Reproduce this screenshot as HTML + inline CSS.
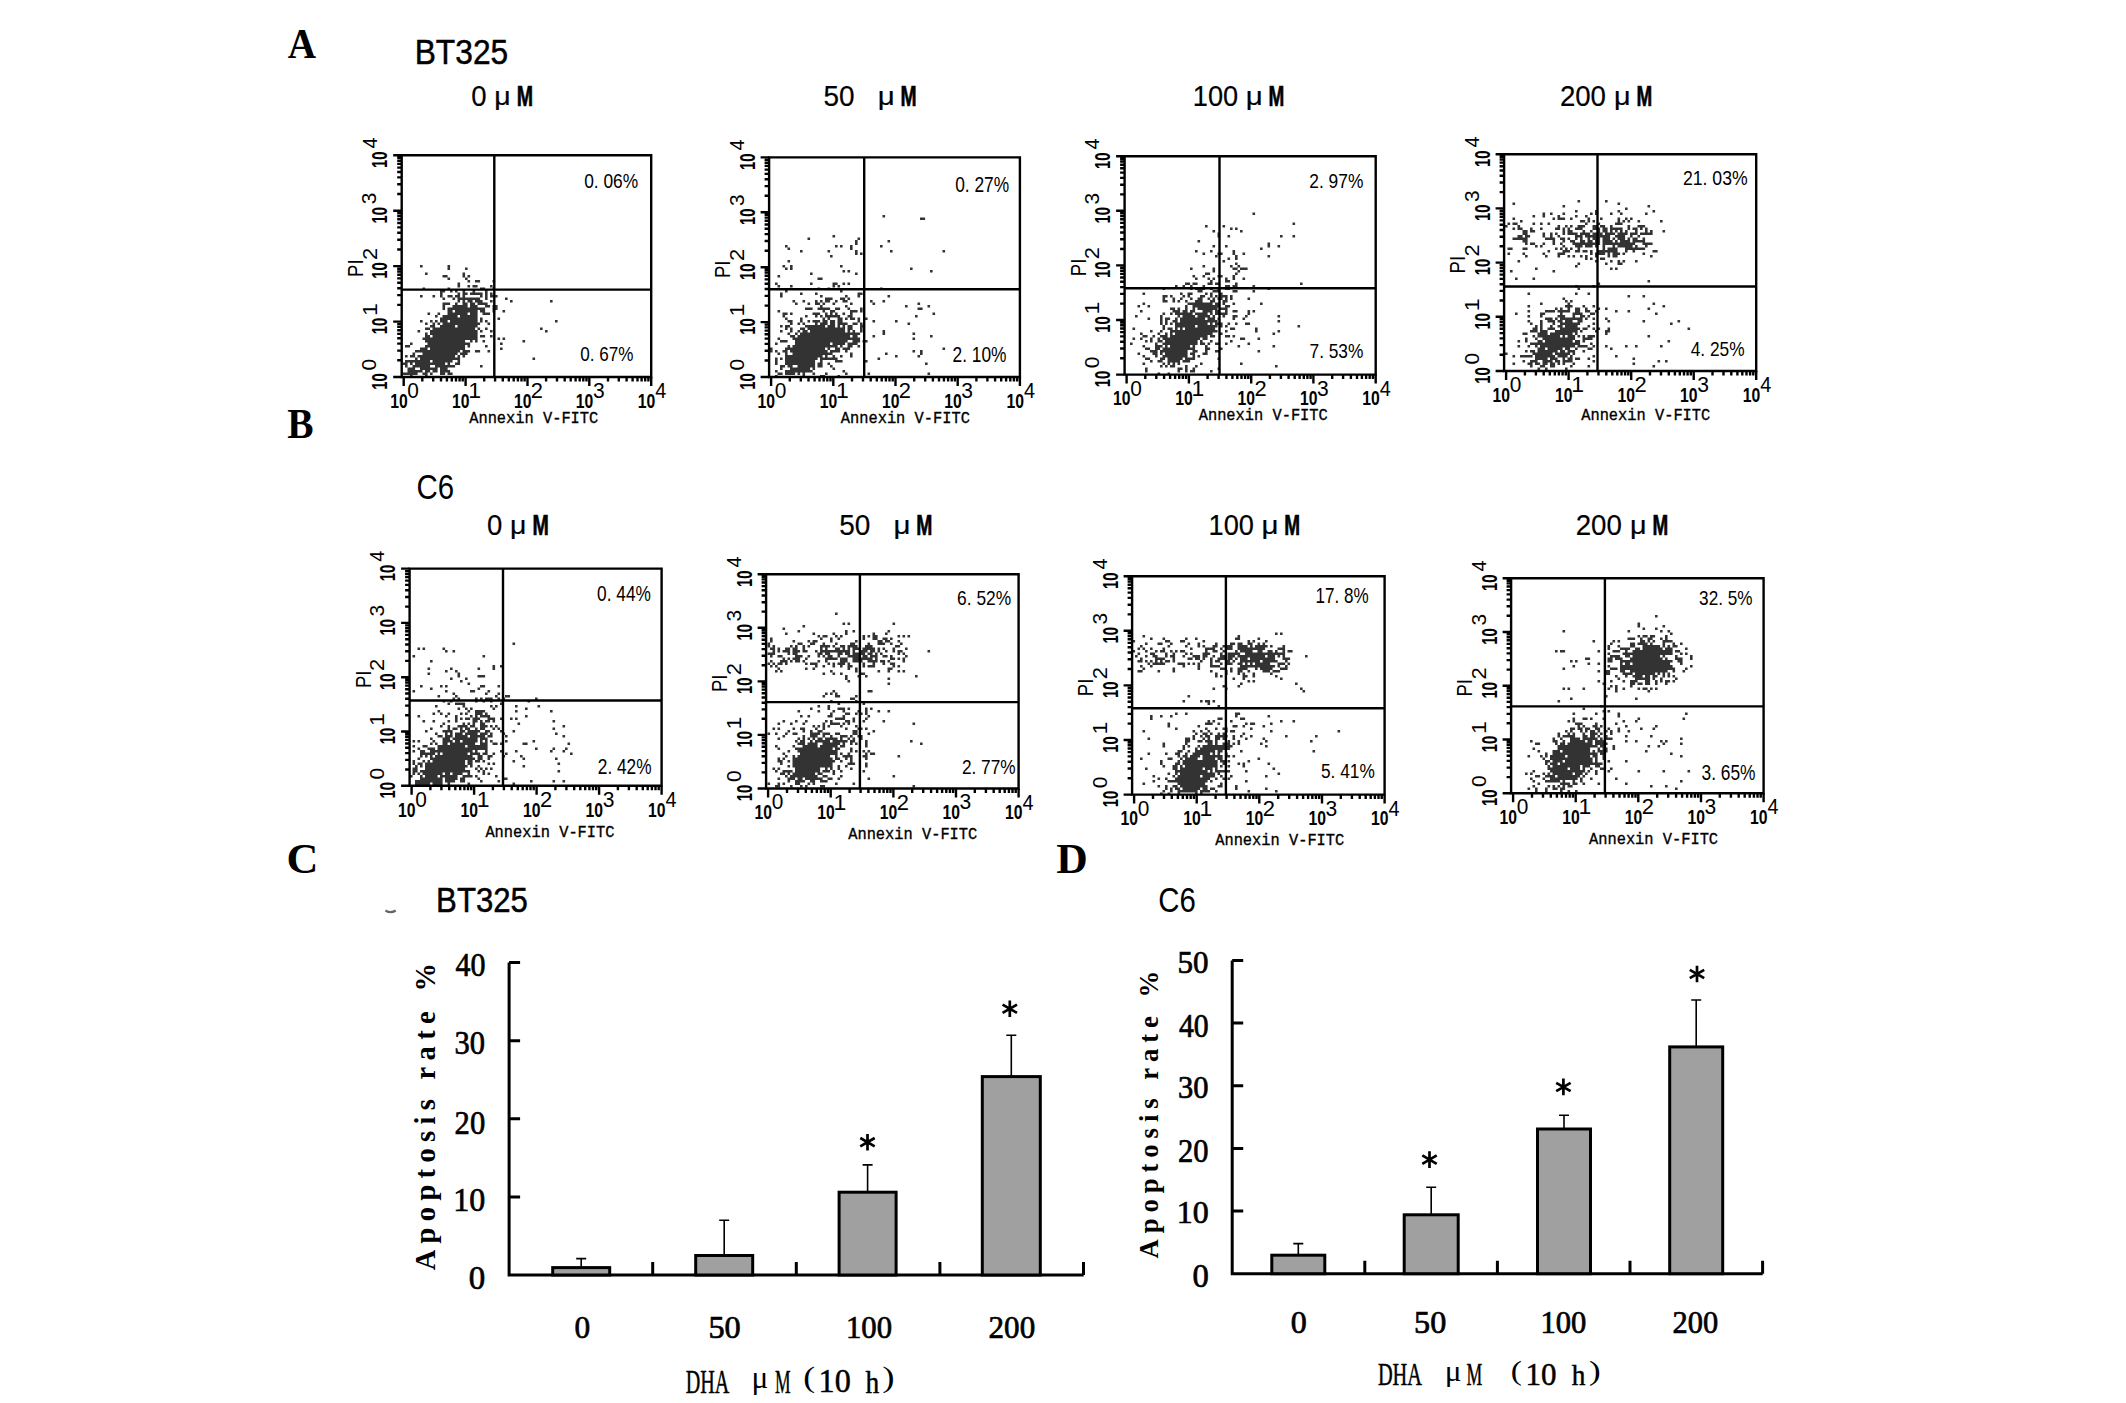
<!DOCTYPE html><html><head><meta charset="utf-8"><style>html,body{margin:0;padding:0;background:#fff;width:2126px;height:1403px;overflow:hidden}svg{display:block}.S{font-family:"Liberation Sans",sans-serif}.R{font-family:"Liberation Serif",serif}.M{font-family:"Liberation Mono",monospace}</style></head><body>
<svg width="2126" height="1403" viewBox="0 0 2126 1403">
<rect width="2126" height="1403" fill="#fff"/>
<text class="R" x="287.8" y="58.2" font-size="42.9" font-weight="bold" textLength="28.3" lengthAdjust="spacingAndGlyphs">A</text>
<text class="R" x="287.2" y="437.6" font-size="42.4" font-weight="bold" textLength="26.3" lengthAdjust="spacingAndGlyphs">B</text>
<text class="R" x="286.4" y="872.7" font-size="42.4" font-weight="bold" textLength="31.9" lengthAdjust="spacingAndGlyphs">C</text>
<text class="R" x="1056.3" y="873.1" font-size="43.2" font-weight="bold" textLength="31.5" lengthAdjust="spacingAndGlyphs">D</text>
<text class="S" x="414.7" y="64.4" font-size="35.6" textLength="93.5" lengthAdjust="spacingAndGlyphs" stroke="#000" stroke-width="0.5">BT325</text>
<text class="S" x="416.6" y="499.1" font-size="35.5" textLength="37.6" lengthAdjust="spacingAndGlyphs">C6</text>
<text class="S" x="436.1" y="912" font-size="35.6" textLength="91.8" lengthAdjust="spacingAndGlyphs" stroke="#000" stroke-width="0.5">BT325</text>
<text class="S" x="1158.3" y="911.6" font-size="35.5" textLength="37.5" lengthAdjust="spacingAndGlyphs">C6</text>
<path d="M385.5 910.5q5.2 3.4 10.2 0" stroke="#666" stroke-width="2.2" fill="none"/>
<text class="S" x="471.2" y="105.5" font-size="29" textLength="15.3" lengthAdjust="spacingAndGlyphs" stroke="#000" stroke-width="0.2">0</text>
<text class="S" x="494.2" y="104.7" font-size="26.3" textLength="16.4" lengthAdjust="spacingAndGlyphs" stroke="#000" stroke-width="0.2">μ</text>
<text class="S" x="516.8" y="105.8" font-size="29.9" font-weight="bold" textLength="16.3" lengthAdjust="spacingAndGlyphs" stroke="#000" stroke-width="0.7">M</text>
<path fill="#333" d="M402.5 362.5h2.6v2.6h-2.6zM402.5 372.5h2.6v2.6h-2.6zM405 345h2.6v2.6h-2.6zM405 355h2.6v2.6h-2.6zM405 360h2.6v2.6h-2.6zM405 362.5h2.6v2.6h-2.6zM405 365h2.6v2.6h-2.6zM405 372.5h2.6v2.6h-2.6zM407.5 345h2.6v2.6h-2.6zM407.5 360h2.6v2.6h-2.6zM407.5 367.5h2.6v2.6h-2.6zM407.5 370h2.6v2.6h-2.6zM407.5 372.5h2.6v2.6h-2.6zM410 342.5h2.6v2.6h-2.6zM410 355h2.6v2.6h-2.6zM410 360h2.6v2.6h-2.6zM410 362.5h2.6v2.6h-2.6zM410 367.5h2.6v2.6h-2.6zM410 370h2.6v2.6h-2.6zM410 372.5h2.6v2.6h-2.6zM410 375h2.6v2.6h-2.6zM412.5 352.5h2.6v2.6h-2.6zM412.5 355h2.6v2.6h-2.6zM412.5 360h2.6v2.6h-2.6zM412.5 365h2.6v2.6h-2.6zM412.5 367.5h2.6v2.6h-2.6zM412.5 370h2.6v2.6h-2.6zM412.5 372.5h2.6v2.6h-2.6zM415 350h2.6v2.6h-2.6zM415 357.5h2.6v2.6h-2.6zM415 360h2.6v2.6h-2.6zM415 362.5h2.6v2.6h-2.6zM415 365h2.6v2.6h-2.6zM415 370h2.6v2.6h-2.6zM415 372.5h2.6v2.6h-2.6zM417.5 330h2.6v2.6h-2.6zM417.5 350h2.6v2.6h-2.6zM417.5 355h2.6v2.6h-2.6zM417.5 360h2.6v2.6h-2.6zM417.5 362.5h2.6v2.6h-2.6zM417.5 365h2.6v2.6h-2.6zM417.5 370h2.6v2.6h-2.6zM420 265h2.6v2.6h-2.6zM420 295h2.6v2.6h-2.6zM420 320h2.6v2.6h-2.6zM420 347.5h2.6v2.6h-2.6zM420 350h2.6v2.6h-2.6zM420 355h2.6v2.6h-2.6zM420 357.5h2.6v2.6h-2.6zM420 360h2.6v2.6h-2.6zM420 362.5h2.6v2.6h-2.6zM420 365h2.6v2.6h-2.6zM420 367.5h2.6v2.6h-2.6zM420 370h2.6v2.6h-2.6zM422.5 287.5h2.6v2.6h-2.6zM422.5 337.5h2.6v2.6h-2.6zM422.5 347.5h2.6v2.6h-2.6zM422.5 350h2.6v2.6h-2.6zM422.5 352.5h2.6v2.6h-2.6zM422.5 355h2.6v2.6h-2.6zM422.5 357.5h2.6v2.6h-2.6zM422.5 360h2.6v2.6h-2.6zM422.5 362.5h2.6v2.6h-2.6zM422.5 365h2.6v2.6h-2.6zM422.5 367.5h2.6v2.6h-2.6zM422.5 372.5h2.6v2.6h-2.6zM425 272.5h2.6v2.6h-2.6zM425 322.5h2.6v2.6h-2.6zM425 327.5h2.6v2.6h-2.6zM425 332.5h2.6v2.6h-2.6zM425 335h2.6v2.6h-2.6zM425 337.5h2.6v2.6h-2.6zM425 340h2.6v2.6h-2.6zM425 345h2.6v2.6h-2.6zM425 347.5h2.6v2.6h-2.6zM425 350h2.6v2.6h-2.6zM425 352.5h2.6v2.6h-2.6zM425 355h2.6v2.6h-2.6zM425 357.5h2.6v2.6h-2.6zM425 360h2.6v2.6h-2.6zM425 362.5h2.6v2.6h-2.6zM425 365h2.6v2.6h-2.6zM425 367.5h2.6v2.6h-2.6zM425 370h2.6v2.6h-2.6zM425 372.5h2.6v2.6h-2.6zM425 375h2.6v2.6h-2.6zM427.5 312.5h2.6v2.6h-2.6zM427.5 327.5h2.6v2.6h-2.6zM427.5 335h2.6v2.6h-2.6zM427.5 337.5h2.6v2.6h-2.6zM427.5 340h2.6v2.6h-2.6zM427.5 342.5h2.6v2.6h-2.6zM427.5 345h2.6v2.6h-2.6zM427.5 350h2.6v2.6h-2.6zM427.5 352.5h2.6v2.6h-2.6zM427.5 355h2.6v2.6h-2.6zM427.5 357.5h2.6v2.6h-2.6zM427.5 360h2.6v2.6h-2.6zM427.5 362.5h2.6v2.6h-2.6zM427.5 365h2.6v2.6h-2.6zM427.5 367.5h2.6v2.6h-2.6zM427.5 370h2.6v2.6h-2.6zM430 320h2.6v2.6h-2.6zM430 325h2.6v2.6h-2.6zM430 330h2.6v2.6h-2.6zM430 332.5h2.6v2.6h-2.6zM430 337.5h2.6v2.6h-2.6zM430 340h2.6v2.6h-2.6zM430 342.5h2.6v2.6h-2.6zM430 345h2.6v2.6h-2.6zM430 347.5h2.6v2.6h-2.6zM430 350h2.6v2.6h-2.6zM430 352.5h2.6v2.6h-2.6zM430 355h2.6v2.6h-2.6zM430 357.5h2.6v2.6h-2.6zM430 362.5h2.6v2.6h-2.6zM430 367.5h2.6v2.6h-2.6zM430 372.5h2.6v2.6h-2.6zM432.5 295h2.6v2.6h-2.6zM432.5 322.5h2.6v2.6h-2.6zM432.5 325h2.6v2.6h-2.6zM432.5 327.5h2.6v2.6h-2.6zM432.5 330h2.6v2.6h-2.6zM432.5 332.5h2.6v2.6h-2.6zM432.5 335h2.6v2.6h-2.6zM432.5 337.5h2.6v2.6h-2.6zM432.5 340h2.6v2.6h-2.6zM432.5 342.5h2.6v2.6h-2.6zM432.5 345h2.6v2.6h-2.6zM432.5 347.5h2.6v2.6h-2.6zM432.5 350h2.6v2.6h-2.6zM432.5 352.5h2.6v2.6h-2.6zM432.5 355h2.6v2.6h-2.6zM432.5 357.5h2.6v2.6h-2.6zM432.5 360h2.6v2.6h-2.6zM432.5 362.5h2.6v2.6h-2.6zM432.5 367.5h2.6v2.6h-2.6zM432.5 370h2.6v2.6h-2.6zM435 315h2.6v2.6h-2.6zM435 320h2.6v2.6h-2.6zM435 327.5h2.6v2.6h-2.6zM435 330h2.6v2.6h-2.6zM435 332.5h2.6v2.6h-2.6zM435 335h2.6v2.6h-2.6zM435 337.5h2.6v2.6h-2.6zM435 340h2.6v2.6h-2.6zM435 342.5h2.6v2.6h-2.6zM435 345h2.6v2.6h-2.6zM435 347.5h2.6v2.6h-2.6zM435 350h2.6v2.6h-2.6zM435 352.5h2.6v2.6h-2.6zM435 355h2.6v2.6h-2.6zM435 357.5h2.6v2.6h-2.6zM435 360h2.6v2.6h-2.6zM435 362.5h2.6v2.6h-2.6zM435 365h2.6v2.6h-2.6zM435 367.5h2.6v2.6h-2.6zM435 370h2.6v2.6h-2.6zM437.5 312.5h2.6v2.6h-2.6zM437.5 322.5h2.6v2.6h-2.6zM437.5 327.5h2.6v2.6h-2.6zM437.5 330h2.6v2.6h-2.6zM437.5 332.5h2.6v2.6h-2.6zM437.5 335h2.6v2.6h-2.6zM437.5 337.5h2.6v2.6h-2.6zM437.5 340h2.6v2.6h-2.6zM437.5 342.5h2.6v2.6h-2.6zM437.5 345h2.6v2.6h-2.6zM437.5 347.5h2.6v2.6h-2.6zM437.5 350h2.6v2.6h-2.6zM437.5 352.5h2.6v2.6h-2.6zM437.5 355h2.6v2.6h-2.6zM437.5 357.5h2.6v2.6h-2.6zM437.5 360h2.6v2.6h-2.6zM437.5 362.5h2.6v2.6h-2.6zM437.5 365h2.6v2.6h-2.6zM440 290h2.6v2.6h-2.6zM440 292.5h2.6v2.6h-2.6zM440 295h2.6v2.6h-2.6zM440 317.5h2.6v2.6h-2.6zM440 320h2.6v2.6h-2.6zM440 325h2.6v2.6h-2.6zM440 327.5h2.6v2.6h-2.6zM440 330h2.6v2.6h-2.6zM440 332.5h2.6v2.6h-2.6zM440 335h2.6v2.6h-2.6zM440 337.5h2.6v2.6h-2.6zM440 340h2.6v2.6h-2.6zM440 342.5h2.6v2.6h-2.6zM440 345h2.6v2.6h-2.6zM440 347.5h2.6v2.6h-2.6zM440 350h2.6v2.6h-2.6zM440 352.5h2.6v2.6h-2.6zM440 355h2.6v2.6h-2.6zM440 357.5h2.6v2.6h-2.6zM440 360h2.6v2.6h-2.6zM440 362.5h2.6v2.6h-2.6zM440 365h2.6v2.6h-2.6zM440 367.5h2.6v2.6h-2.6zM440 370h2.6v2.6h-2.6zM440 372.5h2.6v2.6h-2.6zM442.5 275h2.6v2.6h-2.6zM442.5 290h2.6v2.6h-2.6zM442.5 297.5h2.6v2.6h-2.6zM442.5 302.5h2.6v2.6h-2.6zM442.5 305h2.6v2.6h-2.6zM442.5 307.5h2.6v2.6h-2.6zM442.5 315h2.6v2.6h-2.6zM442.5 317.5h2.6v2.6h-2.6zM442.5 320h2.6v2.6h-2.6zM442.5 322.5h2.6v2.6h-2.6zM442.5 325h2.6v2.6h-2.6zM442.5 327.5h2.6v2.6h-2.6zM442.5 330h2.6v2.6h-2.6zM442.5 332.5h2.6v2.6h-2.6zM442.5 335h2.6v2.6h-2.6zM442.5 337.5h2.6v2.6h-2.6zM442.5 340h2.6v2.6h-2.6zM442.5 342.5h2.6v2.6h-2.6zM442.5 345h2.6v2.6h-2.6zM442.5 347.5h2.6v2.6h-2.6zM442.5 350h2.6v2.6h-2.6zM442.5 352.5h2.6v2.6h-2.6zM442.5 355h2.6v2.6h-2.6zM442.5 357.5h2.6v2.6h-2.6zM442.5 360h2.6v2.6h-2.6zM442.5 362.5h2.6v2.6h-2.6zM442.5 365h2.6v2.6h-2.6zM442.5 367.5h2.6v2.6h-2.6zM442.5 370h2.6v2.6h-2.6zM442.5 372.5h2.6v2.6h-2.6zM445 275h2.6v2.6h-2.6zM445 302.5h2.6v2.6h-2.6zM445 315h2.6v2.6h-2.6zM445 317.5h2.6v2.6h-2.6zM445 320h2.6v2.6h-2.6zM445 322.5h2.6v2.6h-2.6zM445 325h2.6v2.6h-2.6zM445 327.5h2.6v2.6h-2.6zM445 330h2.6v2.6h-2.6zM445 332.5h2.6v2.6h-2.6zM445 335h2.6v2.6h-2.6zM445 337.5h2.6v2.6h-2.6zM445 340h2.6v2.6h-2.6zM445 342.5h2.6v2.6h-2.6zM445 345h2.6v2.6h-2.6zM445 347.5h2.6v2.6h-2.6zM445 350h2.6v2.6h-2.6zM445 352.5h2.6v2.6h-2.6zM445 355h2.6v2.6h-2.6zM445 357.5h2.6v2.6h-2.6zM445 360h2.6v2.6h-2.6zM445 365h2.6v2.6h-2.6zM445 367.5h2.6v2.6h-2.6zM445 370h2.6v2.6h-2.6zM447.5 265h2.6v2.6h-2.6zM447.5 267.5h2.6v2.6h-2.6zM447.5 277.5h2.6v2.6h-2.6zM447.5 287.5h2.6v2.6h-2.6zM447.5 295h2.6v2.6h-2.6zM447.5 302.5h2.6v2.6h-2.6zM447.5 307.5h2.6v2.6h-2.6zM447.5 310h2.6v2.6h-2.6zM447.5 312.5h2.6v2.6h-2.6zM447.5 315h2.6v2.6h-2.6zM447.5 317.5h2.6v2.6h-2.6zM447.5 322.5h2.6v2.6h-2.6zM447.5 325h2.6v2.6h-2.6zM447.5 327.5h2.6v2.6h-2.6zM447.5 330h2.6v2.6h-2.6zM447.5 332.5h2.6v2.6h-2.6zM447.5 335h2.6v2.6h-2.6zM447.5 337.5h2.6v2.6h-2.6zM447.5 340h2.6v2.6h-2.6zM447.5 342.5h2.6v2.6h-2.6zM447.5 345h2.6v2.6h-2.6zM447.5 347.5h2.6v2.6h-2.6zM447.5 350h2.6v2.6h-2.6zM447.5 352.5h2.6v2.6h-2.6zM447.5 355h2.6v2.6h-2.6zM447.5 357.5h2.6v2.6h-2.6zM447.5 360h2.6v2.6h-2.6zM447.5 362.5h2.6v2.6h-2.6zM447.5 365h2.6v2.6h-2.6zM447.5 370h2.6v2.6h-2.6zM447.5 372.5h2.6v2.6h-2.6zM450 290h2.6v2.6h-2.6zM450 295h2.6v2.6h-2.6zM450 307.5h2.6v2.6h-2.6zM450 310h2.6v2.6h-2.6zM450 312.5h2.6v2.6h-2.6zM450 315h2.6v2.6h-2.6zM450 317.5h2.6v2.6h-2.6zM450 320h2.6v2.6h-2.6zM450 322.5h2.6v2.6h-2.6zM450 325h2.6v2.6h-2.6zM450 327.5h2.6v2.6h-2.6zM450 330h2.6v2.6h-2.6zM450 332.5h2.6v2.6h-2.6zM450 335h2.6v2.6h-2.6zM450 337.5h2.6v2.6h-2.6zM450 340h2.6v2.6h-2.6zM450 342.5h2.6v2.6h-2.6zM450 345h2.6v2.6h-2.6zM450 347.5h2.6v2.6h-2.6zM450 350h2.6v2.6h-2.6zM450 352.5h2.6v2.6h-2.6zM450 355h2.6v2.6h-2.6zM450 357.5h2.6v2.6h-2.6zM450 360h2.6v2.6h-2.6zM450 365h2.6v2.6h-2.6zM450 372.5h2.6v2.6h-2.6zM452.5 297.5h2.6v2.6h-2.6zM452.5 305h2.6v2.6h-2.6zM452.5 307.5h2.6v2.6h-2.6zM452.5 312.5h2.6v2.6h-2.6zM452.5 315h2.6v2.6h-2.6zM452.5 317.5h2.6v2.6h-2.6zM452.5 320h2.6v2.6h-2.6zM452.5 322.5h2.6v2.6h-2.6zM452.5 325h2.6v2.6h-2.6zM452.5 327.5h2.6v2.6h-2.6zM452.5 330h2.6v2.6h-2.6zM452.5 332.5h2.6v2.6h-2.6zM452.5 335h2.6v2.6h-2.6zM452.5 337.5h2.6v2.6h-2.6zM452.5 340h2.6v2.6h-2.6zM452.5 342.5h2.6v2.6h-2.6zM452.5 345h2.6v2.6h-2.6zM452.5 347.5h2.6v2.6h-2.6zM452.5 350h2.6v2.6h-2.6zM452.5 352.5h2.6v2.6h-2.6zM452.5 355h2.6v2.6h-2.6zM452.5 357.5h2.6v2.6h-2.6zM452.5 365h2.6v2.6h-2.6zM455 290h2.6v2.6h-2.6zM455 295h2.6v2.6h-2.6zM455 302.5h2.6v2.6h-2.6zM455 305h2.6v2.6h-2.6zM455 307.5h2.6v2.6h-2.6zM455 310h2.6v2.6h-2.6zM455 312.5h2.6v2.6h-2.6zM455 315h2.6v2.6h-2.6zM455 317.5h2.6v2.6h-2.6zM455 320h2.6v2.6h-2.6zM455 322.5h2.6v2.6h-2.6zM455 327.5h2.6v2.6h-2.6zM455 330h2.6v2.6h-2.6zM455 332.5h2.6v2.6h-2.6zM455 335h2.6v2.6h-2.6zM455 337.5h2.6v2.6h-2.6zM455 340h2.6v2.6h-2.6zM455 342.5h2.6v2.6h-2.6zM455 345h2.6v2.6h-2.6zM455 347.5h2.6v2.6h-2.6zM455 350h2.6v2.6h-2.6zM455 352.5h2.6v2.6h-2.6zM455 357.5h2.6v2.6h-2.6zM455 362.5h2.6v2.6h-2.6zM457.5 282.5h2.6v2.6h-2.6zM457.5 285h2.6v2.6h-2.6zM457.5 292.5h2.6v2.6h-2.6zM457.5 295h2.6v2.6h-2.6zM457.5 297.5h2.6v2.6h-2.6zM457.5 300h2.6v2.6h-2.6zM457.5 305h2.6v2.6h-2.6zM457.5 307.5h2.6v2.6h-2.6zM457.5 310h2.6v2.6h-2.6zM457.5 312.5h2.6v2.6h-2.6zM457.5 317.5h2.6v2.6h-2.6zM457.5 320h2.6v2.6h-2.6zM457.5 322.5h2.6v2.6h-2.6zM457.5 325h2.6v2.6h-2.6zM457.5 327.5h2.6v2.6h-2.6zM457.5 330h2.6v2.6h-2.6zM457.5 332.5h2.6v2.6h-2.6zM457.5 335h2.6v2.6h-2.6zM457.5 337.5h2.6v2.6h-2.6zM457.5 340h2.6v2.6h-2.6zM457.5 342.5h2.6v2.6h-2.6zM457.5 345h2.6v2.6h-2.6zM457.5 347.5h2.6v2.6h-2.6zM457.5 350h2.6v2.6h-2.6zM457.5 355h2.6v2.6h-2.6zM457.5 357.5h2.6v2.6h-2.6zM457.5 360h2.6v2.6h-2.6zM457.5 362.5h2.6v2.6h-2.6zM460 297.5h2.6v2.6h-2.6zM460 305h2.6v2.6h-2.6zM460 307.5h2.6v2.6h-2.6zM460 310h2.6v2.6h-2.6zM460 312.5h2.6v2.6h-2.6zM460 315h2.6v2.6h-2.6zM460 317.5h2.6v2.6h-2.6zM460 320h2.6v2.6h-2.6zM460 322.5h2.6v2.6h-2.6zM460 325h2.6v2.6h-2.6zM460 327.5h2.6v2.6h-2.6zM460 330h2.6v2.6h-2.6zM460 332.5h2.6v2.6h-2.6zM460 335h2.6v2.6h-2.6zM460 337.5h2.6v2.6h-2.6zM460 340h2.6v2.6h-2.6zM460 342.5h2.6v2.6h-2.6zM460 345h2.6v2.6h-2.6zM460 347.5h2.6v2.6h-2.6zM460 352.5h2.6v2.6h-2.6zM462.5 272.5h2.6v2.6h-2.6zM462.5 275h2.6v2.6h-2.6zM462.5 290h2.6v2.6h-2.6zM462.5 292.5h2.6v2.6h-2.6zM462.5 295h2.6v2.6h-2.6zM462.5 297.5h2.6v2.6h-2.6zM462.5 300h2.6v2.6h-2.6zM462.5 302.5h2.6v2.6h-2.6zM462.5 305h2.6v2.6h-2.6zM462.5 307.5h2.6v2.6h-2.6zM462.5 310h2.6v2.6h-2.6zM462.5 312.5h2.6v2.6h-2.6zM462.5 315h2.6v2.6h-2.6zM462.5 317.5h2.6v2.6h-2.6zM462.5 320h2.6v2.6h-2.6zM462.5 322.5h2.6v2.6h-2.6zM462.5 325h2.6v2.6h-2.6zM462.5 327.5h2.6v2.6h-2.6zM462.5 330h2.6v2.6h-2.6zM462.5 332.5h2.6v2.6h-2.6zM462.5 335h2.6v2.6h-2.6zM462.5 337.5h2.6v2.6h-2.6zM462.5 340h2.6v2.6h-2.6zM462.5 342.5h2.6v2.6h-2.6zM462.5 345h2.6v2.6h-2.6zM462.5 347.5h2.6v2.6h-2.6zM462.5 350h2.6v2.6h-2.6zM462.5 352.5h2.6v2.6h-2.6zM462.5 355h2.6v2.6h-2.6zM465 267.5h2.6v2.6h-2.6zM465 277.5h2.6v2.6h-2.6zM465 292.5h2.6v2.6h-2.6zM465 297.5h2.6v2.6h-2.6zM465 302.5h2.6v2.6h-2.6zM465 305h2.6v2.6h-2.6zM465 307.5h2.6v2.6h-2.6zM465 310h2.6v2.6h-2.6zM465 312.5h2.6v2.6h-2.6zM465 315h2.6v2.6h-2.6zM465 317.5h2.6v2.6h-2.6zM465 320h2.6v2.6h-2.6zM465 322.5h2.6v2.6h-2.6zM465 325h2.6v2.6h-2.6zM465 327.5h2.6v2.6h-2.6zM465 330h2.6v2.6h-2.6zM465 332.5h2.6v2.6h-2.6zM465 335h2.6v2.6h-2.6zM465 337.5h2.6v2.6h-2.6zM465 342.5h2.6v2.6h-2.6zM465 350h2.6v2.6h-2.6zM465 352.5h2.6v2.6h-2.6zM467.5 275h2.6v2.6h-2.6zM467.5 280h2.6v2.6h-2.6zM467.5 285h2.6v2.6h-2.6zM467.5 297.5h2.6v2.6h-2.6zM467.5 300h2.6v2.6h-2.6zM467.5 307.5h2.6v2.6h-2.6zM467.5 310h2.6v2.6h-2.6zM467.5 315h2.6v2.6h-2.6zM467.5 317.5h2.6v2.6h-2.6zM467.5 320h2.6v2.6h-2.6zM467.5 322.5h2.6v2.6h-2.6zM467.5 325h2.6v2.6h-2.6zM467.5 327.5h2.6v2.6h-2.6zM467.5 330h2.6v2.6h-2.6zM467.5 332.5h2.6v2.6h-2.6zM467.5 335h2.6v2.6h-2.6zM467.5 337.5h2.6v2.6h-2.6zM467.5 342.5h2.6v2.6h-2.6zM467.5 345h2.6v2.6h-2.6zM467.5 350h2.6v2.6h-2.6zM470 292.5h2.6v2.6h-2.6zM470 297.5h2.6v2.6h-2.6zM470 300h2.6v2.6h-2.6zM470 302.5h2.6v2.6h-2.6zM470 305h2.6v2.6h-2.6zM470 307.5h2.6v2.6h-2.6zM470 310h2.6v2.6h-2.6zM470 312.5h2.6v2.6h-2.6zM470 315h2.6v2.6h-2.6zM470 317.5h2.6v2.6h-2.6zM470 320h2.6v2.6h-2.6zM470 322.5h2.6v2.6h-2.6zM470 325h2.6v2.6h-2.6zM470 327.5h2.6v2.6h-2.6zM470 330h2.6v2.6h-2.6zM470 332.5h2.6v2.6h-2.6zM470 335h2.6v2.6h-2.6zM470 337.5h2.6v2.6h-2.6zM470 340h2.6v2.6h-2.6zM472.5 285h2.6v2.6h-2.6zM472.5 290h2.6v2.6h-2.6zM472.5 292.5h2.6v2.6h-2.6zM472.5 297.5h2.6v2.6h-2.6zM472.5 302.5h2.6v2.6h-2.6zM472.5 305h2.6v2.6h-2.6zM472.5 307.5h2.6v2.6h-2.6zM472.5 310h2.6v2.6h-2.6zM472.5 312.5h2.6v2.6h-2.6zM472.5 315h2.6v2.6h-2.6zM472.5 317.5h2.6v2.6h-2.6zM472.5 320h2.6v2.6h-2.6zM472.5 322.5h2.6v2.6h-2.6zM472.5 325h2.6v2.6h-2.6zM472.5 327.5h2.6v2.6h-2.6zM472.5 330h2.6v2.6h-2.6zM472.5 332.5h2.6v2.6h-2.6zM472.5 335h2.6v2.6h-2.6zM472.5 337.5h2.6v2.6h-2.6zM475 280h2.6v2.6h-2.6zM475 285h2.6v2.6h-2.6zM475 292.5h2.6v2.6h-2.6zM475 297.5h2.6v2.6h-2.6zM475 300h2.6v2.6h-2.6zM475 305h2.6v2.6h-2.6zM475 307.5h2.6v2.6h-2.6zM475 310h2.6v2.6h-2.6zM475 312.5h2.6v2.6h-2.6zM475 315h2.6v2.6h-2.6zM475 317.5h2.6v2.6h-2.6zM475 320h2.6v2.6h-2.6zM475 322.5h2.6v2.6h-2.6zM475 325h2.6v2.6h-2.6zM475 330h2.6v2.6h-2.6zM475 332.5h2.6v2.6h-2.6zM475 335h2.6v2.6h-2.6zM475 337.5h2.6v2.6h-2.6zM475 340h2.6v2.6h-2.6zM475 350h2.6v2.6h-2.6zM477.5 280h2.6v2.6h-2.6zM477.5 292.5h2.6v2.6h-2.6zM477.5 297.5h2.6v2.6h-2.6zM477.5 300h2.6v2.6h-2.6zM477.5 302.5h2.6v2.6h-2.6zM477.5 307.5h2.6v2.6h-2.6zM477.5 322.5h2.6v2.6h-2.6zM477.5 327.5h2.6v2.6h-2.6zM477.5 350h2.6v2.6h-2.6zM480 287.5h2.6v2.6h-2.6zM480 292.5h2.6v2.6h-2.6zM480 295h2.6v2.6h-2.6zM480 300h2.6v2.6h-2.6zM480 302.5h2.6v2.6h-2.6zM480 307.5h2.6v2.6h-2.6zM480 310h2.6v2.6h-2.6zM480 317.5h2.6v2.6h-2.6zM480 320h2.6v2.6h-2.6zM480 330h2.6v2.6h-2.6zM480 335h2.6v2.6h-2.6zM480 365h2.6v2.6h-2.6zM482.5 287.5h2.6v2.6h-2.6zM482.5 302.5h2.6v2.6h-2.6zM482.5 307.5h2.6v2.6h-2.6zM482.5 310h2.6v2.6h-2.6zM482.5 312.5h2.6v2.6h-2.6zM482.5 335h2.6v2.6h-2.6zM482.5 340h2.6v2.6h-2.6zM485 290h2.6v2.6h-2.6zM485 292.5h2.6v2.6h-2.6zM485 295h2.6v2.6h-2.6zM485 297.5h2.6v2.6h-2.6zM485 302.5h2.6v2.6h-2.6zM485 305h2.6v2.6h-2.6zM485 312.5h2.6v2.6h-2.6zM485 320h2.6v2.6h-2.6zM485 327.5h2.6v2.6h-2.6zM485 345h2.6v2.6h-2.6zM487.5 305h2.6v2.6h-2.6zM487.5 312.5h2.6v2.6h-2.6zM487.5 322.5h2.6v2.6h-2.6zM487.5 350h2.6v2.6h-2.6zM490 285h2.6v2.6h-2.6zM490 292.5h2.6v2.6h-2.6zM490 295h2.6v2.6h-2.6zM490 300h2.6v2.6h-2.6zM490 330h2.6v2.6h-2.6zM490 335h2.6v2.6h-2.6zM492.5 280h2.6v2.6h-2.6zM492.5 287.5h2.6v2.6h-2.6zM492.5 295h2.6v2.6h-2.6zM492.5 305h2.6v2.6h-2.6zM492.5 307.5h2.6v2.6h-2.6zM492.5 310h2.6v2.6h-2.6zM495 295h2.6v2.6h-2.6zM495 305h2.6v2.6h-2.6zM495 307.5h2.6v2.6h-2.6zM497.5 317.5h2.6v2.6h-2.6zM497.5 337.5h2.6v2.6h-2.6zM500 342.5h2.6v2.6h-2.6zM500 347.5h2.6v2.6h-2.6zM502.5 310h2.6v2.6h-2.6zM502.5 337.5h2.6v2.6h-2.6zM505 297.5h2.6v2.6h-2.6zM510 300h2.6v2.6h-2.6zM522.5 340h2.6v2.6h-2.6zM532.5 357.5h2.6v2.6h-2.6zM540 327.5h2.6v2.6h-2.6zM545 330h2.6v2.6h-2.6zM550 300h2.6v2.6h-2.6zM555 320h2.6v2.6h-2.6z"/>
<path d="M401.7 155.3H651.2V377H401.7ZM494.3 155.3V377M401.7 289.6H651.2" stroke="#000" stroke-width="2.4" fill="none"/>
<path d="M403.7 377v9M401.7 377h-8.5M422.3 377v4.5M401.7 360.3h-4.5M433.2 377v4.5M401.7 350.6h-4.5M441 377v4.5M401.7 343.6h-4.5M446.9 377v4.5M401.7 338.3h-4.5M451.8 377v4.5M401.7 333.9h-4.5M456 377v4.5M401.7 330.2h-4.5M459.6 377v4.5M401.7 326.9h-4.5M462.7 377v4.5M401.7 324.1h-4.5M465.6 377v9M401.7 321.6h-8.5M484.2 377v4.5M401.7 304.9h-4.5M495.1 377v4.5M401.7 295.1h-4.5M502.8 377v4.5M401.7 288.2h-4.5M508.8 377v4.5M401.7 282.8h-4.5M513.7 377v4.5M401.7 278.4h-4.5M517.9 377v4.5M401.7 274.7h-4.5M521.5 377v4.5M401.7 271.5h-4.5M524.6 377v4.5M401.7 268.7h-4.5M527.5 377v9M401.7 266.1h-8.5M546.1 377v4.5M401.7 249.5h-4.5M557 377v4.5M401.7 239.7h-4.5M564.7 377v4.5M401.7 232.8h-4.5M570.7 377v4.5M401.7 227.4h-4.5M575.6 377v4.5M401.7 223h-4.5M579.7 377v4.5M401.7 219.3h-4.5M583.3 377v4.5M401.7 216.1h-4.5M586.5 377v4.5M401.7 213.3h-4.5M589.3 377v9M401.7 210.7h-8.5M608 377v4.5M401.7 194h-4.5M618.8 377v4.5M401.7 184.3h-4.5M626.6 377v4.5M401.7 177.4h-4.5M632.6 377v4.5M401.7 172h-4.5M637.5 377v4.5M401.7 167.6h-4.5M641.6 377v4.5M401.7 163.9h-4.5M645.2 377v4.5M401.7 160.7h-4.5M648.4 377v4.5M401.7 157.8h-4.5M651.2 377v9M401.7 155.3h-8.5" stroke="#000" stroke-width="2.4" fill="none"/>
<text class="S" x="390.2" y="407.7" font-size="19.4" font-weight="bold" textLength="17.5" lengthAdjust="spacingAndGlyphs">10</text>
<text class="S" x="407.3" y="397.9" font-size="22.3" textLength="11.6" lengthAdjust="spacingAndGlyphs">0</text>
<text class="S" x="452" y="407.7" font-size="19.4" font-weight="bold" textLength="17.5" lengthAdjust="spacingAndGlyphs">10</text>
<text class="S" x="468.3" y="398.1" font-size="22.9" textLength="12.8" lengthAdjust="spacingAndGlyphs">1</text>
<text class="S" x="513.9" y="407.7" font-size="19.4" font-weight="bold" textLength="17.5" lengthAdjust="spacingAndGlyphs">10</text>
<text class="S" x="530.8" y="398.1" font-size="22.6" textLength="12.2" lengthAdjust="spacingAndGlyphs">2</text>
<text class="S" x="575.8" y="407.7" font-size="19.4" font-weight="bold" textLength="17.5" lengthAdjust="spacingAndGlyphs">10</text>
<text class="S" x="592.9" y="397.9" font-size="22.3" textLength="11.7" lengthAdjust="spacingAndGlyphs">3</text>
<text class="S" x="637.7" y="407.7" font-size="19.4" font-weight="bold" textLength="17.5" lengthAdjust="spacingAndGlyphs">10</text>
<text class="S" x="655.2" y="398.1" font-size="22.9" textLength="11" lengthAdjust="spacingAndGlyphs">4</text>
<text class="S" transform="translate(0,388.8) rotate(-90)" x="-0.9" y="387.4" font-size="21.7" font-weight="bold" textLength="16.5" lengthAdjust="spacingAndGlyphs">10</text>
<text class="S" transform="translate(0,369.8) rotate(-90)" x="-0.8" y="376.3" font-size="19.7" textLength="11.6" lengthAdjust="spacingAndGlyphs">0</text>
<text class="S" transform="translate(0,333.4) rotate(-90)" x="-0.9" y="387.4" font-size="21.7" font-weight="bold" textLength="16.5" lengthAdjust="spacingAndGlyphs">10</text>
<text class="S" transform="translate(0,314.4) rotate(-90)" x="-1.7" y="376.5" font-size="20.3" textLength="12.8" lengthAdjust="spacingAndGlyphs">1</text>
<text class="S" transform="translate(0,277.9) rotate(-90)" x="-0.9" y="387.4" font-size="21.7" font-weight="bold" textLength="16.5" lengthAdjust="spacingAndGlyphs">10</text>
<text class="S" transform="translate(0,258.9) rotate(-90)" x="-1.1" y="376.5" font-size="20" textLength="12.2" lengthAdjust="spacingAndGlyphs">2</text>
<text class="S" transform="translate(0,222.5) rotate(-90)" x="-0.9" y="387.4" font-size="21.7" font-weight="bold" textLength="16.5" lengthAdjust="spacingAndGlyphs">10</text>
<text class="S" transform="translate(0,203.5) rotate(-90)" x="-0.8" y="376.3" font-size="19.7" textLength="11.7" lengthAdjust="spacingAndGlyphs">3</text>
<text class="S" transform="translate(0,167.1) rotate(-90)" x="-0.9" y="387.4" font-size="21.7" font-weight="bold" textLength="16.5" lengthAdjust="spacingAndGlyphs">10</text>
<text class="S" transform="translate(0,148.1) rotate(-90)" x="-0.4" y="376.5" font-size="20.3" textLength="11" lengthAdjust="spacingAndGlyphs">4</text>
<text class="S" transform="translate(0,275.4) rotate(-90)" x="-1.5" y="362.8" font-size="22.8" textLength="17.5" lengthAdjust="spacingAndGlyphs">PI</text>
<text class="M" x="469.2" y="422.7" font-size="16.7" textLength="129.1" lengthAdjust="spacingAndGlyphs" stroke="#000" stroke-width="0.35">Annexin V-FITC</text>
<text class="S" x="584.2" y="187.6" font-size="21" textLength="54" lengthAdjust="spacingAndGlyphs">0. 06%</text>
<text class="S" x="580.2" y="360.7" font-size="21" textLength="53.2" lengthAdjust="spacingAndGlyphs">0. 67%</text>
<text class="S" x="823.5" y="105.5" font-size="29" textLength="31.1" lengthAdjust="spacingAndGlyphs" stroke="#000" stroke-width="0.2">50</text>
<text class="S" x="877.8" y="104.7" font-size="26.3" textLength="17" lengthAdjust="spacingAndGlyphs" stroke="#000" stroke-width="0.2">μ</text>
<text class="S" x="900.4" y="105.8" font-size="29.9" font-weight="bold" textLength="16.1" lengthAdjust="spacingAndGlyphs" stroke="#000" stroke-width="0.7">M</text>
<path fill="#333" d="M770 347.5h2.6v2.6h-2.6zM770 350h2.6v2.6h-2.6zM775 282.5h2.6v2.6h-2.6zM775 342.5h2.6v2.6h-2.6zM775 350h2.6v2.6h-2.6zM775 357.5h2.6v2.6h-2.6zM775 360h2.6v2.6h-2.6zM775 362.5h2.6v2.6h-2.6zM775 370h2.6v2.6h-2.6zM775 375h2.6v2.6h-2.6zM777.5 275h2.6v2.6h-2.6zM777.5 285h2.6v2.6h-2.6zM777.5 310h2.6v2.6h-2.6zM777.5 337.5h2.6v2.6h-2.6zM777.5 352.5h2.6v2.6h-2.6zM777.5 372.5h2.6v2.6h-2.6zM780 292.5h2.6v2.6h-2.6zM780 295h2.6v2.6h-2.6zM780 325h2.6v2.6h-2.6zM780 330h2.6v2.6h-2.6zM780 340h2.6v2.6h-2.6zM780 357.5h2.6v2.6h-2.6zM780 365h2.6v2.6h-2.6zM780 367.5h2.6v2.6h-2.6zM780 372.5h2.6v2.6h-2.6zM782.5 265h2.6v2.6h-2.6zM782.5 312.5h2.6v2.6h-2.6zM782.5 315h2.6v2.6h-2.6zM782.5 340h2.6v2.6h-2.6zM782.5 350h2.6v2.6h-2.6zM782.5 365h2.6v2.6h-2.6zM785 245h2.6v2.6h-2.6zM785 267.5h2.6v2.6h-2.6zM785 290h2.6v2.6h-2.6zM785 312.5h2.6v2.6h-2.6zM785 317.5h2.6v2.6h-2.6zM785 325h2.6v2.6h-2.6zM785 327.5h2.6v2.6h-2.6zM785 340h2.6v2.6h-2.6zM785 347.5h2.6v2.6h-2.6zM785 350h2.6v2.6h-2.6zM785 352.5h2.6v2.6h-2.6zM785 355h2.6v2.6h-2.6zM785 357.5h2.6v2.6h-2.6zM785 360h2.6v2.6h-2.6zM785 362.5h2.6v2.6h-2.6zM785 370h2.6v2.6h-2.6zM785 372.5h2.6v2.6h-2.6zM787.5 247.5h2.6v2.6h-2.6zM787.5 260h2.6v2.6h-2.6zM787.5 320h2.6v2.6h-2.6zM787.5 325h2.6v2.6h-2.6zM787.5 332.5h2.6v2.6h-2.6zM787.5 345h2.6v2.6h-2.6zM787.5 347.5h2.6v2.6h-2.6zM787.5 355h2.6v2.6h-2.6zM787.5 357.5h2.6v2.6h-2.6zM787.5 360h2.6v2.6h-2.6zM787.5 362.5h2.6v2.6h-2.6zM787.5 365h2.6v2.6h-2.6zM787.5 370h2.6v2.6h-2.6zM787.5 372.5h2.6v2.6h-2.6zM790 265h2.6v2.6h-2.6zM790 267.5h2.6v2.6h-2.6zM790 285h2.6v2.6h-2.6zM790 312.5h2.6v2.6h-2.6zM790 320h2.6v2.6h-2.6zM790 322.5h2.6v2.6h-2.6zM790 327.5h2.6v2.6h-2.6zM790 330h2.6v2.6h-2.6zM790 335h2.6v2.6h-2.6zM790 347.5h2.6v2.6h-2.6zM790 350h2.6v2.6h-2.6zM790 355h2.6v2.6h-2.6zM790 357.5h2.6v2.6h-2.6zM790 360h2.6v2.6h-2.6zM790 362.5h2.6v2.6h-2.6zM790 365h2.6v2.6h-2.6zM790 367.5h2.6v2.6h-2.6zM790 370h2.6v2.6h-2.6zM790 372.5h2.6v2.6h-2.6zM792.5 300h2.6v2.6h-2.6zM792.5 335h2.6v2.6h-2.6zM792.5 337.5h2.6v2.6h-2.6zM792.5 345h2.6v2.6h-2.6zM792.5 347.5h2.6v2.6h-2.6zM792.5 350h2.6v2.6h-2.6zM792.5 352.5h2.6v2.6h-2.6zM792.5 355h2.6v2.6h-2.6zM792.5 357.5h2.6v2.6h-2.6zM792.5 360h2.6v2.6h-2.6zM792.5 362.5h2.6v2.6h-2.6zM792.5 367.5h2.6v2.6h-2.6zM792.5 370h2.6v2.6h-2.6zM792.5 372.5h2.6v2.6h-2.6zM795 302.5h2.6v2.6h-2.6zM795 332.5h2.6v2.6h-2.6zM795 337.5h2.6v2.6h-2.6zM795 340h2.6v2.6h-2.6zM795 342.5h2.6v2.6h-2.6zM795 345h2.6v2.6h-2.6zM795 347.5h2.6v2.6h-2.6zM795 350h2.6v2.6h-2.6zM795 352.5h2.6v2.6h-2.6zM795 355h2.6v2.6h-2.6zM795 357.5h2.6v2.6h-2.6zM795 360h2.6v2.6h-2.6zM795 362.5h2.6v2.6h-2.6zM795 367.5h2.6v2.6h-2.6zM795 370h2.6v2.6h-2.6zM797.5 322.5h2.6v2.6h-2.6zM797.5 330h2.6v2.6h-2.6zM797.5 335h2.6v2.6h-2.6zM797.5 337.5h2.6v2.6h-2.6zM797.5 340h2.6v2.6h-2.6zM797.5 342.5h2.6v2.6h-2.6zM797.5 345h2.6v2.6h-2.6zM797.5 347.5h2.6v2.6h-2.6zM797.5 350h2.6v2.6h-2.6zM797.5 352.5h2.6v2.6h-2.6zM797.5 355h2.6v2.6h-2.6zM797.5 357.5h2.6v2.6h-2.6zM797.5 360h2.6v2.6h-2.6zM797.5 362.5h2.6v2.6h-2.6zM797.5 365h2.6v2.6h-2.6zM797.5 367.5h2.6v2.6h-2.6zM797.5 370h2.6v2.6h-2.6zM797.5 372.5h2.6v2.6h-2.6zM800 250h2.6v2.6h-2.6zM800 292.5h2.6v2.6h-2.6zM800 317.5h2.6v2.6h-2.6zM800 320h2.6v2.6h-2.6zM800 327.5h2.6v2.6h-2.6zM800 332.5h2.6v2.6h-2.6zM800 335h2.6v2.6h-2.6zM800 337.5h2.6v2.6h-2.6zM800 340h2.6v2.6h-2.6zM800 342.5h2.6v2.6h-2.6zM800 345h2.6v2.6h-2.6zM800 347.5h2.6v2.6h-2.6zM800 350h2.6v2.6h-2.6zM800 352.5h2.6v2.6h-2.6zM800 355h2.6v2.6h-2.6zM800 357.5h2.6v2.6h-2.6zM800 360h2.6v2.6h-2.6zM800 362.5h2.6v2.6h-2.6zM800 365h2.6v2.6h-2.6zM800 367.5h2.6v2.6h-2.6zM800 370h2.6v2.6h-2.6zM802.5 300h2.6v2.6h-2.6zM802.5 322.5h2.6v2.6h-2.6zM802.5 327.5h2.6v2.6h-2.6zM802.5 330h2.6v2.6h-2.6zM802.5 332.5h2.6v2.6h-2.6zM802.5 335h2.6v2.6h-2.6zM802.5 337.5h2.6v2.6h-2.6zM802.5 340h2.6v2.6h-2.6zM802.5 342.5h2.6v2.6h-2.6zM802.5 345h2.6v2.6h-2.6zM802.5 347.5h2.6v2.6h-2.6zM802.5 350h2.6v2.6h-2.6zM802.5 352.5h2.6v2.6h-2.6zM802.5 355h2.6v2.6h-2.6zM802.5 357.5h2.6v2.6h-2.6zM802.5 360h2.6v2.6h-2.6zM802.5 362.5h2.6v2.6h-2.6zM802.5 365h2.6v2.6h-2.6zM802.5 367.5h2.6v2.6h-2.6zM802.5 370h2.6v2.6h-2.6zM802.5 372.5h2.6v2.6h-2.6zM802.5 375h2.6v2.6h-2.6zM805 307.5h2.6v2.6h-2.6zM805 315h2.6v2.6h-2.6zM805 325h2.6v2.6h-2.6zM805 330h2.6v2.6h-2.6zM805 332.5h2.6v2.6h-2.6zM805 335h2.6v2.6h-2.6zM805 337.5h2.6v2.6h-2.6zM805 340h2.6v2.6h-2.6zM805 342.5h2.6v2.6h-2.6zM805 345h2.6v2.6h-2.6zM805 347.5h2.6v2.6h-2.6zM805 350h2.6v2.6h-2.6zM805 352.5h2.6v2.6h-2.6zM805 355h2.6v2.6h-2.6zM805 357.5h2.6v2.6h-2.6zM805 360h2.6v2.6h-2.6zM805 362.5h2.6v2.6h-2.6zM805 365h2.6v2.6h-2.6zM805 367.5h2.6v2.6h-2.6zM805 370h2.6v2.6h-2.6zM807.5 237.5h2.6v2.6h-2.6zM807.5 302.5h2.6v2.6h-2.6zM807.5 307.5h2.6v2.6h-2.6zM807.5 320h2.6v2.6h-2.6zM807.5 325h2.6v2.6h-2.6zM807.5 327.5h2.6v2.6h-2.6zM807.5 332.5h2.6v2.6h-2.6zM807.5 335h2.6v2.6h-2.6zM807.5 337.5h2.6v2.6h-2.6zM807.5 340h2.6v2.6h-2.6zM807.5 342.5h2.6v2.6h-2.6zM807.5 345h2.6v2.6h-2.6zM807.5 347.5h2.6v2.6h-2.6zM807.5 350h2.6v2.6h-2.6zM807.5 352.5h2.6v2.6h-2.6zM807.5 355h2.6v2.6h-2.6zM807.5 357.5h2.6v2.6h-2.6zM807.5 360h2.6v2.6h-2.6zM807.5 362.5h2.6v2.6h-2.6zM807.5 365h2.6v2.6h-2.6zM807.5 367.5h2.6v2.6h-2.6zM807.5 370h2.6v2.6h-2.6zM810 272.5h2.6v2.6h-2.6zM810 282.5h2.6v2.6h-2.6zM810 307.5h2.6v2.6h-2.6zM810 325h2.6v2.6h-2.6zM810 327.5h2.6v2.6h-2.6zM810 330h2.6v2.6h-2.6zM810 332.5h2.6v2.6h-2.6zM810 335h2.6v2.6h-2.6zM810 337.5h2.6v2.6h-2.6zM810 340h2.6v2.6h-2.6zM810 342.5h2.6v2.6h-2.6zM810 345h2.6v2.6h-2.6zM810 347.5h2.6v2.6h-2.6zM810 350h2.6v2.6h-2.6zM810 352.5h2.6v2.6h-2.6zM810 355h2.6v2.6h-2.6zM810 357.5h2.6v2.6h-2.6zM810 360h2.6v2.6h-2.6zM810 362.5h2.6v2.6h-2.6zM810 365h2.6v2.6h-2.6zM810 370h2.6v2.6h-2.6zM812.5 312.5h2.6v2.6h-2.6zM812.5 320h2.6v2.6h-2.6zM812.5 325h2.6v2.6h-2.6zM812.5 327.5h2.6v2.6h-2.6zM812.5 330h2.6v2.6h-2.6zM812.5 332.5h2.6v2.6h-2.6zM812.5 335h2.6v2.6h-2.6zM812.5 337.5h2.6v2.6h-2.6zM812.5 340h2.6v2.6h-2.6zM812.5 342.5h2.6v2.6h-2.6zM812.5 345h2.6v2.6h-2.6zM812.5 347.5h2.6v2.6h-2.6zM812.5 350h2.6v2.6h-2.6zM812.5 352.5h2.6v2.6h-2.6zM812.5 355h2.6v2.6h-2.6zM812.5 357.5h2.6v2.6h-2.6zM812.5 360h2.6v2.6h-2.6zM812.5 362.5h2.6v2.6h-2.6zM812.5 365h2.6v2.6h-2.6zM812.5 367.5h2.6v2.6h-2.6zM812.5 372.5h2.6v2.6h-2.6zM815 292.5h2.6v2.6h-2.6zM815 300h2.6v2.6h-2.6zM815 302.5h2.6v2.6h-2.6zM815 312.5h2.6v2.6h-2.6zM815 315h2.6v2.6h-2.6zM815 320h2.6v2.6h-2.6zM815 322.5h2.6v2.6h-2.6zM815 325h2.6v2.6h-2.6zM815 327.5h2.6v2.6h-2.6zM815 330h2.6v2.6h-2.6zM815 332.5h2.6v2.6h-2.6zM815 335h2.6v2.6h-2.6zM815 337.5h2.6v2.6h-2.6zM815 340h2.6v2.6h-2.6zM815 342.5h2.6v2.6h-2.6zM815 345h2.6v2.6h-2.6zM815 347.5h2.6v2.6h-2.6zM815 350h2.6v2.6h-2.6zM815 352.5h2.6v2.6h-2.6zM815 355h2.6v2.6h-2.6zM815 357.5h2.6v2.6h-2.6zM817.5 277.5h2.6v2.6h-2.6zM817.5 287.5h2.6v2.6h-2.6zM817.5 302.5h2.6v2.6h-2.6zM817.5 307.5h2.6v2.6h-2.6zM817.5 312.5h2.6v2.6h-2.6zM817.5 320h2.6v2.6h-2.6zM817.5 325h2.6v2.6h-2.6zM817.5 327.5h2.6v2.6h-2.6zM817.5 330h2.6v2.6h-2.6zM817.5 332.5h2.6v2.6h-2.6zM817.5 335h2.6v2.6h-2.6zM817.5 337.5h2.6v2.6h-2.6zM817.5 340h2.6v2.6h-2.6zM817.5 342.5h2.6v2.6h-2.6zM817.5 345h2.6v2.6h-2.6zM817.5 347.5h2.6v2.6h-2.6zM817.5 350h2.6v2.6h-2.6zM817.5 352.5h2.6v2.6h-2.6zM817.5 355h2.6v2.6h-2.6zM817.5 362.5h2.6v2.6h-2.6zM817.5 365h2.6v2.6h-2.6zM820 277.5h2.6v2.6h-2.6zM820 295h2.6v2.6h-2.6zM820 300h2.6v2.6h-2.6zM820 305h2.6v2.6h-2.6zM820 307.5h2.6v2.6h-2.6zM820 315h2.6v2.6h-2.6zM820 322.5h2.6v2.6h-2.6zM820 325h2.6v2.6h-2.6zM820 327.5h2.6v2.6h-2.6zM820 330h2.6v2.6h-2.6zM820 332.5h2.6v2.6h-2.6zM820 335h2.6v2.6h-2.6zM820 337.5h2.6v2.6h-2.6zM820 340h2.6v2.6h-2.6zM820 342.5h2.6v2.6h-2.6zM820 345h2.6v2.6h-2.6zM820 347.5h2.6v2.6h-2.6zM820 350h2.6v2.6h-2.6zM820 352.5h2.6v2.6h-2.6zM820 355h2.6v2.6h-2.6zM820 357.5h2.6v2.6h-2.6zM820 360h2.6v2.6h-2.6zM820 362.5h2.6v2.6h-2.6zM820 365h2.6v2.6h-2.6zM820 375h2.6v2.6h-2.6zM822.5 302.5h2.6v2.6h-2.6zM822.5 307.5h2.6v2.6h-2.6zM822.5 310h2.6v2.6h-2.6zM822.5 317.5h2.6v2.6h-2.6zM822.5 320h2.6v2.6h-2.6zM822.5 322.5h2.6v2.6h-2.6zM822.5 325h2.6v2.6h-2.6zM822.5 327.5h2.6v2.6h-2.6zM822.5 330h2.6v2.6h-2.6zM822.5 332.5h2.6v2.6h-2.6zM822.5 335h2.6v2.6h-2.6zM822.5 337.5h2.6v2.6h-2.6zM822.5 340h2.6v2.6h-2.6zM822.5 342.5h2.6v2.6h-2.6zM822.5 345h2.6v2.6h-2.6zM822.5 347.5h2.6v2.6h-2.6zM822.5 350h2.6v2.6h-2.6zM822.5 352.5h2.6v2.6h-2.6zM822.5 357.5h2.6v2.6h-2.6zM822.5 375h2.6v2.6h-2.6zM825 297.5h2.6v2.6h-2.6zM825 300h2.6v2.6h-2.6zM825 307.5h2.6v2.6h-2.6zM825 312.5h2.6v2.6h-2.6zM825 315h2.6v2.6h-2.6zM825 320h2.6v2.6h-2.6zM825 322.5h2.6v2.6h-2.6zM825 327.5h2.6v2.6h-2.6zM825 330h2.6v2.6h-2.6zM825 332.5h2.6v2.6h-2.6zM825 335h2.6v2.6h-2.6zM825 337.5h2.6v2.6h-2.6zM825 340h2.6v2.6h-2.6zM825 342.5h2.6v2.6h-2.6zM825 345h2.6v2.6h-2.6zM825 350h2.6v2.6h-2.6zM825 352.5h2.6v2.6h-2.6zM825 355h2.6v2.6h-2.6zM825 357.5h2.6v2.6h-2.6zM825 372.5h2.6v2.6h-2.6zM827.5 250h2.6v2.6h-2.6zM827.5 287.5h2.6v2.6h-2.6zM827.5 297.5h2.6v2.6h-2.6zM827.5 300h2.6v2.6h-2.6zM827.5 307.5h2.6v2.6h-2.6zM827.5 315h2.6v2.6h-2.6zM827.5 317.5h2.6v2.6h-2.6zM827.5 325h2.6v2.6h-2.6zM827.5 327.5h2.6v2.6h-2.6zM827.5 330h2.6v2.6h-2.6zM827.5 332.5h2.6v2.6h-2.6zM827.5 335h2.6v2.6h-2.6zM827.5 337.5h2.6v2.6h-2.6zM827.5 340h2.6v2.6h-2.6zM827.5 342.5h2.6v2.6h-2.6zM827.5 345h2.6v2.6h-2.6zM827.5 347.5h2.6v2.6h-2.6zM827.5 352.5h2.6v2.6h-2.6zM827.5 357.5h2.6v2.6h-2.6zM827.5 362.5h2.6v2.6h-2.6zM830 255h2.6v2.6h-2.6zM830 297.5h2.6v2.6h-2.6zM830 310h2.6v2.6h-2.6zM830 312.5h2.6v2.6h-2.6zM830 315h2.6v2.6h-2.6zM830 320h2.6v2.6h-2.6zM830 322.5h2.6v2.6h-2.6zM830 325h2.6v2.6h-2.6zM830 327.5h2.6v2.6h-2.6zM830 330h2.6v2.6h-2.6zM830 332.5h2.6v2.6h-2.6zM830 335h2.6v2.6h-2.6zM830 337.5h2.6v2.6h-2.6zM830 340h2.6v2.6h-2.6zM830 345h2.6v2.6h-2.6zM830 350h2.6v2.6h-2.6zM830 352.5h2.6v2.6h-2.6zM830 357.5h2.6v2.6h-2.6zM830 365h2.6v2.6h-2.6zM832.5 235h2.6v2.6h-2.6zM832.5 282.5h2.6v2.6h-2.6zM832.5 285h2.6v2.6h-2.6zM832.5 302.5h2.6v2.6h-2.6zM832.5 310h2.6v2.6h-2.6zM832.5 315h2.6v2.6h-2.6zM832.5 320h2.6v2.6h-2.6zM832.5 322.5h2.6v2.6h-2.6zM832.5 325h2.6v2.6h-2.6zM832.5 327.5h2.6v2.6h-2.6zM832.5 330h2.6v2.6h-2.6zM832.5 332.5h2.6v2.6h-2.6zM832.5 335h2.6v2.6h-2.6zM832.5 337.5h2.6v2.6h-2.6zM832.5 340h2.6v2.6h-2.6zM832.5 342.5h2.6v2.6h-2.6zM832.5 345h2.6v2.6h-2.6zM832.5 350h2.6v2.6h-2.6zM832.5 355h2.6v2.6h-2.6zM832.5 357.5h2.6v2.6h-2.6zM832.5 367.5h2.6v2.6h-2.6zM835 245h2.6v2.6h-2.6zM835 282.5h2.6v2.6h-2.6zM835 300h2.6v2.6h-2.6zM835 307.5h2.6v2.6h-2.6zM835 312.5h2.6v2.6h-2.6zM835 315h2.6v2.6h-2.6zM835 327.5h2.6v2.6h-2.6zM835 330h2.6v2.6h-2.6zM835 332.5h2.6v2.6h-2.6zM835 335h2.6v2.6h-2.6zM835 337.5h2.6v2.6h-2.6zM835 340h2.6v2.6h-2.6zM835 342.5h2.6v2.6h-2.6zM835 345h2.6v2.6h-2.6zM835 347.5h2.6v2.6h-2.6zM835 350h2.6v2.6h-2.6zM835 357.5h2.6v2.6h-2.6zM835 360h2.6v2.6h-2.6zM837.5 285h2.6v2.6h-2.6zM837.5 307.5h2.6v2.6h-2.6zM837.5 315h2.6v2.6h-2.6zM837.5 317.5h2.6v2.6h-2.6zM837.5 320h2.6v2.6h-2.6zM837.5 322.5h2.6v2.6h-2.6zM837.5 325h2.6v2.6h-2.6zM837.5 327.5h2.6v2.6h-2.6zM837.5 330h2.6v2.6h-2.6zM837.5 332.5h2.6v2.6h-2.6zM837.5 335h2.6v2.6h-2.6zM837.5 337.5h2.6v2.6h-2.6zM837.5 340h2.6v2.6h-2.6zM837.5 342.5h2.6v2.6h-2.6zM837.5 347.5h2.6v2.6h-2.6zM837.5 350h2.6v2.6h-2.6zM837.5 360h2.6v2.6h-2.6zM837.5 375h2.6v2.6h-2.6zM840 245h2.6v2.6h-2.6zM840 265h2.6v2.6h-2.6zM840 290h2.6v2.6h-2.6zM840 297.5h2.6v2.6h-2.6zM840 317.5h2.6v2.6h-2.6zM840 320h2.6v2.6h-2.6zM840 322.5h2.6v2.6h-2.6zM840 327.5h2.6v2.6h-2.6zM840 330h2.6v2.6h-2.6zM840 332.5h2.6v2.6h-2.6zM840 335h2.6v2.6h-2.6zM840 337.5h2.6v2.6h-2.6zM840 340h2.6v2.6h-2.6zM840 342.5h2.6v2.6h-2.6zM840 345h2.6v2.6h-2.6zM840 355h2.6v2.6h-2.6zM840 360h2.6v2.6h-2.6zM842.5 270h2.6v2.6h-2.6zM842.5 282.5h2.6v2.6h-2.6zM842.5 297.5h2.6v2.6h-2.6zM842.5 300h2.6v2.6h-2.6zM842.5 312.5h2.6v2.6h-2.6zM842.5 322.5h2.6v2.6h-2.6zM842.5 325h2.6v2.6h-2.6zM842.5 327.5h2.6v2.6h-2.6zM842.5 330h2.6v2.6h-2.6zM842.5 332.5h2.6v2.6h-2.6zM842.5 335h2.6v2.6h-2.6zM842.5 337.5h2.6v2.6h-2.6zM842.5 340h2.6v2.6h-2.6zM842.5 342.5h2.6v2.6h-2.6zM842.5 347.5h2.6v2.6h-2.6zM842.5 370h2.6v2.6h-2.6zM845 295h2.6v2.6h-2.6zM845 300h2.6v2.6h-2.6zM845 305h2.6v2.6h-2.6zM845 317.5h2.6v2.6h-2.6zM845 322.5h2.6v2.6h-2.6zM845 332.5h2.6v2.6h-2.6zM845 335h2.6v2.6h-2.6zM845 337.5h2.6v2.6h-2.6zM845 340h2.6v2.6h-2.6zM845 347.5h2.6v2.6h-2.6zM845 350h2.6v2.6h-2.6zM845 372.5h2.6v2.6h-2.6zM847.5 270h2.6v2.6h-2.6zM847.5 282.5h2.6v2.6h-2.6zM847.5 297.5h2.6v2.6h-2.6zM847.5 307.5h2.6v2.6h-2.6zM847.5 315h2.6v2.6h-2.6zM847.5 325h2.6v2.6h-2.6zM847.5 327.5h2.6v2.6h-2.6zM847.5 330h2.6v2.6h-2.6zM847.5 332.5h2.6v2.6h-2.6zM847.5 335h2.6v2.6h-2.6zM847.5 337.5h2.6v2.6h-2.6zM847.5 342.5h2.6v2.6h-2.6zM847.5 345h2.6v2.6h-2.6zM847.5 347.5h2.6v2.6h-2.6zM850 245h2.6v2.6h-2.6zM850 247.5h2.6v2.6h-2.6zM850 302.5h2.6v2.6h-2.6zM850 310h2.6v2.6h-2.6zM850 312.5h2.6v2.6h-2.6zM850 315h2.6v2.6h-2.6zM850 317.5h2.6v2.6h-2.6zM850 325h2.6v2.6h-2.6zM850 327.5h2.6v2.6h-2.6zM850 332.5h2.6v2.6h-2.6zM850 337.5h2.6v2.6h-2.6zM850 342.5h2.6v2.6h-2.6zM850 345h2.6v2.6h-2.6zM850 352.5h2.6v2.6h-2.6zM850 355h2.6v2.6h-2.6zM852.5 310h2.6v2.6h-2.6zM852.5 317.5h2.6v2.6h-2.6zM852.5 322.5h2.6v2.6h-2.6zM852.5 330h2.6v2.6h-2.6zM852.5 332.5h2.6v2.6h-2.6zM852.5 335h2.6v2.6h-2.6zM852.5 337.5h2.6v2.6h-2.6zM852.5 340h2.6v2.6h-2.6zM852.5 342.5h2.6v2.6h-2.6zM855 240h2.6v2.6h-2.6zM855 242.5h2.6v2.6h-2.6zM855 250h2.6v2.6h-2.6zM855 252.5h2.6v2.6h-2.6zM855 272.5h2.6v2.6h-2.6zM855 310h2.6v2.6h-2.6zM855 322.5h2.6v2.6h-2.6zM855 332.5h2.6v2.6h-2.6zM855 335h2.6v2.6h-2.6zM855 337.5h2.6v2.6h-2.6zM855 340h2.6v2.6h-2.6zM855 342.5h2.6v2.6h-2.6zM857.5 237.5h2.6v2.6h-2.6zM857.5 292.5h2.6v2.6h-2.6zM857.5 295h2.6v2.6h-2.6zM857.5 317.5h2.6v2.6h-2.6zM857.5 320h2.6v2.6h-2.6zM857.5 332.5h2.6v2.6h-2.6zM857.5 337.5h2.6v2.6h-2.6zM857.5 340h2.6v2.6h-2.6zM857.5 345h2.6v2.6h-2.6zM860 252.5h2.6v2.6h-2.6zM860 292.5h2.6v2.6h-2.6zM860 307.5h2.6v2.6h-2.6zM860 310h2.6v2.6h-2.6zM860 322.5h2.6v2.6h-2.6zM860 325h2.6v2.6h-2.6zM860 327.5h2.6v2.6h-2.6zM860 330h2.6v2.6h-2.6zM862.5 325h2.6v2.6h-2.6zM862.5 340h2.6v2.6h-2.6zM865 317.5h2.6v2.6h-2.6zM865 340h2.6v2.6h-2.6zM865 360h2.6v2.6h-2.6zM867.5 372.5h2.6v2.6h-2.6zM870 300h2.6v2.6h-2.6zM872.5 302.5h2.6v2.6h-2.6zM872.5 320h2.6v2.6h-2.6zM872.5 335h2.6v2.6h-2.6zM877.5 357.5h2.6v2.6h-2.6zM880 245h2.6v2.6h-2.6zM880 287.5h2.6v2.6h-2.6zM882.5 215h2.6v2.6h-2.6zM882.5 300h2.6v2.6h-2.6zM882.5 330h2.6v2.6h-2.6zM882.5 332.5h2.6v2.6h-2.6zM885 352.5h2.6v2.6h-2.6zM887.5 240h2.6v2.6h-2.6zM887.5 295h2.6v2.6h-2.6zM890 250h2.6v2.6h-2.6zM895 320h2.6v2.6h-2.6zM895 355h2.6v2.6h-2.6zM905 305h2.6v2.6h-2.6zM907.5 322.5h2.6v2.6h-2.6zM910 267.5h2.6v2.6h-2.6zM912.5 332.5h2.6v2.6h-2.6zM912.5 337.5h2.6v2.6h-2.6zM912.5 350h2.6v2.6h-2.6zM915 315h2.6v2.6h-2.6zM917.5 302.5h2.6v2.6h-2.6zM917.5 307.5h2.6v2.6h-2.6zM917.5 355h2.6v2.6h-2.6zM920 217.5h2.6v2.6h-2.6zM920 307.5h2.6v2.6h-2.6zM920 350h2.6v2.6h-2.6zM920 352.5h2.6v2.6h-2.6zM922.5 217.5h2.6v2.6h-2.6zM925 362.5h2.6v2.6h-2.6zM927.5 305h2.6v2.6h-2.6zM927.5 372.5h2.6v2.6h-2.6zM930 270h2.6v2.6h-2.6zM930 335h2.6v2.6h-2.6zM932.5 312.5h2.6v2.6h-2.6zM942.5 250h2.6v2.6h-2.6zM942.5 347.5h2.6v2.6h-2.6z"/>
<path d="M769.1 157.4H1019.9V377H769.1ZM864.2 157.4V377M769.1 289.3H1019.9" stroke="#000" stroke-width="2.4" fill="none"/>
<path d="M771.1 377v9M769.1 377h-8.5M789.8 377v4.5M769.1 360.5h-4.5M800.8 377v4.5M769.1 350.8h-4.5M808.5 377v4.5M769.1 343.9h-4.5M814.6 377v4.5M769.1 338.6h-4.5M819.5 377v4.5M769.1 334.3h-4.5M823.7 377v4.5M769.1 330.6h-4.5M827.3 377v4.5M769.1 327.4h-4.5M830.5 377v4.5M769.1 324.6h-4.5M833.3 377v9M769.1 322.1h-8.5M852 377v4.5M769.1 305.6h-4.5M863 377v4.5M769.1 295.9h-4.5M870.7 377v4.5M769.1 289h-4.5M876.8 377v4.5M769.1 283.7h-4.5M881.7 377v4.5M769.1 279.4h-4.5M885.9 377v4.5M769.1 275.7h-4.5M889.5 377v4.5M769.1 272.5h-4.5M892.7 377v4.5M769.1 269.7h-4.5M895.5 377v9M769.1 267.2h-8.5M914.2 377v4.5M769.1 250.7h-4.5M925.2 377v4.5M769.1 241h-4.5M932.9 377v4.5M769.1 234.1h-4.5M939 377v4.5M769.1 228.8h-4.5M943.9 377v4.5M769.1 224.5h-4.5M948.1 377v4.5M769.1 220.8h-4.5M951.7 377v4.5M769.1 217.6h-4.5M954.9 377v4.5M769.1 214.8h-4.5M957.7 377v9M769.1 212.3h-8.5M976.4 377v4.5M769.1 195.8h-4.5M987.4 377v4.5M769.1 186.1h-4.5M995.1 377v4.5M769.1 179.2h-4.5M1001.2 377v4.5M769.1 173.9h-4.5M1006.1 377v4.5M769.1 169.6h-4.5M1010.3 377v4.5M769.1 165.9h-4.5M1013.9 377v4.5M769.1 162.7h-4.5M1017.1 377v4.5M769.1 159.9h-4.5M1019.9 377v9M769.1 157.4h-8.5" stroke="#000" stroke-width="2.4" fill="none"/>
<text class="S" x="757.6" y="407.7" font-size="19.4" font-weight="bold" textLength="17.5" lengthAdjust="spacingAndGlyphs">10</text>
<text class="S" x="774.7" y="397.9" font-size="22.3" textLength="11.6" lengthAdjust="spacingAndGlyphs">0</text>
<text class="S" x="819.8" y="407.7" font-size="19.4" font-weight="bold" textLength="17.5" lengthAdjust="spacingAndGlyphs">10</text>
<text class="S" x="836" y="398.1" font-size="22.9" textLength="12.8" lengthAdjust="spacingAndGlyphs">1</text>
<text class="S" x="882" y="407.7" font-size="19.4" font-weight="bold" textLength="17.5" lengthAdjust="spacingAndGlyphs">10</text>
<text class="S" x="898.8" y="398.1" font-size="22.6" textLength="12.2" lengthAdjust="spacingAndGlyphs">2</text>
<text class="S" x="944.2" y="407.7" font-size="19.4" font-weight="bold" textLength="17.5" lengthAdjust="spacingAndGlyphs">10</text>
<text class="S" x="961.3" y="397.9" font-size="22.3" textLength="11.7" lengthAdjust="spacingAndGlyphs">3</text>
<text class="S" x="1006.4" y="407.7" font-size="19.4" font-weight="bold" textLength="17.5" lengthAdjust="spacingAndGlyphs">10</text>
<text class="S" x="1023.9" y="398.1" font-size="22.9" textLength="11" lengthAdjust="spacingAndGlyphs">4</text>
<text class="S" transform="translate(0,388.8) rotate(-90)" x="-0.9" y="754.8" font-size="21.7" font-weight="bold" textLength="16.5" lengthAdjust="spacingAndGlyphs">10</text>
<text class="S" transform="translate(0,369.8) rotate(-90)" x="-0.8" y="743.7" font-size="19.7" textLength="11.6" lengthAdjust="spacingAndGlyphs">0</text>
<text class="S" transform="translate(0,333.9) rotate(-90)" x="-0.9" y="754.8" font-size="21.7" font-weight="bold" textLength="16.5" lengthAdjust="spacingAndGlyphs">10</text>
<text class="S" transform="translate(0,314.9) rotate(-90)" x="-1.7" y="743.9" font-size="20.3" textLength="12.8" lengthAdjust="spacingAndGlyphs">1</text>
<text class="S" transform="translate(0,279) rotate(-90)" x="-0.9" y="754.8" font-size="21.7" font-weight="bold" textLength="16.5" lengthAdjust="spacingAndGlyphs">10</text>
<text class="S" transform="translate(0,260) rotate(-90)" x="-1.1" y="743.9" font-size="20" textLength="12.2" lengthAdjust="spacingAndGlyphs">2</text>
<text class="S" transform="translate(0,224.1) rotate(-90)" x="-0.9" y="754.8" font-size="21.7" font-weight="bold" textLength="16.5" lengthAdjust="spacingAndGlyphs">10</text>
<text class="S" transform="translate(0,205.1) rotate(-90)" x="-0.8" y="743.7" font-size="19.7" textLength="11.7" lengthAdjust="spacingAndGlyphs">3</text>
<text class="S" transform="translate(0,169.2) rotate(-90)" x="-0.9" y="754.8" font-size="21.7" font-weight="bold" textLength="16.5" lengthAdjust="spacingAndGlyphs">10</text>
<text class="S" transform="translate(0,150.2) rotate(-90)" x="-0.4" y="743.9" font-size="20.3" textLength="11" lengthAdjust="spacingAndGlyphs">4</text>
<text class="S" transform="translate(0,276.5) rotate(-90)" x="-1.5" y="730.2" font-size="22.8" textLength="17.5" lengthAdjust="spacingAndGlyphs">PI</text>
<text class="M" x="840.8" y="422.9" font-size="16.7" textLength="129.1" lengthAdjust="spacingAndGlyphs" stroke="#000" stroke-width="0.35">Annexin V-FITC</text>
<text class="S" x="955.2" y="191.6" font-size="21.4" textLength="54" lengthAdjust="spacingAndGlyphs">0. 27%</text>
<text class="S" x="952.5" y="361.8" font-size="21.4" textLength="54" lengthAdjust="spacingAndGlyphs">2. 10%</text>
<text class="S" x="1192.8" y="105.5" font-size="29" textLength="45.3" lengthAdjust="spacingAndGlyphs" stroke="#000" stroke-width="0.2">100</text>
<text class="S" x="1245.8" y="104.7" font-size="26.3" textLength="17" lengthAdjust="spacingAndGlyphs" stroke="#000" stroke-width="0.2">μ</text>
<text class="S" x="1268.5" y="105.8" font-size="29.9" font-weight="bold" textLength="15.8" lengthAdjust="spacingAndGlyphs" stroke="#000" stroke-width="0.7">M</text>
<path fill="#333" d="M1130 342.5h2.6v2.6h-2.6zM1132.5 327.5h2.6v2.6h-2.6zM1132.5 337.5h2.6v2.6h-2.6zM1135 315h2.6v2.6h-2.6zM1137.5 305h2.6v2.6h-2.6zM1137.5 352.5h2.6v2.6h-2.6zM1140 310h2.6v2.6h-2.6zM1140 332.5h2.6v2.6h-2.6zM1140 337.5h2.6v2.6h-2.6zM1142.5 292.5h2.6v2.6h-2.6zM1142.5 302.5h2.6v2.6h-2.6zM1142.5 335h2.6v2.6h-2.6zM1142.5 345h2.6v2.6h-2.6zM1142.5 355h2.6v2.6h-2.6zM1142.5 362.5h2.6v2.6h-2.6zM1145 335h2.6v2.6h-2.6zM1145 340h2.6v2.6h-2.6zM1145 347.5h2.6v2.6h-2.6zM1145 357.5h2.6v2.6h-2.6zM1145 367.5h2.6v2.6h-2.6zM1145 370h2.6v2.6h-2.6zM1147.5 305h2.6v2.6h-2.6zM1147.5 317.5h2.6v2.6h-2.6zM1147.5 347.5h2.6v2.6h-2.6zM1147.5 357.5h2.6v2.6h-2.6zM1150 330h2.6v2.6h-2.6zM1150 337.5h2.6v2.6h-2.6zM1150 340h2.6v2.6h-2.6zM1150 350h2.6v2.6h-2.6zM1150 360h2.6v2.6h-2.6zM1152.5 335h2.6v2.6h-2.6zM1152.5 350h2.6v2.6h-2.6zM1152.5 352.5h2.6v2.6h-2.6zM1155 342.5h2.6v2.6h-2.6zM1155 345h2.6v2.6h-2.6zM1155 347.5h2.6v2.6h-2.6zM1155 350h2.6v2.6h-2.6zM1155 352.5h2.6v2.6h-2.6zM1155 355h2.6v2.6h-2.6zM1157.5 332.5h2.6v2.6h-2.6zM1157.5 337.5h2.6v2.6h-2.6zM1157.5 340h2.6v2.6h-2.6zM1157.5 345h2.6v2.6h-2.6zM1157.5 347.5h2.6v2.6h-2.6zM1157.5 360h2.6v2.6h-2.6zM1157.5 372.5h2.6v2.6h-2.6zM1160 315h2.6v2.6h-2.6zM1160 317.5h2.6v2.6h-2.6zM1160 320h2.6v2.6h-2.6zM1160 322.5h2.6v2.6h-2.6zM1160 330h2.6v2.6h-2.6zM1160 335h2.6v2.6h-2.6zM1160 340h2.6v2.6h-2.6zM1160 345h2.6v2.6h-2.6zM1160 350h2.6v2.6h-2.6zM1160 352.5h2.6v2.6h-2.6zM1160 357.5h2.6v2.6h-2.6zM1160 360h2.6v2.6h-2.6zM1160 365h2.6v2.6h-2.6zM1162.5 287.5h2.6v2.6h-2.6zM1162.5 295h2.6v2.6h-2.6zM1162.5 297.5h2.6v2.6h-2.6zM1162.5 300h2.6v2.6h-2.6zM1162.5 312.5h2.6v2.6h-2.6zM1162.5 325h2.6v2.6h-2.6zM1162.5 327.5h2.6v2.6h-2.6zM1162.5 335h2.6v2.6h-2.6zM1162.5 337.5h2.6v2.6h-2.6zM1162.5 342.5h2.6v2.6h-2.6zM1162.5 347.5h2.6v2.6h-2.6zM1162.5 350h2.6v2.6h-2.6zM1162.5 355h2.6v2.6h-2.6zM1162.5 357.5h2.6v2.6h-2.6zM1162.5 362.5h2.6v2.6h-2.6zM1165 295h2.6v2.6h-2.6zM1165 300h2.6v2.6h-2.6zM1165 317.5h2.6v2.6h-2.6zM1165 320h2.6v2.6h-2.6zM1165 322.5h2.6v2.6h-2.6zM1165 332.5h2.6v2.6h-2.6zM1165 335h2.6v2.6h-2.6zM1165 337.5h2.6v2.6h-2.6zM1165 340h2.6v2.6h-2.6zM1165 342.5h2.6v2.6h-2.6zM1165 345h2.6v2.6h-2.6zM1165 347.5h2.6v2.6h-2.6zM1165 350h2.6v2.6h-2.6zM1165 352.5h2.6v2.6h-2.6zM1165 355h2.6v2.6h-2.6zM1165 365h2.6v2.6h-2.6zM1167.5 317.5h2.6v2.6h-2.6zM1167.5 327.5h2.6v2.6h-2.6zM1167.5 337.5h2.6v2.6h-2.6zM1167.5 340h2.6v2.6h-2.6zM1167.5 342.5h2.6v2.6h-2.6zM1167.5 347.5h2.6v2.6h-2.6zM1167.5 350h2.6v2.6h-2.6zM1167.5 352.5h2.6v2.6h-2.6zM1167.5 355h2.6v2.6h-2.6zM1167.5 357.5h2.6v2.6h-2.6zM1167.5 360h2.6v2.6h-2.6zM1167.5 362.5h2.6v2.6h-2.6zM1167.5 372.5h2.6v2.6h-2.6zM1170 295h2.6v2.6h-2.6zM1170 307.5h2.6v2.6h-2.6zM1170 312.5h2.6v2.6h-2.6zM1170 322.5h2.6v2.6h-2.6zM1170 327.5h2.6v2.6h-2.6zM1170 330h2.6v2.6h-2.6zM1170 332.5h2.6v2.6h-2.6zM1170 335h2.6v2.6h-2.6zM1170 337.5h2.6v2.6h-2.6zM1170 340h2.6v2.6h-2.6zM1170 342.5h2.6v2.6h-2.6zM1170 345h2.6v2.6h-2.6zM1170 347.5h2.6v2.6h-2.6zM1170 350h2.6v2.6h-2.6zM1170 352.5h2.6v2.6h-2.6zM1170 355h2.6v2.6h-2.6zM1170 357.5h2.6v2.6h-2.6zM1170 360h2.6v2.6h-2.6zM1170 365h2.6v2.6h-2.6zM1172.5 297.5h2.6v2.6h-2.6zM1172.5 300h2.6v2.6h-2.6zM1172.5 307.5h2.6v2.6h-2.6zM1172.5 310h2.6v2.6h-2.6zM1172.5 320h2.6v2.6h-2.6zM1172.5 330h2.6v2.6h-2.6zM1172.5 335h2.6v2.6h-2.6zM1172.5 337.5h2.6v2.6h-2.6zM1172.5 340h2.6v2.6h-2.6zM1172.5 342.5h2.6v2.6h-2.6zM1172.5 345h2.6v2.6h-2.6zM1172.5 347.5h2.6v2.6h-2.6zM1172.5 350h2.6v2.6h-2.6zM1172.5 352.5h2.6v2.6h-2.6zM1172.5 355h2.6v2.6h-2.6zM1172.5 357.5h2.6v2.6h-2.6zM1172.5 360h2.6v2.6h-2.6zM1172.5 362.5h2.6v2.6h-2.6zM1172.5 365h2.6v2.6h-2.6zM1175 285h2.6v2.6h-2.6zM1175 310h2.6v2.6h-2.6zM1175 312.5h2.6v2.6h-2.6zM1175 317.5h2.6v2.6h-2.6zM1175 320h2.6v2.6h-2.6zM1175 322.5h2.6v2.6h-2.6zM1175 325h2.6v2.6h-2.6zM1175 327.5h2.6v2.6h-2.6zM1175 330h2.6v2.6h-2.6zM1175 332.5h2.6v2.6h-2.6zM1175 335h2.6v2.6h-2.6zM1175 337.5h2.6v2.6h-2.6zM1175 340h2.6v2.6h-2.6zM1175 342.5h2.6v2.6h-2.6zM1175 345h2.6v2.6h-2.6zM1175 347.5h2.6v2.6h-2.6zM1175 350h2.6v2.6h-2.6zM1175 352.5h2.6v2.6h-2.6zM1175 355h2.6v2.6h-2.6zM1175 357.5h2.6v2.6h-2.6zM1175 360h2.6v2.6h-2.6zM1177.5 300h2.6v2.6h-2.6zM1177.5 307.5h2.6v2.6h-2.6zM1177.5 310h2.6v2.6h-2.6zM1177.5 312.5h2.6v2.6h-2.6zM1177.5 315h2.6v2.6h-2.6zM1177.5 322.5h2.6v2.6h-2.6zM1177.5 325h2.6v2.6h-2.6zM1177.5 330h2.6v2.6h-2.6zM1177.5 332.5h2.6v2.6h-2.6zM1177.5 335h2.6v2.6h-2.6zM1177.5 337.5h2.6v2.6h-2.6zM1177.5 340h2.6v2.6h-2.6zM1177.5 342.5h2.6v2.6h-2.6zM1177.5 345h2.6v2.6h-2.6zM1177.5 347.5h2.6v2.6h-2.6zM1177.5 350h2.6v2.6h-2.6zM1177.5 352.5h2.6v2.6h-2.6zM1177.5 355h2.6v2.6h-2.6zM1177.5 357.5h2.6v2.6h-2.6zM1177.5 360h2.6v2.6h-2.6zM1177.5 362.5h2.6v2.6h-2.6zM1177.5 367.5h2.6v2.6h-2.6zM1177.5 370h2.6v2.6h-2.6zM1180 292.5h2.6v2.6h-2.6zM1180 297.5h2.6v2.6h-2.6zM1180 312.5h2.6v2.6h-2.6zM1180 317.5h2.6v2.6h-2.6zM1180 320h2.6v2.6h-2.6zM1180 322.5h2.6v2.6h-2.6zM1180 325h2.6v2.6h-2.6zM1180 327.5h2.6v2.6h-2.6zM1180 330h2.6v2.6h-2.6zM1180 332.5h2.6v2.6h-2.6zM1180 335h2.6v2.6h-2.6zM1180 337.5h2.6v2.6h-2.6zM1180 340h2.6v2.6h-2.6zM1180 342.5h2.6v2.6h-2.6zM1180 345h2.6v2.6h-2.6zM1180 347.5h2.6v2.6h-2.6zM1180 350h2.6v2.6h-2.6zM1180 352.5h2.6v2.6h-2.6zM1180 355h2.6v2.6h-2.6zM1180 357.5h2.6v2.6h-2.6zM1180 367.5h2.6v2.6h-2.6zM1182.5 285h2.6v2.6h-2.6zM1182.5 295h2.6v2.6h-2.6zM1182.5 310h2.6v2.6h-2.6zM1182.5 312.5h2.6v2.6h-2.6zM1182.5 315h2.6v2.6h-2.6zM1182.5 317.5h2.6v2.6h-2.6zM1182.5 320h2.6v2.6h-2.6zM1182.5 322.5h2.6v2.6h-2.6zM1182.5 325h2.6v2.6h-2.6zM1182.5 330h2.6v2.6h-2.6zM1182.5 332.5h2.6v2.6h-2.6zM1182.5 335h2.6v2.6h-2.6zM1182.5 337.5h2.6v2.6h-2.6zM1182.5 340h2.6v2.6h-2.6zM1182.5 342.5h2.6v2.6h-2.6zM1182.5 345h2.6v2.6h-2.6zM1182.5 347.5h2.6v2.6h-2.6zM1182.5 350h2.6v2.6h-2.6zM1182.5 352.5h2.6v2.6h-2.6zM1182.5 355h2.6v2.6h-2.6zM1182.5 360h2.6v2.6h-2.6zM1185 282.5h2.6v2.6h-2.6zM1185 300h2.6v2.6h-2.6zM1185 305h2.6v2.6h-2.6zM1185 307.5h2.6v2.6h-2.6zM1185 310h2.6v2.6h-2.6zM1185 312.5h2.6v2.6h-2.6zM1185 315h2.6v2.6h-2.6zM1185 317.5h2.6v2.6h-2.6zM1185 320h2.6v2.6h-2.6zM1185 322.5h2.6v2.6h-2.6zM1185 325h2.6v2.6h-2.6zM1185 327.5h2.6v2.6h-2.6zM1185 330h2.6v2.6h-2.6zM1185 332.5h2.6v2.6h-2.6zM1185 335h2.6v2.6h-2.6zM1185 337.5h2.6v2.6h-2.6zM1185 340h2.6v2.6h-2.6zM1185 342.5h2.6v2.6h-2.6zM1185 345h2.6v2.6h-2.6zM1185 347.5h2.6v2.6h-2.6zM1185 350h2.6v2.6h-2.6zM1185 352.5h2.6v2.6h-2.6zM1185 355h2.6v2.6h-2.6zM1185 357.5h2.6v2.6h-2.6zM1185 360h2.6v2.6h-2.6zM1185 365h2.6v2.6h-2.6zM1185 367.5h2.6v2.6h-2.6zM1185 370h2.6v2.6h-2.6zM1187.5 282.5h2.6v2.6h-2.6zM1187.5 292.5h2.6v2.6h-2.6zM1187.5 295h2.6v2.6h-2.6zM1187.5 302.5h2.6v2.6h-2.6zM1187.5 312.5h2.6v2.6h-2.6zM1187.5 315h2.6v2.6h-2.6zM1187.5 317.5h2.6v2.6h-2.6zM1187.5 320h2.6v2.6h-2.6zM1187.5 322.5h2.6v2.6h-2.6zM1187.5 325h2.6v2.6h-2.6zM1187.5 327.5h2.6v2.6h-2.6zM1187.5 330h2.6v2.6h-2.6zM1187.5 332.5h2.6v2.6h-2.6zM1187.5 335h2.6v2.6h-2.6zM1187.5 337.5h2.6v2.6h-2.6zM1187.5 340h2.6v2.6h-2.6zM1187.5 342.5h2.6v2.6h-2.6zM1187.5 345h2.6v2.6h-2.6zM1187.5 347.5h2.6v2.6h-2.6zM1187.5 357.5h2.6v2.6h-2.6zM1187.5 360h2.6v2.6h-2.6zM1190 267.5h2.6v2.6h-2.6zM1190 285h2.6v2.6h-2.6zM1190 287.5h2.6v2.6h-2.6zM1190 292.5h2.6v2.6h-2.6zM1190 297.5h2.6v2.6h-2.6zM1190 302.5h2.6v2.6h-2.6zM1190 310h2.6v2.6h-2.6zM1190 312.5h2.6v2.6h-2.6zM1190 315h2.6v2.6h-2.6zM1190 317.5h2.6v2.6h-2.6zM1190 320h2.6v2.6h-2.6zM1190 322.5h2.6v2.6h-2.6zM1190 325h2.6v2.6h-2.6zM1190 327.5h2.6v2.6h-2.6zM1190 330h2.6v2.6h-2.6zM1190 332.5h2.6v2.6h-2.6zM1190 335h2.6v2.6h-2.6zM1190 337.5h2.6v2.6h-2.6zM1190 340h2.6v2.6h-2.6zM1190 342.5h2.6v2.6h-2.6zM1190 347.5h2.6v2.6h-2.6zM1190 352.5h2.6v2.6h-2.6zM1190 357.5h2.6v2.6h-2.6zM1190 370h2.6v2.6h-2.6zM1192.5 275h2.6v2.6h-2.6zM1192.5 282.5h2.6v2.6h-2.6zM1192.5 302.5h2.6v2.6h-2.6zM1192.5 305h2.6v2.6h-2.6zM1192.5 307.5h2.6v2.6h-2.6zM1192.5 310h2.6v2.6h-2.6zM1192.5 315h2.6v2.6h-2.6zM1192.5 317.5h2.6v2.6h-2.6zM1192.5 320h2.6v2.6h-2.6zM1192.5 322.5h2.6v2.6h-2.6zM1192.5 325h2.6v2.6h-2.6zM1192.5 327.5h2.6v2.6h-2.6zM1192.5 330h2.6v2.6h-2.6zM1192.5 332.5h2.6v2.6h-2.6zM1192.5 335h2.6v2.6h-2.6zM1192.5 337.5h2.6v2.6h-2.6zM1192.5 340h2.6v2.6h-2.6zM1192.5 342.5h2.6v2.6h-2.6zM1192.5 345h2.6v2.6h-2.6zM1192.5 347.5h2.6v2.6h-2.6zM1192.5 350h2.6v2.6h-2.6zM1192.5 352.5h2.6v2.6h-2.6zM1192.5 355h2.6v2.6h-2.6zM1192.5 357.5h2.6v2.6h-2.6zM1192.5 367.5h2.6v2.6h-2.6zM1192.5 370h2.6v2.6h-2.6zM1195 250h2.6v2.6h-2.6zM1195 277.5h2.6v2.6h-2.6zM1195 282.5h2.6v2.6h-2.6zM1195 287.5h2.6v2.6h-2.6zM1195 300h2.6v2.6h-2.6zM1195 302.5h2.6v2.6h-2.6zM1195 305h2.6v2.6h-2.6zM1195 312.5h2.6v2.6h-2.6zM1195 317.5h2.6v2.6h-2.6zM1195 320h2.6v2.6h-2.6zM1195 322.5h2.6v2.6h-2.6zM1195 327.5h2.6v2.6h-2.6zM1195 330h2.6v2.6h-2.6zM1195 332.5h2.6v2.6h-2.6zM1195 335h2.6v2.6h-2.6zM1195 337.5h2.6v2.6h-2.6zM1195 340h2.6v2.6h-2.6zM1195 342.5h2.6v2.6h-2.6zM1195 350h2.6v2.6h-2.6zM1195 365h2.6v2.6h-2.6zM1197.5 240h2.6v2.6h-2.6zM1197.5 287.5h2.6v2.6h-2.6zM1197.5 290h2.6v2.6h-2.6zM1197.5 297.5h2.6v2.6h-2.6zM1197.5 300h2.6v2.6h-2.6zM1197.5 302.5h2.6v2.6h-2.6zM1197.5 305h2.6v2.6h-2.6zM1197.5 307.5h2.6v2.6h-2.6zM1197.5 312.5h2.6v2.6h-2.6zM1197.5 315h2.6v2.6h-2.6zM1197.5 317.5h2.6v2.6h-2.6zM1197.5 320h2.6v2.6h-2.6zM1197.5 322.5h2.6v2.6h-2.6zM1197.5 325h2.6v2.6h-2.6zM1197.5 327.5h2.6v2.6h-2.6zM1197.5 330h2.6v2.6h-2.6zM1197.5 332.5h2.6v2.6h-2.6zM1197.5 335h2.6v2.6h-2.6zM1197.5 337.5h2.6v2.6h-2.6zM1197.5 355h2.6v2.6h-2.6zM1200 287.5h2.6v2.6h-2.6zM1200 290h2.6v2.6h-2.6zM1200 295h2.6v2.6h-2.6zM1200 297.5h2.6v2.6h-2.6zM1200 300h2.6v2.6h-2.6zM1200 302.5h2.6v2.6h-2.6zM1200 305h2.6v2.6h-2.6zM1200 307.5h2.6v2.6h-2.6zM1200 312.5h2.6v2.6h-2.6zM1200 315h2.6v2.6h-2.6zM1200 317.5h2.6v2.6h-2.6zM1200 320h2.6v2.6h-2.6zM1200 322.5h2.6v2.6h-2.6zM1200 325h2.6v2.6h-2.6zM1200 327.5h2.6v2.6h-2.6zM1200 330h2.6v2.6h-2.6zM1200 332.5h2.6v2.6h-2.6zM1200 335h2.6v2.6h-2.6zM1200 340h2.6v2.6h-2.6zM1200 342.5h2.6v2.6h-2.6zM1200 362.5h2.6v2.6h-2.6zM1202.5 252.5h2.6v2.6h-2.6zM1202.5 265h2.6v2.6h-2.6zM1202.5 275h2.6v2.6h-2.6zM1202.5 285h2.6v2.6h-2.6zM1202.5 287.5h2.6v2.6h-2.6zM1202.5 295h2.6v2.6h-2.6zM1202.5 302.5h2.6v2.6h-2.6zM1202.5 305h2.6v2.6h-2.6zM1202.5 307.5h2.6v2.6h-2.6zM1202.5 310h2.6v2.6h-2.6zM1202.5 312.5h2.6v2.6h-2.6zM1202.5 315h2.6v2.6h-2.6zM1202.5 317.5h2.6v2.6h-2.6zM1202.5 320h2.6v2.6h-2.6zM1202.5 322.5h2.6v2.6h-2.6zM1202.5 325h2.6v2.6h-2.6zM1202.5 327.5h2.6v2.6h-2.6zM1202.5 330h2.6v2.6h-2.6zM1202.5 332.5h2.6v2.6h-2.6zM1202.5 335h2.6v2.6h-2.6zM1202.5 337.5h2.6v2.6h-2.6zM1202.5 342.5h2.6v2.6h-2.6zM1202.5 352.5h2.6v2.6h-2.6zM1205 225h2.6v2.6h-2.6zM1205 272.5h2.6v2.6h-2.6zM1205 292.5h2.6v2.6h-2.6zM1205 302.5h2.6v2.6h-2.6zM1205 305h2.6v2.6h-2.6zM1205 307.5h2.6v2.6h-2.6zM1205 310h2.6v2.6h-2.6zM1205 312.5h2.6v2.6h-2.6zM1205 315h2.6v2.6h-2.6zM1205 320h2.6v2.6h-2.6zM1205 322.5h2.6v2.6h-2.6zM1205 325h2.6v2.6h-2.6zM1205 327.5h2.6v2.6h-2.6zM1205 330h2.6v2.6h-2.6zM1205 332.5h2.6v2.6h-2.6zM1205 335h2.6v2.6h-2.6zM1205 337.5h2.6v2.6h-2.6zM1205 345h2.6v2.6h-2.6zM1205 347.5h2.6v2.6h-2.6zM1205 350h2.6v2.6h-2.6zM1205 352.5h2.6v2.6h-2.6zM1207.5 272.5h2.6v2.6h-2.6zM1207.5 277.5h2.6v2.6h-2.6zM1207.5 282.5h2.6v2.6h-2.6zM1207.5 297.5h2.6v2.6h-2.6zM1207.5 302.5h2.6v2.6h-2.6zM1207.5 305h2.6v2.6h-2.6zM1207.5 307.5h2.6v2.6h-2.6zM1207.5 310h2.6v2.6h-2.6zM1207.5 315h2.6v2.6h-2.6zM1207.5 317.5h2.6v2.6h-2.6zM1207.5 320h2.6v2.6h-2.6zM1207.5 325h2.6v2.6h-2.6zM1207.5 327.5h2.6v2.6h-2.6zM1207.5 330h2.6v2.6h-2.6zM1207.5 332.5h2.6v2.6h-2.6zM1207.5 342.5h2.6v2.6h-2.6zM1207.5 347.5h2.6v2.6h-2.6zM1210 250h2.6v2.6h-2.6zM1210 280h2.6v2.6h-2.6zM1210 282.5h2.6v2.6h-2.6zM1210 287.5h2.6v2.6h-2.6zM1210 292.5h2.6v2.6h-2.6zM1210 295h2.6v2.6h-2.6zM1210 300h2.6v2.6h-2.6zM1210 302.5h2.6v2.6h-2.6zM1210 305h2.6v2.6h-2.6zM1210 307.5h2.6v2.6h-2.6zM1210 310h2.6v2.6h-2.6zM1210 312.5h2.6v2.6h-2.6zM1210 317.5h2.6v2.6h-2.6zM1210 320h2.6v2.6h-2.6zM1210 322.5h2.6v2.6h-2.6zM1210 325h2.6v2.6h-2.6zM1210 327.5h2.6v2.6h-2.6zM1210 330h2.6v2.6h-2.6zM1210 332.5h2.6v2.6h-2.6zM1210 335h2.6v2.6h-2.6zM1210 340h2.6v2.6h-2.6zM1210 370h2.6v2.6h-2.6zM1212.5 230h2.6v2.6h-2.6zM1212.5 245h2.6v2.6h-2.6zM1212.5 267.5h2.6v2.6h-2.6zM1212.5 270h2.6v2.6h-2.6zM1212.5 277.5h2.6v2.6h-2.6zM1212.5 290h2.6v2.6h-2.6zM1212.5 297.5h2.6v2.6h-2.6zM1212.5 300h2.6v2.6h-2.6zM1212.5 305h2.6v2.6h-2.6zM1212.5 307.5h2.6v2.6h-2.6zM1212.5 315h2.6v2.6h-2.6zM1212.5 317.5h2.6v2.6h-2.6zM1212.5 320h2.6v2.6h-2.6zM1212.5 325h2.6v2.6h-2.6zM1212.5 327.5h2.6v2.6h-2.6zM1212.5 330h2.6v2.6h-2.6zM1212.5 335h2.6v2.6h-2.6zM1215 255h2.6v2.6h-2.6zM1215 282.5h2.6v2.6h-2.6zM1215 290h2.6v2.6h-2.6zM1215 295h2.6v2.6h-2.6zM1215 302.5h2.6v2.6h-2.6zM1215 305h2.6v2.6h-2.6zM1215 307.5h2.6v2.6h-2.6zM1215 310h2.6v2.6h-2.6zM1215 312.5h2.6v2.6h-2.6zM1215 320h2.6v2.6h-2.6zM1215 322.5h2.6v2.6h-2.6zM1215 325h2.6v2.6h-2.6zM1215 330h2.6v2.6h-2.6zM1215 342.5h2.6v2.6h-2.6zM1215 350h2.6v2.6h-2.6zM1217.5 232.5h2.6v2.6h-2.6zM1217.5 235h2.6v2.6h-2.6zM1217.5 252.5h2.6v2.6h-2.6zM1217.5 275h2.6v2.6h-2.6zM1217.5 282.5h2.6v2.6h-2.6zM1217.5 287.5h2.6v2.6h-2.6zM1217.5 290h2.6v2.6h-2.6zM1217.5 297.5h2.6v2.6h-2.6zM1217.5 302.5h2.6v2.6h-2.6zM1217.5 305h2.6v2.6h-2.6zM1217.5 310h2.6v2.6h-2.6zM1217.5 312.5h2.6v2.6h-2.6zM1217.5 317.5h2.6v2.6h-2.6zM1217.5 322.5h2.6v2.6h-2.6zM1217.5 342.5h2.6v2.6h-2.6zM1217.5 350h2.6v2.6h-2.6zM1217.5 357.5h2.6v2.6h-2.6zM1217.5 367.5h2.6v2.6h-2.6zM1220 252.5h2.6v2.6h-2.6zM1220 275h2.6v2.6h-2.6zM1220 292.5h2.6v2.6h-2.6zM1220 295h2.6v2.6h-2.6zM1220 297.5h2.6v2.6h-2.6zM1220 307.5h2.6v2.6h-2.6zM1220 312.5h2.6v2.6h-2.6zM1220 322.5h2.6v2.6h-2.6zM1220 325h2.6v2.6h-2.6zM1220 332.5h2.6v2.6h-2.6zM1220 347.5h2.6v2.6h-2.6zM1222.5 225h2.6v2.6h-2.6zM1222.5 260h2.6v2.6h-2.6zM1222.5 295h2.6v2.6h-2.6zM1222.5 300h2.6v2.6h-2.6zM1222.5 302.5h2.6v2.6h-2.6zM1222.5 307.5h2.6v2.6h-2.6zM1222.5 312.5h2.6v2.6h-2.6zM1222.5 315h2.6v2.6h-2.6zM1225 245h2.6v2.6h-2.6zM1225 277.5h2.6v2.6h-2.6zM1225 280h2.6v2.6h-2.6zM1225 285h2.6v2.6h-2.6zM1225 287.5h2.6v2.6h-2.6zM1225 295h2.6v2.6h-2.6zM1225 297.5h2.6v2.6h-2.6zM1225 300h2.6v2.6h-2.6zM1225 305h2.6v2.6h-2.6zM1225 307.5h2.6v2.6h-2.6zM1225 310h2.6v2.6h-2.6zM1225 312.5h2.6v2.6h-2.6zM1225 325h2.6v2.6h-2.6zM1225 330h2.6v2.6h-2.6zM1225 335h2.6v2.6h-2.6zM1225 342.5h2.6v2.6h-2.6zM1227.5 235h2.6v2.6h-2.6zM1227.5 257.5h2.6v2.6h-2.6zM1227.5 280h2.6v2.6h-2.6zM1227.5 285h2.6v2.6h-2.6zM1227.5 287.5h2.6v2.6h-2.6zM1227.5 305h2.6v2.6h-2.6zM1227.5 322.5h2.6v2.6h-2.6zM1227.5 335h2.6v2.6h-2.6zM1230 227.5h2.6v2.6h-2.6zM1230 265h2.6v2.6h-2.6zM1230 295h2.6v2.6h-2.6zM1230 297.5h2.6v2.6h-2.6zM1230 327.5h2.6v2.6h-2.6zM1230 340h2.6v2.6h-2.6zM1232.5 250h2.6v2.6h-2.6zM1232.5 252.5h2.6v2.6h-2.6zM1232.5 267.5h2.6v2.6h-2.6zM1232.5 275h2.6v2.6h-2.6zM1232.5 277.5h2.6v2.6h-2.6zM1232.5 285h2.6v2.6h-2.6zM1232.5 290h2.6v2.6h-2.6zM1232.5 302.5h2.6v2.6h-2.6zM1232.5 310h2.6v2.6h-2.6zM1232.5 315h2.6v2.6h-2.6zM1232.5 317.5h2.6v2.6h-2.6zM1232.5 327.5h2.6v2.6h-2.6zM1232.5 335h2.6v2.6h-2.6zM1235 227.5h2.6v2.6h-2.6zM1235 255h2.6v2.6h-2.6zM1235 257.5h2.6v2.6h-2.6zM1235 262.5h2.6v2.6h-2.6zM1235 267.5h2.6v2.6h-2.6zM1235 272.5h2.6v2.6h-2.6zM1235 282.5h2.6v2.6h-2.6zM1235 285h2.6v2.6h-2.6zM1235 290h2.6v2.6h-2.6zM1235 310h2.6v2.6h-2.6zM1235 315h2.6v2.6h-2.6zM1235 322.5h2.6v2.6h-2.6zM1237.5 265h2.6v2.6h-2.6zM1237.5 270h2.6v2.6h-2.6zM1237.5 345h2.6v2.6h-2.6zM1240 230h2.6v2.6h-2.6zM1240 267.5h2.6v2.6h-2.6zM1240 337.5h2.6v2.6h-2.6zM1240 362.5h2.6v2.6h-2.6zM1242.5 252.5h2.6v2.6h-2.6zM1242.5 267.5h2.6v2.6h-2.6zM1242.5 277.5h2.6v2.6h-2.6zM1242.5 317.5h2.6v2.6h-2.6zM1242.5 337.5h2.6v2.6h-2.6zM1245 267.5h2.6v2.6h-2.6zM1245 315h2.6v2.6h-2.6zM1245 322.5h2.6v2.6h-2.6zM1247.5 297.5h2.6v2.6h-2.6zM1247.5 310h2.6v2.6h-2.6zM1247.5 312.5h2.6v2.6h-2.6zM1247.5 322.5h2.6v2.6h-2.6zM1247.5 342.5h2.6v2.6h-2.6zM1252.5 212.5h2.6v2.6h-2.6zM1252.5 285h2.6v2.6h-2.6zM1252.5 290h2.6v2.6h-2.6zM1252.5 310h2.6v2.6h-2.6zM1255 327.5h2.6v2.6h-2.6zM1255 330h2.6v2.6h-2.6zM1257.5 337.5h2.6v2.6h-2.6zM1257.5 350h2.6v2.6h-2.6zM1260 247.5h2.6v2.6h-2.6zM1260 302.5h2.6v2.6h-2.6zM1267.5 242.5h2.6v2.6h-2.6zM1267.5 245h2.6v2.6h-2.6zM1267.5 255h2.6v2.6h-2.6zM1267.5 287.5h2.6v2.6h-2.6zM1272.5 332.5h2.6v2.6h-2.6zM1272.5 345h2.6v2.6h-2.6zM1275 365h2.6v2.6h-2.6zM1277.5 245h2.6v2.6h-2.6zM1277.5 315h2.6v2.6h-2.6zM1277.5 320h2.6v2.6h-2.6zM1277.5 330h2.6v2.6h-2.6zM1280 235h2.6v2.6h-2.6zM1292.5 222.5h2.6v2.6h-2.6zM1292.5 235h2.6v2.6h-2.6zM1297.5 325h2.6v2.6h-2.6zM1300 282.5h2.6v2.6h-2.6z"/>
<path d="M1124.6 156.2H1375.7V374.6H1124.6ZM1219.5 156.2V374.6M1124.6 288.2H1375.7" stroke="#000" stroke-width="2.4" fill="none"/>
<path d="M1126.6 374.6v9M1124.6 374.6h-8.5M1145.3 374.6v4.5M1124.6 358.2h-4.5M1156.3 374.6v4.5M1124.6 348.5h-4.5M1164.1 374.6v4.5M1124.6 341.7h-4.5M1170.1 374.6v4.5M1124.6 336.4h-4.5M1175.1 374.6v4.5M1124.6 332.1h-4.5M1179.2 374.6v4.5M1124.6 328.5h-4.5M1182.8 374.6v4.5M1124.6 325.3h-4.5M1186 374.6v4.5M1124.6 322.5h-4.5M1188.9 374.6v9M1124.6 320h-8.5M1207.6 374.6v4.5M1124.6 303.6h-4.5M1218.6 374.6v4.5M1124.6 293.9h-4.5M1226.4 374.6v4.5M1124.6 287.1h-4.5M1232.4 374.6v4.5M1124.6 281.8h-4.5M1237.3 374.6v4.5M1124.6 277.5h-4.5M1241.5 374.6v4.5M1124.6 273.9h-4.5M1245.1 374.6v4.5M1124.6 270.7h-4.5M1248.3 374.6v4.5M1124.6 267.9h-4.5M1251.2 374.6v9M1124.6 265.4h-8.5M1269.9 374.6v4.5M1124.6 249h-4.5M1280.9 374.6v4.5M1124.6 239.3h-4.5M1288.6 374.6v4.5M1124.6 232.5h-4.5M1294.7 374.6v4.5M1124.6 227.2h-4.5M1299.6 374.6v4.5M1124.6 222.9h-4.5M1303.8 374.6v4.5M1124.6 219.3h-4.5M1307.4 374.6v4.5M1124.6 216.1h-4.5M1310.6 374.6v4.5M1124.6 213.3h-4.5M1313.4 374.6v9M1124.6 210.8h-8.5M1332.2 374.6v4.5M1124.6 194.4h-4.5M1343.1 374.6v4.5M1124.6 184.7h-4.5M1350.9 374.6v4.5M1124.6 177.9h-4.5M1357 374.6v4.5M1124.6 172.6h-4.5M1361.9 374.6v4.5M1124.6 168.3h-4.5M1366.1 374.6v4.5M1124.6 164.7h-4.5M1369.7 374.6v4.5M1124.6 161.5h-4.5M1372.9 374.6v4.5M1124.6 158.7h-4.5M1375.7 374.6v9M1124.6 156.2h-8.5" stroke="#000" stroke-width="2.4" fill="none"/>
<text class="S" x="1113.1" y="405.3" font-size="19.4" font-weight="bold" textLength="17.5" lengthAdjust="spacingAndGlyphs">10</text>
<text class="S" x="1130.2" y="395.5" font-size="22.3" textLength="11.6" lengthAdjust="spacingAndGlyphs">0</text>
<text class="S" x="1175.3" y="405.3" font-size="19.4" font-weight="bold" textLength="17.5" lengthAdjust="spacingAndGlyphs">10</text>
<text class="S" x="1191.6" y="395.7" font-size="22.9" textLength="12.8" lengthAdjust="spacingAndGlyphs">1</text>
<text class="S" x="1237.6" y="405.3" font-size="19.4" font-weight="bold" textLength="17.5" lengthAdjust="spacingAndGlyphs">10</text>
<text class="S" x="1254.5" y="395.7" font-size="22.6" textLength="12.2" lengthAdjust="spacingAndGlyphs">2</text>
<text class="S" x="1299.9" y="405.3" font-size="19.4" font-weight="bold" textLength="17.5" lengthAdjust="spacingAndGlyphs">10</text>
<text class="S" x="1317" y="395.5" font-size="22.3" textLength="11.7" lengthAdjust="spacingAndGlyphs">3</text>
<text class="S" x="1362.2" y="405.3" font-size="19.4" font-weight="bold" textLength="17.5" lengthAdjust="spacingAndGlyphs">10</text>
<text class="S" x="1379.7" y="395.7" font-size="22.9" textLength="11" lengthAdjust="spacingAndGlyphs">4</text>
<text class="S" transform="translate(0,386.4) rotate(-90)" x="-0.9" y="1110.3" font-size="21.7" font-weight="bold" textLength="16.5" lengthAdjust="spacingAndGlyphs">10</text>
<text class="S" transform="translate(0,367.4) rotate(-90)" x="-0.8" y="1099.2" font-size="19.7" textLength="11.6" lengthAdjust="spacingAndGlyphs">0</text>
<text class="S" transform="translate(0,331.8) rotate(-90)" x="-0.9" y="1110.3" font-size="21.7" font-weight="bold" textLength="16.5" lengthAdjust="spacingAndGlyphs">10</text>
<text class="S" transform="translate(0,312.8) rotate(-90)" x="-1.7" y="1099.4" font-size="20.3" textLength="12.8" lengthAdjust="spacingAndGlyphs">1</text>
<text class="S" transform="translate(0,277.2) rotate(-90)" x="-0.9" y="1110.3" font-size="21.7" font-weight="bold" textLength="16.5" lengthAdjust="spacingAndGlyphs">10</text>
<text class="S" transform="translate(0,258.2) rotate(-90)" x="-1.1" y="1099.4" font-size="20" textLength="12.2" lengthAdjust="spacingAndGlyphs">2</text>
<text class="S" transform="translate(0,222.6) rotate(-90)" x="-0.9" y="1110.3" font-size="21.7" font-weight="bold" textLength="16.5" lengthAdjust="spacingAndGlyphs">10</text>
<text class="S" transform="translate(0,203.6) rotate(-90)" x="-0.8" y="1099.2" font-size="19.7" textLength="11.7" lengthAdjust="spacingAndGlyphs">3</text>
<text class="S" transform="translate(0,168) rotate(-90)" x="-0.9" y="1110.3" font-size="21.7" font-weight="bold" textLength="16.5" lengthAdjust="spacingAndGlyphs">10</text>
<text class="S" transform="translate(0,149) rotate(-90)" x="-0.4" y="1099.4" font-size="20.3" textLength="11" lengthAdjust="spacingAndGlyphs">4</text>
<text class="S" transform="translate(0,274.7) rotate(-90)" x="-1.5" y="1085.7" font-size="22.8" textLength="17.5" lengthAdjust="spacingAndGlyphs">PI</text>
<text class="M" x="1198.7" y="420.3" font-size="16.7" textLength="129.1" lengthAdjust="spacingAndGlyphs" stroke="#000" stroke-width="0.35">Annexin V-FITC</text>
<text class="S" x="1309.3" y="187.6" font-size="20.7" textLength="54.1" lengthAdjust="spacingAndGlyphs">2. 97%</text>
<text class="S" x="1309.5" y="358.1" font-size="20.6" textLength="53.9" lengthAdjust="spacingAndGlyphs">7. 53%</text>
<text class="S" x="1559.9" y="105.5" font-size="29" textLength="46.1" lengthAdjust="spacingAndGlyphs" stroke="#000" stroke-width="0.2">200</text>
<text class="S" x="1614.1" y="104.7" font-size="26.3" textLength="16.6" lengthAdjust="spacingAndGlyphs" stroke="#000" stroke-width="0.2">μ</text>
<text class="S" x="1636.6" y="105.8" font-size="29.9" font-weight="bold" textLength="15.7" lengthAdjust="spacingAndGlyphs" stroke="#000" stroke-width="0.7">M</text>
<path fill="#333" d="M1505 225h2.6v2.6h-2.6zM1505 352.5h2.6v2.6h-2.6zM1507.5 222.5h2.6v2.6h-2.6zM1507.5 247.5h2.6v2.6h-2.6zM1507.5 252.5h2.6v2.6h-2.6zM1510 247.5h2.6v2.6h-2.6zM1510 270h2.6v2.6h-2.6zM1512.5 202.5h2.6v2.6h-2.6zM1512.5 217.5h2.6v2.6h-2.6zM1512.5 222.5h2.6v2.6h-2.6zM1512.5 227.5h2.6v2.6h-2.6zM1512.5 237.5h2.6v2.6h-2.6zM1512.5 355h2.6v2.6h-2.6zM1512.5 362.5h2.6v2.6h-2.6zM1515 222.5h2.6v2.6h-2.6zM1515 237.5h2.6v2.6h-2.6zM1515 277.5h2.6v2.6h-2.6zM1515 312.5h2.6v2.6h-2.6zM1517.5 225h2.6v2.6h-2.6zM1517.5 227.5h2.6v2.6h-2.6zM1517.5 235h2.6v2.6h-2.6zM1517.5 237.5h2.6v2.6h-2.6zM1517.5 260h2.6v2.6h-2.6zM1517.5 340h2.6v2.6h-2.6zM1517.5 345h2.6v2.6h-2.6zM1520 220h2.6v2.6h-2.6zM1520 227.5h2.6v2.6h-2.6zM1520 235h2.6v2.6h-2.6zM1520 237.5h2.6v2.6h-2.6zM1520 355h2.6v2.6h-2.6zM1522.5 230h2.6v2.6h-2.6zM1522.5 232.5h2.6v2.6h-2.6zM1522.5 237.5h2.6v2.6h-2.6zM1522.5 240h2.6v2.6h-2.6zM1522.5 247.5h2.6v2.6h-2.6zM1522.5 252.5h2.6v2.6h-2.6zM1522.5 332.5h2.6v2.6h-2.6zM1522.5 355h2.6v2.6h-2.6zM1522.5 360h2.6v2.6h-2.6zM1525 230h2.6v2.6h-2.6zM1525 232.5h2.6v2.6h-2.6zM1525 235h2.6v2.6h-2.6zM1525 237.5h2.6v2.6h-2.6zM1525 240h2.6v2.6h-2.6zM1525 242.5h2.6v2.6h-2.6zM1525 247.5h2.6v2.6h-2.6zM1525 255h2.6v2.6h-2.6zM1525 332.5h2.6v2.6h-2.6zM1525 337.5h2.6v2.6h-2.6zM1525 340h2.6v2.6h-2.6zM1525 350h2.6v2.6h-2.6zM1525 355h2.6v2.6h-2.6zM1527.5 235h2.6v2.6h-2.6zM1527.5 292.5h2.6v2.6h-2.6zM1527.5 305h2.6v2.6h-2.6zM1527.5 310h2.6v2.6h-2.6zM1527.5 315h2.6v2.6h-2.6zM1527.5 320h2.6v2.6h-2.6zM1527.5 345h2.6v2.6h-2.6zM1527.5 355h2.6v2.6h-2.6zM1527.5 362.5h2.6v2.6h-2.6zM1530 227.5h2.6v2.6h-2.6zM1530 230h2.6v2.6h-2.6zM1530 242.5h2.6v2.6h-2.6zM1530 322.5h2.6v2.6h-2.6zM1530 330h2.6v2.6h-2.6zM1530 342.5h2.6v2.6h-2.6zM1530 350h2.6v2.6h-2.6zM1530 355h2.6v2.6h-2.6zM1530 360h2.6v2.6h-2.6zM1530 362.5h2.6v2.6h-2.6zM1530 365h2.6v2.6h-2.6zM1532.5 215h2.6v2.6h-2.6zM1532.5 222.5h2.6v2.6h-2.6zM1532.5 230h2.6v2.6h-2.6zM1532.5 242.5h2.6v2.6h-2.6zM1532.5 277.5h2.6v2.6h-2.6zM1532.5 327.5h2.6v2.6h-2.6zM1532.5 330h2.6v2.6h-2.6zM1532.5 335h2.6v2.6h-2.6zM1532.5 342.5h2.6v2.6h-2.6zM1532.5 350h2.6v2.6h-2.6zM1532.5 352.5h2.6v2.6h-2.6zM1532.5 360h2.6v2.6h-2.6zM1535 245h2.6v2.6h-2.6zM1535 267.5h2.6v2.6h-2.6zM1535 325h2.6v2.6h-2.6zM1535 327.5h2.6v2.6h-2.6zM1535 330h2.6v2.6h-2.6zM1535 337.5h2.6v2.6h-2.6zM1535 342.5h2.6v2.6h-2.6zM1535 345h2.6v2.6h-2.6zM1535 352.5h2.6v2.6h-2.6zM1535 355h2.6v2.6h-2.6zM1535 357.5h2.6v2.6h-2.6zM1535 360h2.6v2.6h-2.6zM1535 362.5h2.6v2.6h-2.6zM1537.5 332.5h2.6v2.6h-2.6zM1537.5 335h2.6v2.6h-2.6zM1537.5 340h2.6v2.6h-2.6zM1537.5 342.5h2.6v2.6h-2.6zM1537.5 347.5h2.6v2.6h-2.6zM1537.5 350h2.6v2.6h-2.6zM1537.5 352.5h2.6v2.6h-2.6zM1537.5 355h2.6v2.6h-2.6zM1537.5 357.5h2.6v2.6h-2.6zM1537.5 362.5h2.6v2.6h-2.6zM1537.5 367.5h2.6v2.6h-2.6zM1540 222.5h2.6v2.6h-2.6zM1540 227.5h2.6v2.6h-2.6zM1540 245h2.6v2.6h-2.6zM1540 302.5h2.6v2.6h-2.6zM1540 312.5h2.6v2.6h-2.6zM1540 315h2.6v2.6h-2.6zM1540 320h2.6v2.6h-2.6zM1540 322.5h2.6v2.6h-2.6zM1540 325h2.6v2.6h-2.6zM1540 327.5h2.6v2.6h-2.6zM1540 330h2.6v2.6h-2.6zM1540 332.5h2.6v2.6h-2.6zM1540 335h2.6v2.6h-2.6zM1540 340h2.6v2.6h-2.6zM1540 342.5h2.6v2.6h-2.6zM1540 345h2.6v2.6h-2.6zM1540 347.5h2.6v2.6h-2.6zM1540 350h2.6v2.6h-2.6zM1540 352.5h2.6v2.6h-2.6zM1540 355h2.6v2.6h-2.6zM1540 357.5h2.6v2.6h-2.6zM1540 365h2.6v2.6h-2.6zM1542.5 212.5h2.6v2.6h-2.6zM1542.5 215h2.6v2.6h-2.6zM1542.5 232.5h2.6v2.6h-2.6zM1542.5 235h2.6v2.6h-2.6zM1542.5 242.5h2.6v2.6h-2.6zM1542.5 252.5h2.6v2.6h-2.6zM1542.5 312.5h2.6v2.6h-2.6zM1542.5 330h2.6v2.6h-2.6zM1542.5 332.5h2.6v2.6h-2.6zM1542.5 335h2.6v2.6h-2.6zM1542.5 337.5h2.6v2.6h-2.6zM1542.5 342.5h2.6v2.6h-2.6zM1542.5 345h2.6v2.6h-2.6zM1542.5 347.5h2.6v2.6h-2.6zM1542.5 350h2.6v2.6h-2.6zM1542.5 352.5h2.6v2.6h-2.6zM1542.5 355h2.6v2.6h-2.6zM1542.5 357.5h2.6v2.6h-2.6zM1542.5 360h2.6v2.6h-2.6zM1542.5 362.5h2.6v2.6h-2.6zM1542.5 365h2.6v2.6h-2.6zM1545 237.5h2.6v2.6h-2.6zM1545 255h2.6v2.6h-2.6zM1545 310h2.6v2.6h-2.6zM1545 317.5h2.6v2.6h-2.6zM1545 330h2.6v2.6h-2.6zM1545 332.5h2.6v2.6h-2.6zM1545 335h2.6v2.6h-2.6zM1545 337.5h2.6v2.6h-2.6zM1545 340h2.6v2.6h-2.6zM1545 342.5h2.6v2.6h-2.6zM1545 345h2.6v2.6h-2.6zM1545 350h2.6v2.6h-2.6zM1545 352.5h2.6v2.6h-2.6zM1545 355h2.6v2.6h-2.6zM1545 357.5h2.6v2.6h-2.6zM1545 360h2.6v2.6h-2.6zM1545 362.5h2.6v2.6h-2.6zM1545 367.5h2.6v2.6h-2.6zM1547.5 222.5h2.6v2.6h-2.6zM1547.5 237.5h2.6v2.6h-2.6zM1547.5 250h2.6v2.6h-2.6zM1547.5 310h2.6v2.6h-2.6zM1547.5 317.5h2.6v2.6h-2.6zM1547.5 320h2.6v2.6h-2.6zM1547.5 327.5h2.6v2.6h-2.6zM1547.5 335h2.6v2.6h-2.6zM1547.5 337.5h2.6v2.6h-2.6zM1547.5 340h2.6v2.6h-2.6zM1547.5 342.5h2.6v2.6h-2.6zM1547.5 345h2.6v2.6h-2.6zM1547.5 347.5h2.6v2.6h-2.6zM1547.5 350h2.6v2.6h-2.6zM1547.5 352.5h2.6v2.6h-2.6zM1547.5 355h2.6v2.6h-2.6zM1547.5 360h2.6v2.6h-2.6zM1550 212.5h2.6v2.6h-2.6zM1550 232.5h2.6v2.6h-2.6zM1550 235h2.6v2.6h-2.6zM1550 237.5h2.6v2.6h-2.6zM1550 310h2.6v2.6h-2.6zM1550 317.5h2.6v2.6h-2.6zM1550 320h2.6v2.6h-2.6zM1550 325h2.6v2.6h-2.6zM1550 327.5h2.6v2.6h-2.6zM1550 332.5h2.6v2.6h-2.6zM1550 335h2.6v2.6h-2.6zM1550 337.5h2.6v2.6h-2.6zM1550 340h2.6v2.6h-2.6zM1550 342.5h2.6v2.6h-2.6zM1550 345h2.6v2.6h-2.6zM1550 347.5h2.6v2.6h-2.6zM1550 350h2.6v2.6h-2.6zM1550 352.5h2.6v2.6h-2.6zM1550 355h2.6v2.6h-2.6zM1550 357.5h2.6v2.6h-2.6zM1550 360h2.6v2.6h-2.6zM1550 362.5h2.6v2.6h-2.6zM1550 365h2.6v2.6h-2.6zM1552.5 217.5h2.6v2.6h-2.6zM1552.5 237.5h2.6v2.6h-2.6zM1552.5 240h2.6v2.6h-2.6zM1552.5 242.5h2.6v2.6h-2.6zM1552.5 270h2.6v2.6h-2.6zM1552.5 310h2.6v2.6h-2.6zM1552.5 320h2.6v2.6h-2.6zM1552.5 322.5h2.6v2.6h-2.6zM1552.5 327.5h2.6v2.6h-2.6zM1552.5 332.5h2.6v2.6h-2.6zM1552.5 335h2.6v2.6h-2.6zM1552.5 337.5h2.6v2.6h-2.6zM1552.5 340h2.6v2.6h-2.6zM1552.5 342.5h2.6v2.6h-2.6zM1552.5 345h2.6v2.6h-2.6zM1552.5 347.5h2.6v2.6h-2.6zM1552.5 350h2.6v2.6h-2.6zM1552.5 355h2.6v2.6h-2.6zM1552.5 357.5h2.6v2.6h-2.6zM1552.5 362.5h2.6v2.6h-2.6zM1552.5 365h2.6v2.6h-2.6zM1555 227.5h2.6v2.6h-2.6zM1555 232.5h2.6v2.6h-2.6zM1555 247.5h2.6v2.6h-2.6zM1555 307.5h2.6v2.6h-2.6zM1555 317.5h2.6v2.6h-2.6zM1555 330h2.6v2.6h-2.6zM1555 332.5h2.6v2.6h-2.6zM1555 335h2.6v2.6h-2.6zM1555 337.5h2.6v2.6h-2.6zM1555 340h2.6v2.6h-2.6zM1555 342.5h2.6v2.6h-2.6zM1555 345h2.6v2.6h-2.6zM1555 347.5h2.6v2.6h-2.6zM1555 350h2.6v2.6h-2.6zM1555 352.5h2.6v2.6h-2.6zM1555 357.5h2.6v2.6h-2.6zM1555 360h2.6v2.6h-2.6zM1557.5 215h2.6v2.6h-2.6zM1557.5 217.5h2.6v2.6h-2.6zM1557.5 225h2.6v2.6h-2.6zM1557.5 227.5h2.6v2.6h-2.6zM1557.5 235h2.6v2.6h-2.6zM1557.5 252.5h2.6v2.6h-2.6zM1557.5 255h2.6v2.6h-2.6zM1557.5 310h2.6v2.6h-2.6zM1557.5 315h2.6v2.6h-2.6zM1557.5 320h2.6v2.6h-2.6zM1557.5 325h2.6v2.6h-2.6zM1557.5 330h2.6v2.6h-2.6zM1557.5 332.5h2.6v2.6h-2.6zM1557.5 335h2.6v2.6h-2.6zM1557.5 337.5h2.6v2.6h-2.6zM1557.5 340h2.6v2.6h-2.6zM1557.5 342.5h2.6v2.6h-2.6zM1557.5 345h2.6v2.6h-2.6zM1557.5 347.5h2.6v2.6h-2.6zM1557.5 352.5h2.6v2.6h-2.6zM1557.5 355h2.6v2.6h-2.6zM1557.5 360h2.6v2.6h-2.6zM1557.5 362.5h2.6v2.6h-2.6zM1560 217.5h2.6v2.6h-2.6zM1560 237.5h2.6v2.6h-2.6zM1560 242.5h2.6v2.6h-2.6zM1560 247.5h2.6v2.6h-2.6zM1560 252.5h2.6v2.6h-2.6zM1560 307.5h2.6v2.6h-2.6zM1560 310h2.6v2.6h-2.6zM1560 312.5h2.6v2.6h-2.6zM1560 315h2.6v2.6h-2.6zM1560 317.5h2.6v2.6h-2.6zM1560 320h2.6v2.6h-2.6zM1560 322.5h2.6v2.6h-2.6zM1560 325h2.6v2.6h-2.6zM1560 327.5h2.6v2.6h-2.6zM1560 330h2.6v2.6h-2.6zM1560 332.5h2.6v2.6h-2.6zM1560 337.5h2.6v2.6h-2.6zM1560 340h2.6v2.6h-2.6zM1560 342.5h2.6v2.6h-2.6zM1560 345h2.6v2.6h-2.6zM1560 347.5h2.6v2.6h-2.6zM1560 350h2.6v2.6h-2.6zM1560 352.5h2.6v2.6h-2.6zM1560 355h2.6v2.6h-2.6zM1562.5 205h2.6v2.6h-2.6zM1562.5 212.5h2.6v2.6h-2.6zM1562.5 217.5h2.6v2.6h-2.6zM1562.5 227.5h2.6v2.6h-2.6zM1562.5 230h2.6v2.6h-2.6zM1562.5 232.5h2.6v2.6h-2.6zM1562.5 237.5h2.6v2.6h-2.6zM1562.5 240h2.6v2.6h-2.6zM1562.5 245h2.6v2.6h-2.6zM1562.5 250h2.6v2.6h-2.6zM1562.5 252.5h2.6v2.6h-2.6zM1562.5 297.5h2.6v2.6h-2.6zM1562.5 310h2.6v2.6h-2.6zM1562.5 315h2.6v2.6h-2.6zM1562.5 317.5h2.6v2.6h-2.6zM1562.5 322.5h2.6v2.6h-2.6zM1562.5 327.5h2.6v2.6h-2.6zM1562.5 330h2.6v2.6h-2.6zM1562.5 332.5h2.6v2.6h-2.6zM1562.5 335h2.6v2.6h-2.6zM1562.5 337.5h2.6v2.6h-2.6zM1562.5 340h2.6v2.6h-2.6zM1562.5 342.5h2.6v2.6h-2.6zM1562.5 345h2.6v2.6h-2.6zM1562.5 350h2.6v2.6h-2.6zM1562.5 352.5h2.6v2.6h-2.6zM1562.5 355h2.6v2.6h-2.6zM1562.5 357.5h2.6v2.6h-2.6zM1562.5 360h2.6v2.6h-2.6zM1562.5 362.5h2.6v2.6h-2.6zM1565 225h2.6v2.6h-2.6zM1565 247.5h2.6v2.6h-2.6zM1565 250h2.6v2.6h-2.6zM1565 300h2.6v2.6h-2.6zM1565 305h2.6v2.6h-2.6zM1565 310h2.6v2.6h-2.6zM1565 317.5h2.6v2.6h-2.6zM1565 320h2.6v2.6h-2.6zM1565 322.5h2.6v2.6h-2.6zM1565 325h2.6v2.6h-2.6zM1565 327.5h2.6v2.6h-2.6zM1565 330h2.6v2.6h-2.6zM1565 332.5h2.6v2.6h-2.6zM1565 337.5h2.6v2.6h-2.6zM1565 340h2.6v2.6h-2.6zM1565 342.5h2.6v2.6h-2.6zM1565 345h2.6v2.6h-2.6zM1565 347.5h2.6v2.6h-2.6zM1565 352.5h2.6v2.6h-2.6zM1565 355h2.6v2.6h-2.6zM1565 360h2.6v2.6h-2.6zM1565 367.5h2.6v2.6h-2.6zM1567.5 227.5h2.6v2.6h-2.6zM1567.5 230h2.6v2.6h-2.6zM1567.5 232.5h2.6v2.6h-2.6zM1567.5 237.5h2.6v2.6h-2.6zM1567.5 250h2.6v2.6h-2.6zM1567.5 255h2.6v2.6h-2.6zM1567.5 302.5h2.6v2.6h-2.6zM1567.5 305h2.6v2.6h-2.6zM1567.5 307.5h2.6v2.6h-2.6zM1567.5 310h2.6v2.6h-2.6zM1567.5 317.5h2.6v2.6h-2.6zM1567.5 320h2.6v2.6h-2.6zM1567.5 322.5h2.6v2.6h-2.6zM1567.5 325h2.6v2.6h-2.6zM1567.5 327.5h2.6v2.6h-2.6zM1567.5 330h2.6v2.6h-2.6zM1567.5 332.5h2.6v2.6h-2.6zM1567.5 335h2.6v2.6h-2.6zM1567.5 337.5h2.6v2.6h-2.6zM1567.5 340h2.6v2.6h-2.6zM1567.5 342.5h2.6v2.6h-2.6zM1567.5 345h2.6v2.6h-2.6zM1567.5 347.5h2.6v2.6h-2.6zM1567.5 350h2.6v2.6h-2.6zM1567.5 352.5h2.6v2.6h-2.6zM1567.5 357.5h2.6v2.6h-2.6zM1567.5 360h2.6v2.6h-2.6zM1570 217.5h2.6v2.6h-2.6zM1570 225h2.6v2.6h-2.6zM1570 230h2.6v2.6h-2.6zM1570 232.5h2.6v2.6h-2.6zM1570 240h2.6v2.6h-2.6zM1570 247.5h2.6v2.6h-2.6zM1570 300h2.6v2.6h-2.6zM1570 305h2.6v2.6h-2.6zM1570 317.5h2.6v2.6h-2.6zM1570 320h2.6v2.6h-2.6zM1570 322.5h2.6v2.6h-2.6zM1570 325h2.6v2.6h-2.6zM1570 327.5h2.6v2.6h-2.6zM1570 330h2.6v2.6h-2.6zM1570 332.5h2.6v2.6h-2.6zM1570 335h2.6v2.6h-2.6zM1570 337.5h2.6v2.6h-2.6zM1570 340h2.6v2.6h-2.6zM1570 342.5h2.6v2.6h-2.6zM1570 345h2.6v2.6h-2.6zM1570 350h2.6v2.6h-2.6zM1570 355h2.6v2.6h-2.6zM1570 357.5h2.6v2.6h-2.6zM1570 360h2.6v2.6h-2.6zM1570 365h2.6v2.6h-2.6zM1572.5 232.5h2.6v2.6h-2.6zM1572.5 240h2.6v2.6h-2.6zM1572.5 242.5h2.6v2.6h-2.6zM1572.5 255h2.6v2.6h-2.6zM1572.5 312.5h2.6v2.6h-2.6zM1572.5 315h2.6v2.6h-2.6zM1572.5 317.5h2.6v2.6h-2.6zM1572.5 322.5h2.6v2.6h-2.6zM1572.5 325h2.6v2.6h-2.6zM1572.5 327.5h2.6v2.6h-2.6zM1572.5 330h2.6v2.6h-2.6zM1572.5 335h2.6v2.6h-2.6zM1572.5 337.5h2.6v2.6h-2.6zM1572.5 342.5h2.6v2.6h-2.6zM1572.5 345h2.6v2.6h-2.6zM1572.5 350h2.6v2.6h-2.6zM1572.5 352.5h2.6v2.6h-2.6zM1572.5 362.5h2.6v2.6h-2.6zM1575 210h2.6v2.6h-2.6zM1575 215h2.6v2.6h-2.6zM1575 227.5h2.6v2.6h-2.6zM1575 232.5h2.6v2.6h-2.6zM1575 235h2.6v2.6h-2.6zM1575 237.5h2.6v2.6h-2.6zM1575 242.5h2.6v2.6h-2.6zM1575 245h2.6v2.6h-2.6zM1575 250h2.6v2.6h-2.6zM1575 265h2.6v2.6h-2.6zM1575 285h2.6v2.6h-2.6zM1575 292.5h2.6v2.6h-2.6zM1575 307.5h2.6v2.6h-2.6zM1575 310h2.6v2.6h-2.6zM1575 312.5h2.6v2.6h-2.6zM1575 317.5h2.6v2.6h-2.6zM1575 322.5h2.6v2.6h-2.6zM1575 325h2.6v2.6h-2.6zM1575 327.5h2.6v2.6h-2.6zM1575 330h2.6v2.6h-2.6zM1575 332.5h2.6v2.6h-2.6zM1575 340h2.6v2.6h-2.6zM1575 342.5h2.6v2.6h-2.6zM1575 347.5h2.6v2.6h-2.6zM1575 357.5h2.6v2.6h-2.6zM1577.5 200h2.6v2.6h-2.6zM1577.5 225h2.6v2.6h-2.6zM1577.5 227.5h2.6v2.6h-2.6zM1577.5 235h2.6v2.6h-2.6zM1577.5 242.5h2.6v2.6h-2.6zM1577.5 245h2.6v2.6h-2.6zM1577.5 247.5h2.6v2.6h-2.6zM1577.5 250h2.6v2.6h-2.6zM1577.5 262.5h2.6v2.6h-2.6zM1577.5 287.5h2.6v2.6h-2.6zM1577.5 307.5h2.6v2.6h-2.6zM1577.5 310h2.6v2.6h-2.6zM1577.5 312.5h2.6v2.6h-2.6zM1577.5 317.5h2.6v2.6h-2.6zM1577.5 320h2.6v2.6h-2.6zM1577.5 322.5h2.6v2.6h-2.6zM1577.5 327.5h2.6v2.6h-2.6zM1577.5 335h2.6v2.6h-2.6zM1577.5 340h2.6v2.6h-2.6zM1577.5 342.5h2.6v2.6h-2.6zM1577.5 345h2.6v2.6h-2.6zM1577.5 357.5h2.6v2.6h-2.6zM1580 220h2.6v2.6h-2.6zM1580 225h2.6v2.6h-2.6zM1580 227.5h2.6v2.6h-2.6zM1580 232.5h2.6v2.6h-2.6zM1580 235h2.6v2.6h-2.6zM1580 237.5h2.6v2.6h-2.6zM1580 240h2.6v2.6h-2.6zM1580 242.5h2.6v2.6h-2.6zM1580 245h2.6v2.6h-2.6zM1580 255h2.6v2.6h-2.6zM1580 312.5h2.6v2.6h-2.6zM1580 315h2.6v2.6h-2.6zM1580 317.5h2.6v2.6h-2.6zM1580 320h2.6v2.6h-2.6zM1580 330h2.6v2.6h-2.6zM1580 345h2.6v2.6h-2.6zM1582.5 220h2.6v2.6h-2.6zM1582.5 225h2.6v2.6h-2.6zM1582.5 230h2.6v2.6h-2.6zM1582.5 232.5h2.6v2.6h-2.6zM1582.5 240h2.6v2.6h-2.6zM1582.5 242.5h2.6v2.6h-2.6zM1582.5 250h2.6v2.6h-2.6zM1582.5 305h2.6v2.6h-2.6zM1582.5 315h2.6v2.6h-2.6zM1582.5 327.5h2.6v2.6h-2.6zM1582.5 335h2.6v2.6h-2.6zM1582.5 337.5h2.6v2.6h-2.6zM1582.5 340h2.6v2.6h-2.6zM1582.5 345h2.6v2.6h-2.6zM1582.5 350h2.6v2.6h-2.6zM1585 215h2.6v2.6h-2.6zM1585 222.5h2.6v2.6h-2.6zM1585 232.5h2.6v2.6h-2.6zM1585 235h2.6v2.6h-2.6zM1585 242.5h2.6v2.6h-2.6zM1585 245h2.6v2.6h-2.6zM1585 250h2.6v2.6h-2.6zM1585 255h2.6v2.6h-2.6zM1585 257.5h2.6v2.6h-2.6zM1585 307.5h2.6v2.6h-2.6zM1585 310h2.6v2.6h-2.6zM1585 317.5h2.6v2.6h-2.6zM1585 327.5h2.6v2.6h-2.6zM1585 337.5h2.6v2.6h-2.6zM1585 345h2.6v2.6h-2.6zM1587.5 217.5h2.6v2.6h-2.6zM1587.5 220h2.6v2.6h-2.6zM1587.5 232.5h2.6v2.6h-2.6zM1587.5 235h2.6v2.6h-2.6zM1587.5 237.5h2.6v2.6h-2.6zM1587.5 240h2.6v2.6h-2.6zM1587.5 242.5h2.6v2.6h-2.6zM1587.5 245h2.6v2.6h-2.6zM1587.5 292.5h2.6v2.6h-2.6zM1587.5 310h2.6v2.6h-2.6zM1587.5 315h2.6v2.6h-2.6zM1587.5 325h2.6v2.6h-2.6zM1587.5 335h2.6v2.6h-2.6zM1587.5 337.5h2.6v2.6h-2.6zM1587.5 347.5h2.6v2.6h-2.6zM1587.5 357.5h2.6v2.6h-2.6zM1587.5 365h2.6v2.6h-2.6zM1590 212.5h2.6v2.6h-2.6zM1590 230h2.6v2.6h-2.6zM1590 235h2.6v2.6h-2.6zM1590 240h2.6v2.6h-2.6zM1590 242.5h2.6v2.6h-2.6zM1590 245h2.6v2.6h-2.6zM1590 250h2.6v2.6h-2.6zM1590 252.5h2.6v2.6h-2.6zM1590 257.5h2.6v2.6h-2.6zM1590 312.5h2.6v2.6h-2.6zM1590 335h2.6v2.6h-2.6zM1590 337.5h2.6v2.6h-2.6zM1590 342.5h2.6v2.6h-2.6zM1590 347.5h2.6v2.6h-2.6zM1592.5 220h2.6v2.6h-2.6zM1592.5 225h2.6v2.6h-2.6zM1592.5 227.5h2.6v2.6h-2.6zM1592.5 232.5h2.6v2.6h-2.6zM1592.5 235h2.6v2.6h-2.6zM1592.5 237.5h2.6v2.6h-2.6zM1592.5 242.5h2.6v2.6h-2.6zM1592.5 285h2.6v2.6h-2.6zM1592.5 305h2.6v2.6h-2.6zM1592.5 312.5h2.6v2.6h-2.6zM1592.5 317.5h2.6v2.6h-2.6zM1592.5 322.5h2.6v2.6h-2.6zM1592.5 327.5h2.6v2.6h-2.6zM1592.5 335h2.6v2.6h-2.6zM1592.5 345h2.6v2.6h-2.6zM1592.5 355h2.6v2.6h-2.6zM1592.5 360h2.6v2.6h-2.6zM1595 210h2.6v2.6h-2.6zM1595 212.5h2.6v2.6h-2.6zM1595 225h2.6v2.6h-2.6zM1595 227.5h2.6v2.6h-2.6zM1595 232.5h2.6v2.6h-2.6zM1595 235h2.6v2.6h-2.6zM1595 237.5h2.6v2.6h-2.6zM1595 240h2.6v2.6h-2.6zM1595 242.5h2.6v2.6h-2.6zM1595 245h2.6v2.6h-2.6zM1595 252.5h2.6v2.6h-2.6zM1595 255h2.6v2.6h-2.6zM1595 260h2.6v2.6h-2.6zM1595 310h2.6v2.6h-2.6zM1595 330h2.6v2.6h-2.6zM1597.5 222.5h2.6v2.6h-2.6zM1597.5 227.5h2.6v2.6h-2.6zM1597.5 230h2.6v2.6h-2.6zM1597.5 232.5h2.6v2.6h-2.6zM1597.5 235h2.6v2.6h-2.6zM1597.5 237.5h2.6v2.6h-2.6zM1597.5 240h2.6v2.6h-2.6zM1597.5 242.5h2.6v2.6h-2.6zM1597.5 250h2.6v2.6h-2.6zM1597.5 252.5h2.6v2.6h-2.6zM1597.5 282.5h2.6v2.6h-2.6zM1597.5 307.5h2.6v2.6h-2.6zM1597.5 327.5h2.6v2.6h-2.6zM1600 217.5h2.6v2.6h-2.6zM1600 225h2.6v2.6h-2.6zM1600 232.5h2.6v2.6h-2.6zM1600 235h2.6v2.6h-2.6zM1600 250h2.6v2.6h-2.6zM1600 252.5h2.6v2.6h-2.6zM1600 257.5h2.6v2.6h-2.6zM1602.5 225h2.6v2.6h-2.6zM1602.5 227.5h2.6v2.6h-2.6zM1602.5 230h2.6v2.6h-2.6zM1602.5 235h2.6v2.6h-2.6zM1602.5 237.5h2.6v2.6h-2.6zM1602.5 240h2.6v2.6h-2.6zM1602.5 242.5h2.6v2.6h-2.6zM1602.5 245h2.6v2.6h-2.6zM1602.5 247.5h2.6v2.6h-2.6zM1602.5 250h2.6v2.6h-2.6zM1602.5 252.5h2.6v2.6h-2.6zM1602.5 257.5h2.6v2.6h-2.6zM1605 200h2.6v2.6h-2.6zM1605 227.5h2.6v2.6h-2.6zM1605 230h2.6v2.6h-2.6zM1605 232.5h2.6v2.6h-2.6zM1605 235h2.6v2.6h-2.6zM1605 237.5h2.6v2.6h-2.6zM1605 240h2.6v2.6h-2.6zM1605 242.5h2.6v2.6h-2.6zM1605 250h2.6v2.6h-2.6zM1605 262.5h2.6v2.6h-2.6zM1605 307.5h2.6v2.6h-2.6zM1605 317.5h2.6v2.6h-2.6zM1605 330h2.6v2.6h-2.6zM1605 332.5h2.6v2.6h-2.6zM1605 345h2.6v2.6h-2.6zM1607.5 232.5h2.6v2.6h-2.6zM1607.5 235h2.6v2.6h-2.6zM1607.5 237.5h2.6v2.6h-2.6zM1607.5 240h2.6v2.6h-2.6zM1607.5 242.5h2.6v2.6h-2.6zM1607.5 247.5h2.6v2.6h-2.6zM1607.5 250h2.6v2.6h-2.6zM1607.5 252.5h2.6v2.6h-2.6zM1607.5 255h2.6v2.6h-2.6zM1607.5 320h2.6v2.6h-2.6zM1607.5 327.5h2.6v2.6h-2.6zM1607.5 330h2.6v2.6h-2.6zM1610 212.5h2.6v2.6h-2.6zM1610 225h2.6v2.6h-2.6zM1610 227.5h2.6v2.6h-2.6zM1610 230h2.6v2.6h-2.6zM1610 232.5h2.6v2.6h-2.6zM1610 240h2.6v2.6h-2.6zM1610 242.5h2.6v2.6h-2.6zM1610 247.5h2.6v2.6h-2.6zM1610 250h2.6v2.6h-2.6zM1610 260h2.6v2.6h-2.6zM1610 267.5h2.6v2.6h-2.6zM1610 347.5h2.6v2.6h-2.6zM1612.5 227.5h2.6v2.6h-2.6zM1612.5 232.5h2.6v2.6h-2.6zM1612.5 237.5h2.6v2.6h-2.6zM1612.5 242.5h2.6v2.6h-2.6zM1612.5 245h2.6v2.6h-2.6zM1612.5 247.5h2.6v2.6h-2.6zM1612.5 250h2.6v2.6h-2.6zM1612.5 252.5h2.6v2.6h-2.6zM1612.5 255h2.6v2.6h-2.6zM1615 222.5h2.6v2.6h-2.6zM1615 227.5h2.6v2.6h-2.6zM1615 230h2.6v2.6h-2.6zM1615 235h2.6v2.6h-2.6zM1615 240h2.6v2.6h-2.6zM1615 242.5h2.6v2.6h-2.6zM1615 247.5h2.6v2.6h-2.6zM1615 250h2.6v2.6h-2.6zM1615 252.5h2.6v2.6h-2.6zM1615 255h2.6v2.6h-2.6zM1615 267.5h2.6v2.6h-2.6zM1615 310h2.6v2.6h-2.6zM1615 355h2.6v2.6h-2.6zM1617.5 202.5h2.6v2.6h-2.6zM1617.5 210h2.6v2.6h-2.6zM1617.5 217.5h2.6v2.6h-2.6zM1617.5 220h2.6v2.6h-2.6zM1617.5 222.5h2.6v2.6h-2.6zM1617.5 227.5h2.6v2.6h-2.6zM1617.5 232.5h2.6v2.6h-2.6zM1617.5 235h2.6v2.6h-2.6zM1617.5 237.5h2.6v2.6h-2.6zM1617.5 242.5h2.6v2.6h-2.6zM1617.5 245h2.6v2.6h-2.6zM1617.5 252.5h2.6v2.6h-2.6zM1617.5 260h2.6v2.6h-2.6zM1617.5 262.5h2.6v2.6h-2.6zM1620 212.5h2.6v2.6h-2.6zM1620 222.5h2.6v2.6h-2.6zM1620 227.5h2.6v2.6h-2.6zM1620 230h2.6v2.6h-2.6zM1620 232.5h2.6v2.6h-2.6zM1620 235h2.6v2.6h-2.6zM1620 237.5h2.6v2.6h-2.6zM1620 240h2.6v2.6h-2.6zM1620 242.5h2.6v2.6h-2.6zM1620 245h2.6v2.6h-2.6zM1620 262.5h2.6v2.6h-2.6zM1622.5 220h2.6v2.6h-2.6zM1622.5 232.5h2.6v2.6h-2.6zM1622.5 235h2.6v2.6h-2.6zM1622.5 237.5h2.6v2.6h-2.6zM1622.5 240h2.6v2.6h-2.6zM1622.5 242.5h2.6v2.6h-2.6zM1622.5 245h2.6v2.6h-2.6zM1622.5 252.5h2.6v2.6h-2.6zM1622.5 260h2.6v2.6h-2.6zM1625 207.5h2.6v2.6h-2.6zM1625 217.5h2.6v2.6h-2.6zM1625 230h2.6v2.6h-2.6zM1625 232.5h2.6v2.6h-2.6zM1625 240h2.6v2.6h-2.6zM1625 242.5h2.6v2.6h-2.6zM1625 245h2.6v2.6h-2.6zM1625 247.5h2.6v2.6h-2.6zM1625 250h2.6v2.6h-2.6zM1625 345h2.6v2.6h-2.6zM1627.5 220h2.6v2.6h-2.6zM1627.5 225h2.6v2.6h-2.6zM1627.5 227.5h2.6v2.6h-2.6zM1627.5 237.5h2.6v2.6h-2.6zM1627.5 240h2.6v2.6h-2.6zM1627.5 242.5h2.6v2.6h-2.6zM1627.5 245h2.6v2.6h-2.6zM1627.5 247.5h2.6v2.6h-2.6zM1627.5 295h2.6v2.6h-2.6zM1627.5 310h2.6v2.6h-2.6zM1630 217.5h2.6v2.6h-2.6zM1630 232.5h2.6v2.6h-2.6zM1630 235h2.6v2.6h-2.6zM1630 242.5h2.6v2.6h-2.6zM1630 245h2.6v2.6h-2.6zM1630 247.5h2.6v2.6h-2.6zM1632.5 227.5h2.6v2.6h-2.6zM1632.5 232.5h2.6v2.6h-2.6zM1632.5 237.5h2.6v2.6h-2.6zM1632.5 240h2.6v2.6h-2.6zM1632.5 242.5h2.6v2.6h-2.6zM1632.5 247.5h2.6v2.6h-2.6zM1632.5 250h2.6v2.6h-2.6zM1632.5 357.5h2.6v2.6h-2.6zM1632.5 362.5h2.6v2.6h-2.6zM1635 227.5h2.6v2.6h-2.6zM1635 230h2.6v2.6h-2.6zM1635 232.5h2.6v2.6h-2.6zM1635 237.5h2.6v2.6h-2.6zM1635 240h2.6v2.6h-2.6zM1635 245h2.6v2.6h-2.6zM1635 247.5h2.6v2.6h-2.6zM1635 260h2.6v2.6h-2.6zM1635 345h2.6v2.6h-2.6zM1637.5 220h2.6v2.6h-2.6zM1637.5 225h2.6v2.6h-2.6zM1637.5 235h2.6v2.6h-2.6zM1637.5 240h2.6v2.6h-2.6zM1637.5 247.5h2.6v2.6h-2.6zM1640 225h2.6v2.6h-2.6zM1640 227.5h2.6v2.6h-2.6zM1640 232.5h2.6v2.6h-2.6zM1640 240h2.6v2.6h-2.6zM1640 247.5h2.6v2.6h-2.6zM1642.5 225h2.6v2.6h-2.6zM1642.5 232.5h2.6v2.6h-2.6zM1642.5 237.5h2.6v2.6h-2.6zM1642.5 240h2.6v2.6h-2.6zM1642.5 242.5h2.6v2.6h-2.6zM1642.5 247.5h2.6v2.6h-2.6zM1642.5 252.5h2.6v2.6h-2.6zM1642.5 295h2.6v2.6h-2.6zM1642.5 320h2.6v2.6h-2.6zM1645 212.5h2.6v2.6h-2.6zM1645 227.5h2.6v2.6h-2.6zM1645 230h2.6v2.6h-2.6zM1645 232.5h2.6v2.6h-2.6zM1645 242.5h2.6v2.6h-2.6zM1645 245h2.6v2.6h-2.6zM1647.5 205h2.6v2.6h-2.6zM1647.5 232.5h2.6v2.6h-2.6zM1647.5 242.5h2.6v2.6h-2.6zM1647.5 280h2.6v2.6h-2.6zM1647.5 307.5h2.6v2.6h-2.6zM1647.5 335h2.6v2.6h-2.6zM1650 230h2.6v2.6h-2.6zM1650 232.5h2.6v2.6h-2.6zM1650 242.5h2.6v2.6h-2.6zM1650 255h2.6v2.6h-2.6zM1652.5 210h2.6v2.6h-2.6zM1652.5 250h2.6v2.6h-2.6zM1652.5 302.5h2.6v2.6h-2.6zM1652.5 365h2.6v2.6h-2.6zM1655 250h2.6v2.6h-2.6zM1655 312.5h2.6v2.6h-2.6zM1657.5 360h2.6v2.6h-2.6zM1660 220h2.6v2.6h-2.6zM1660 345h2.6v2.6h-2.6zM1662.5 230h2.6v2.6h-2.6zM1662.5 305h2.6v2.6h-2.6zM1665 360h2.6v2.6h-2.6zM1667.5 340h2.6v2.6h-2.6zM1670 322.5h2.6v2.6h-2.6zM1677.5 320h2.6v2.6h-2.6zM1687.5 327.5h2.6v2.6h-2.6z"/>
<path d="M1504.1 154.2H1756.2V371H1504.1ZM1597.5 154.2V371M1504.1 286.5H1756.2" stroke="#000" stroke-width="2.4" fill="none"/>
<path d="M1506.1 371v9M1504.1 371h-8.5M1524.9 371v4.5M1504.1 354.7h-4.5M1535.9 371v4.5M1504.1 345.1h-4.5M1543.7 371v4.5M1504.1 338.4h-4.5M1549.8 371v4.5M1504.1 333.1h-4.5M1554.8 371v4.5M1504.1 328.8h-4.5M1558.9 371v4.5M1504.1 325.2h-4.5M1562.6 371v4.5M1504.1 322.1h-4.5M1565.8 371v4.5M1504.1 319.3h-4.5M1568.6 371v9M1504.1 316.8h-8.5M1587.4 371v4.5M1504.1 300.5h-4.5M1598.5 371v4.5M1504.1 290.9h-4.5M1606.3 371v4.5M1504.1 284.2h-4.5M1612.3 371v4.5M1504.1 278.9h-4.5M1617.3 371v4.5M1504.1 274.6h-4.5M1621.5 371v4.5M1504.1 271h-4.5M1625.1 371v4.5M1504.1 267.9h-4.5M1628.3 371v4.5M1504.1 265.1h-4.5M1631.2 371v9M1504.1 262.6h-8.5M1650 371v4.5M1504.1 246.3h-4.5M1661 371v4.5M1504.1 236.7h-4.5M1668.8 371v4.5M1504.1 230h-4.5M1674.9 371v4.5M1504.1 224.7h-4.5M1679.8 371v4.5M1504.1 220.4h-4.5M1684 371v4.5M1504.1 216.8h-4.5M1687.6 371v4.5M1504.1 213.7h-4.5M1690.8 371v4.5M1504.1 210.9h-4.5M1693.7 371v9M1504.1 208.4h-8.5M1712.5 371v4.5M1504.1 192.1h-4.5M1723.5 371v4.5M1504.1 182.5h-4.5M1731.3 371v4.5M1504.1 175.8h-4.5M1737.4 371v4.5M1504.1 170.5h-4.5M1742.3 371v4.5M1504.1 166.2h-4.5M1746.5 371v4.5M1504.1 162.6h-4.5M1750.1 371v4.5M1504.1 159.5h-4.5M1753.3 371v4.5M1504.1 156.7h-4.5M1756.2 371v9M1504.1 154.2h-8.5" stroke="#000" stroke-width="2.4" fill="none"/>
<text class="S" x="1492.6" y="401.7" font-size="19.4" font-weight="bold" textLength="17.5" lengthAdjust="spacingAndGlyphs">10</text>
<text class="S" x="1509.7" y="391.9" font-size="22.3" textLength="11.6" lengthAdjust="spacingAndGlyphs">0</text>
<text class="S" x="1555.1" y="401.7" font-size="19.4" font-weight="bold" textLength="17.5" lengthAdjust="spacingAndGlyphs">10</text>
<text class="S" x="1571.3" y="392.1" font-size="22.9" textLength="12.8" lengthAdjust="spacingAndGlyphs">1</text>
<text class="S" x="1617.6" y="401.7" font-size="19.4" font-weight="bold" textLength="17.5" lengthAdjust="spacingAndGlyphs">10</text>
<text class="S" x="1634.5" y="392.1" font-size="22.6" textLength="12.2" lengthAdjust="spacingAndGlyphs">2</text>
<text class="S" x="1680.1" y="401.7" font-size="19.4" font-weight="bold" textLength="17.5" lengthAdjust="spacingAndGlyphs">10</text>
<text class="S" x="1697.2" y="391.9" font-size="22.3" textLength="11.7" lengthAdjust="spacingAndGlyphs">3</text>
<text class="S" x="1742.7" y="401.7" font-size="19.4" font-weight="bold" textLength="17.5" lengthAdjust="spacingAndGlyphs">10</text>
<text class="S" x="1760.2" y="392.1" font-size="22.9" textLength="11" lengthAdjust="spacingAndGlyphs">4</text>
<text class="S" transform="translate(0,382.8) rotate(-90)" x="-0.9" y="1489.8" font-size="21.7" font-weight="bold" textLength="16.5" lengthAdjust="spacingAndGlyphs">10</text>
<text class="S" transform="translate(0,363.8) rotate(-90)" x="-0.8" y="1478.7" font-size="19.7" textLength="11.6" lengthAdjust="spacingAndGlyphs">0</text>
<text class="S" transform="translate(0,328.6) rotate(-90)" x="-0.9" y="1489.8" font-size="21.7" font-weight="bold" textLength="16.5" lengthAdjust="spacingAndGlyphs">10</text>
<text class="S" transform="translate(0,309.6) rotate(-90)" x="-1.7" y="1478.9" font-size="20.3" textLength="12.8" lengthAdjust="spacingAndGlyphs">1</text>
<text class="S" transform="translate(0,274.4) rotate(-90)" x="-0.9" y="1489.8" font-size="21.7" font-weight="bold" textLength="16.5" lengthAdjust="spacingAndGlyphs">10</text>
<text class="S" transform="translate(0,255.4) rotate(-90)" x="-1.1" y="1478.9" font-size="20" textLength="12.2" lengthAdjust="spacingAndGlyphs">2</text>
<text class="S" transform="translate(0,220.2) rotate(-90)" x="-0.9" y="1489.8" font-size="21.7" font-weight="bold" textLength="16.5" lengthAdjust="spacingAndGlyphs">10</text>
<text class="S" transform="translate(0,201.2) rotate(-90)" x="-0.8" y="1478.7" font-size="19.7" textLength="11.7" lengthAdjust="spacingAndGlyphs">3</text>
<text class="S" transform="translate(0,166) rotate(-90)" x="-0.9" y="1489.8" font-size="21.7" font-weight="bold" textLength="16.5" lengthAdjust="spacingAndGlyphs">10</text>
<text class="S" transform="translate(0,147) rotate(-90)" x="-0.4" y="1478.9" font-size="20.3" textLength="11" lengthAdjust="spacingAndGlyphs">4</text>
<text class="S" transform="translate(0,271.9) rotate(-90)" x="-1.5" y="1465.2" font-size="22.8" textLength="17.5" lengthAdjust="spacingAndGlyphs">PI</text>
<text class="M" x="1581.2" y="420.1" font-size="16.7" textLength="129.1" lengthAdjust="spacingAndGlyphs" stroke="#000" stroke-width="0.35">Annexin V-FITC</text>
<text class="S" x="1682.9" y="184.9" font-size="20.8" textLength="64.8" lengthAdjust="spacingAndGlyphs">21. 03%</text>
<text class="S" x="1690.7" y="355.7" font-size="21" textLength="53.9" lengthAdjust="spacingAndGlyphs">4. 25%</text>
<text class="S" x="487" y="534.9" font-size="29" textLength="15.3" lengthAdjust="spacingAndGlyphs" stroke="#000" stroke-width="0.2">0</text>
<text class="S" x="510" y="534.1" font-size="26.2" textLength="16.4" lengthAdjust="spacingAndGlyphs" stroke="#000" stroke-width="0.2">μ</text>
<text class="S" x="532.6" y="535.2" font-size="29.9" font-weight="bold" textLength="16.3" lengthAdjust="spacingAndGlyphs" stroke="#000" stroke-width="0.7">M</text>
<path fill="#333" d="M410 775h2.6v2.6h-2.6zM412.5 655h2.6v2.6h-2.6zM412.5 690h2.6v2.6h-2.6zM412.5 740h2.6v2.6h-2.6zM412.5 745h2.6v2.6h-2.6zM412.5 750h2.6v2.6h-2.6zM412.5 760h2.6v2.6h-2.6zM412.5 762.5h2.6v2.6h-2.6zM412.5 767.5h2.6v2.6h-2.6zM412.5 770h2.6v2.6h-2.6zM412.5 772.5h2.6v2.6h-2.6zM415 765h2.6v2.6h-2.6zM415 767.5h2.6v2.6h-2.6zM415 770h2.6v2.6h-2.6zM415 780h2.6v2.6h-2.6zM415 782.5h2.6v2.6h-2.6zM417.5 647.5h2.6v2.6h-2.6zM417.5 715h2.6v2.6h-2.6zM417.5 740h2.6v2.6h-2.6zM417.5 747.5h2.6v2.6h-2.6zM417.5 757.5h2.6v2.6h-2.6zM417.5 762.5h2.6v2.6h-2.6zM417.5 772.5h2.6v2.6h-2.6zM417.5 780h2.6v2.6h-2.6zM417.5 782.5h2.6v2.6h-2.6zM420 685h2.6v2.6h-2.6zM420 750h2.6v2.6h-2.6zM420 752.5h2.6v2.6h-2.6zM420 755h2.6v2.6h-2.6zM420 762.5h2.6v2.6h-2.6zM420 765h2.6v2.6h-2.6zM420 770h2.6v2.6h-2.6zM420 775h2.6v2.6h-2.6zM420 777.5h2.6v2.6h-2.6zM420 780h2.6v2.6h-2.6zM420 782.5h2.6v2.6h-2.6zM422.5 647.5h2.6v2.6h-2.6zM422.5 720h2.6v2.6h-2.6zM422.5 745h2.6v2.6h-2.6zM422.5 750h2.6v2.6h-2.6zM422.5 752.5h2.6v2.6h-2.6zM422.5 760h2.6v2.6h-2.6zM422.5 770h2.6v2.6h-2.6zM422.5 772.5h2.6v2.6h-2.6zM422.5 777.5h2.6v2.6h-2.6zM422.5 780h2.6v2.6h-2.6zM422.5 782.5h2.6v2.6h-2.6zM425 730h2.6v2.6h-2.6zM425 745h2.6v2.6h-2.6zM425 752.5h2.6v2.6h-2.6zM425 755h2.6v2.6h-2.6zM425 762.5h2.6v2.6h-2.6zM425 765h2.6v2.6h-2.6zM425 767.5h2.6v2.6h-2.6zM425 770h2.6v2.6h-2.6zM425 772.5h2.6v2.6h-2.6zM425 775h2.6v2.6h-2.6zM425 777.5h2.6v2.6h-2.6zM425 780h2.6v2.6h-2.6zM425 782.5h2.6v2.6h-2.6zM427.5 667.5h2.6v2.6h-2.6zM427.5 672.5h2.6v2.6h-2.6zM427.5 747.5h2.6v2.6h-2.6zM427.5 752.5h2.6v2.6h-2.6zM427.5 760h2.6v2.6h-2.6zM427.5 762.5h2.6v2.6h-2.6zM427.5 765h2.6v2.6h-2.6zM427.5 767.5h2.6v2.6h-2.6zM427.5 770h2.6v2.6h-2.6zM427.5 772.5h2.6v2.6h-2.6zM427.5 775h2.6v2.6h-2.6zM427.5 777.5h2.6v2.6h-2.6zM427.5 780h2.6v2.6h-2.6zM427.5 782.5h2.6v2.6h-2.6zM430 660h2.6v2.6h-2.6zM430 687.5h2.6v2.6h-2.6zM430 727.5h2.6v2.6h-2.6zM430 737.5h2.6v2.6h-2.6zM430 742.5h2.6v2.6h-2.6zM430 747.5h2.6v2.6h-2.6zM430 750h2.6v2.6h-2.6zM430 752.5h2.6v2.6h-2.6zM430 755h2.6v2.6h-2.6zM430 757.5h2.6v2.6h-2.6zM430 762.5h2.6v2.6h-2.6zM430 765h2.6v2.6h-2.6zM430 767.5h2.6v2.6h-2.6zM430 770h2.6v2.6h-2.6zM430 772.5h2.6v2.6h-2.6zM430 775h2.6v2.6h-2.6zM430 777.5h2.6v2.6h-2.6zM430 780h2.6v2.6h-2.6zM432.5 712.5h2.6v2.6h-2.6zM432.5 720h2.6v2.6h-2.6zM432.5 740h2.6v2.6h-2.6zM432.5 747.5h2.6v2.6h-2.6zM432.5 750h2.6v2.6h-2.6zM432.5 752.5h2.6v2.6h-2.6zM432.5 757.5h2.6v2.6h-2.6zM432.5 760h2.6v2.6h-2.6zM432.5 762.5h2.6v2.6h-2.6zM432.5 765h2.6v2.6h-2.6zM432.5 767.5h2.6v2.6h-2.6zM432.5 770h2.6v2.6h-2.6zM432.5 772.5h2.6v2.6h-2.6zM432.5 775h2.6v2.6h-2.6zM432.5 777.5h2.6v2.6h-2.6zM432.5 780h2.6v2.6h-2.6zM432.5 782.5h2.6v2.6h-2.6zM435 705h2.6v2.6h-2.6zM435 732.5h2.6v2.6h-2.6zM435 742.5h2.6v2.6h-2.6zM435 750h2.6v2.6h-2.6zM435 755h2.6v2.6h-2.6zM435 757.5h2.6v2.6h-2.6zM435 760h2.6v2.6h-2.6zM435 762.5h2.6v2.6h-2.6zM435 765h2.6v2.6h-2.6zM435 767.5h2.6v2.6h-2.6zM435 770h2.6v2.6h-2.6zM435 772.5h2.6v2.6h-2.6zM435 775h2.6v2.6h-2.6zM435 777.5h2.6v2.6h-2.6zM435 780h2.6v2.6h-2.6zM435 782.5h2.6v2.6h-2.6zM437.5 695h2.6v2.6h-2.6zM437.5 710h2.6v2.6h-2.6zM437.5 735h2.6v2.6h-2.6zM437.5 745h2.6v2.6h-2.6zM437.5 747.5h2.6v2.6h-2.6zM437.5 750h2.6v2.6h-2.6zM437.5 752.5h2.6v2.6h-2.6zM437.5 755h2.6v2.6h-2.6zM437.5 757.5h2.6v2.6h-2.6zM437.5 760h2.6v2.6h-2.6zM437.5 762.5h2.6v2.6h-2.6zM437.5 765h2.6v2.6h-2.6zM437.5 767.5h2.6v2.6h-2.6zM437.5 770h2.6v2.6h-2.6zM437.5 772.5h2.6v2.6h-2.6zM437.5 777.5h2.6v2.6h-2.6zM437.5 780h2.6v2.6h-2.6zM437.5 782.5h2.6v2.6h-2.6zM440 685h2.6v2.6h-2.6zM440 712.5h2.6v2.6h-2.6zM440 725h2.6v2.6h-2.6zM440 735h2.6v2.6h-2.6zM440 745h2.6v2.6h-2.6zM440 747.5h2.6v2.6h-2.6zM440 750h2.6v2.6h-2.6zM440 755h2.6v2.6h-2.6zM440 757.5h2.6v2.6h-2.6zM440 760h2.6v2.6h-2.6zM440 762.5h2.6v2.6h-2.6zM440 765h2.6v2.6h-2.6zM440 767.5h2.6v2.6h-2.6zM440 770h2.6v2.6h-2.6zM440 772.5h2.6v2.6h-2.6zM440 775h2.6v2.6h-2.6zM440 777.5h2.6v2.6h-2.6zM440 780h2.6v2.6h-2.6zM440 782.5h2.6v2.6h-2.6zM442.5 647.5h2.6v2.6h-2.6zM442.5 700h2.6v2.6h-2.6zM442.5 722.5h2.6v2.6h-2.6zM442.5 730h2.6v2.6h-2.6zM442.5 737.5h2.6v2.6h-2.6zM442.5 740h2.6v2.6h-2.6zM442.5 742.5h2.6v2.6h-2.6zM442.5 745h2.6v2.6h-2.6zM442.5 747.5h2.6v2.6h-2.6zM442.5 750h2.6v2.6h-2.6zM442.5 752.5h2.6v2.6h-2.6zM442.5 755h2.6v2.6h-2.6zM442.5 757.5h2.6v2.6h-2.6zM442.5 760h2.6v2.6h-2.6zM442.5 762.5h2.6v2.6h-2.6zM442.5 765h2.6v2.6h-2.6zM442.5 767.5h2.6v2.6h-2.6zM442.5 770h2.6v2.6h-2.6zM442.5 775h2.6v2.6h-2.6zM445 650h2.6v2.6h-2.6zM445 670h2.6v2.6h-2.6zM445 685h2.6v2.6h-2.6zM445 690h2.6v2.6h-2.6zM445 715h2.6v2.6h-2.6zM445 730h2.6v2.6h-2.6zM445 732.5h2.6v2.6h-2.6zM445 735h2.6v2.6h-2.6zM445 737.5h2.6v2.6h-2.6zM445 740h2.6v2.6h-2.6zM445 742.5h2.6v2.6h-2.6zM445 745h2.6v2.6h-2.6zM445 747.5h2.6v2.6h-2.6zM445 750h2.6v2.6h-2.6zM445 752.5h2.6v2.6h-2.6zM445 755h2.6v2.6h-2.6zM445 757.5h2.6v2.6h-2.6zM445 760h2.6v2.6h-2.6zM445 762.5h2.6v2.6h-2.6zM445 765h2.6v2.6h-2.6zM445 767.5h2.6v2.6h-2.6zM445 770h2.6v2.6h-2.6zM445 772.5h2.6v2.6h-2.6zM445 775h2.6v2.6h-2.6zM445 777.5h2.6v2.6h-2.6zM445 780h2.6v2.6h-2.6zM447.5 702.5h2.6v2.6h-2.6zM447.5 712.5h2.6v2.6h-2.6zM447.5 720h2.6v2.6h-2.6zM447.5 725h2.6v2.6h-2.6zM447.5 727.5h2.6v2.6h-2.6zM447.5 730h2.6v2.6h-2.6zM447.5 735h2.6v2.6h-2.6zM447.5 737.5h2.6v2.6h-2.6zM447.5 740h2.6v2.6h-2.6zM447.5 745h2.6v2.6h-2.6zM447.5 747.5h2.6v2.6h-2.6zM447.5 750h2.6v2.6h-2.6zM447.5 752.5h2.6v2.6h-2.6zM447.5 755h2.6v2.6h-2.6zM447.5 757.5h2.6v2.6h-2.6zM447.5 760h2.6v2.6h-2.6zM447.5 762.5h2.6v2.6h-2.6zM447.5 765h2.6v2.6h-2.6zM447.5 767.5h2.6v2.6h-2.6zM447.5 770h2.6v2.6h-2.6zM447.5 772.5h2.6v2.6h-2.6zM447.5 775h2.6v2.6h-2.6zM447.5 777.5h2.6v2.6h-2.6zM447.5 780h2.6v2.6h-2.6zM447.5 782.5h2.6v2.6h-2.6zM450 667.5h2.6v2.6h-2.6zM450 677.5h2.6v2.6h-2.6zM450 700h2.6v2.6h-2.6zM450 730h2.6v2.6h-2.6zM450 732.5h2.6v2.6h-2.6zM450 735h2.6v2.6h-2.6zM450 740h2.6v2.6h-2.6zM450 742.5h2.6v2.6h-2.6zM450 745h2.6v2.6h-2.6zM450 747.5h2.6v2.6h-2.6zM450 750h2.6v2.6h-2.6zM450 752.5h2.6v2.6h-2.6zM450 755h2.6v2.6h-2.6zM450 757.5h2.6v2.6h-2.6zM450 760h2.6v2.6h-2.6zM450 762.5h2.6v2.6h-2.6zM450 765h2.6v2.6h-2.6zM450 767.5h2.6v2.6h-2.6zM450 770h2.6v2.6h-2.6zM450 775h2.6v2.6h-2.6zM450 777.5h2.6v2.6h-2.6zM450 780h2.6v2.6h-2.6zM452.5 650h2.6v2.6h-2.6zM452.5 692.5h2.6v2.6h-2.6zM452.5 697.5h2.6v2.6h-2.6zM452.5 727.5h2.6v2.6h-2.6zM452.5 737.5h2.6v2.6h-2.6zM452.5 742.5h2.6v2.6h-2.6zM452.5 745h2.6v2.6h-2.6zM452.5 747.5h2.6v2.6h-2.6zM452.5 750h2.6v2.6h-2.6zM452.5 752.5h2.6v2.6h-2.6zM452.5 755h2.6v2.6h-2.6zM452.5 757.5h2.6v2.6h-2.6zM452.5 760h2.6v2.6h-2.6zM452.5 762.5h2.6v2.6h-2.6zM452.5 765h2.6v2.6h-2.6zM452.5 767.5h2.6v2.6h-2.6zM452.5 770h2.6v2.6h-2.6zM452.5 772.5h2.6v2.6h-2.6zM452.5 775h2.6v2.6h-2.6zM452.5 777.5h2.6v2.6h-2.6zM452.5 780h2.6v2.6h-2.6zM455 670h2.6v2.6h-2.6zM455 695h2.6v2.6h-2.6zM455 702.5h2.6v2.6h-2.6zM455 715h2.6v2.6h-2.6zM455 717.5h2.6v2.6h-2.6zM455 720h2.6v2.6h-2.6zM455 727.5h2.6v2.6h-2.6zM455 732.5h2.6v2.6h-2.6zM455 735h2.6v2.6h-2.6zM455 737.5h2.6v2.6h-2.6zM455 740h2.6v2.6h-2.6zM455 742.5h2.6v2.6h-2.6zM455 745h2.6v2.6h-2.6zM455 747.5h2.6v2.6h-2.6zM455 750h2.6v2.6h-2.6zM455 752.5h2.6v2.6h-2.6zM455 755h2.6v2.6h-2.6zM455 757.5h2.6v2.6h-2.6zM455 760h2.6v2.6h-2.6zM455 762.5h2.6v2.6h-2.6zM455 765h2.6v2.6h-2.6zM455 767.5h2.6v2.6h-2.6zM455 770h2.6v2.6h-2.6zM455 772.5h2.6v2.6h-2.6zM455 775h2.6v2.6h-2.6zM455 777.5h2.6v2.6h-2.6zM457.5 672.5h2.6v2.6h-2.6zM457.5 675h2.6v2.6h-2.6zM457.5 697.5h2.6v2.6h-2.6zM457.5 702.5h2.6v2.6h-2.6zM457.5 707.5h2.6v2.6h-2.6zM457.5 725h2.6v2.6h-2.6zM457.5 732.5h2.6v2.6h-2.6zM457.5 735h2.6v2.6h-2.6zM457.5 737.5h2.6v2.6h-2.6zM457.5 740h2.6v2.6h-2.6zM457.5 742.5h2.6v2.6h-2.6zM457.5 745h2.6v2.6h-2.6zM457.5 747.5h2.6v2.6h-2.6zM457.5 750h2.6v2.6h-2.6zM457.5 752.5h2.6v2.6h-2.6zM457.5 755h2.6v2.6h-2.6zM457.5 757.5h2.6v2.6h-2.6zM457.5 760h2.6v2.6h-2.6zM457.5 762.5h2.6v2.6h-2.6zM457.5 765h2.6v2.6h-2.6zM457.5 767.5h2.6v2.6h-2.6zM457.5 770h2.6v2.6h-2.6zM457.5 772.5h2.6v2.6h-2.6zM460 680h2.6v2.6h-2.6zM460 702.5h2.6v2.6h-2.6zM460 712.5h2.6v2.6h-2.6zM460 717.5h2.6v2.6h-2.6zM460 725h2.6v2.6h-2.6zM460 727.5h2.6v2.6h-2.6zM460 730h2.6v2.6h-2.6zM460 732.5h2.6v2.6h-2.6zM460 735h2.6v2.6h-2.6zM460 737.5h2.6v2.6h-2.6zM460 742.5h2.6v2.6h-2.6zM460 745h2.6v2.6h-2.6zM460 747.5h2.6v2.6h-2.6zM460 750h2.6v2.6h-2.6zM460 752.5h2.6v2.6h-2.6zM460 755h2.6v2.6h-2.6zM460 757.5h2.6v2.6h-2.6zM460 760h2.6v2.6h-2.6zM460 762.5h2.6v2.6h-2.6zM460 765h2.6v2.6h-2.6zM460 767.5h2.6v2.6h-2.6zM460 770h2.6v2.6h-2.6zM460 772.5h2.6v2.6h-2.6zM460 777.5h2.6v2.6h-2.6zM460 780h2.6v2.6h-2.6zM462.5 702.5h2.6v2.6h-2.6zM462.5 705h2.6v2.6h-2.6zM462.5 722.5h2.6v2.6h-2.6zM462.5 725h2.6v2.6h-2.6zM462.5 730h2.6v2.6h-2.6zM462.5 735h2.6v2.6h-2.6zM462.5 737.5h2.6v2.6h-2.6zM462.5 740h2.6v2.6h-2.6zM462.5 742.5h2.6v2.6h-2.6zM462.5 745h2.6v2.6h-2.6zM462.5 747.5h2.6v2.6h-2.6zM462.5 750h2.6v2.6h-2.6zM462.5 752.5h2.6v2.6h-2.6zM462.5 755h2.6v2.6h-2.6zM462.5 757.5h2.6v2.6h-2.6zM462.5 760h2.6v2.6h-2.6zM462.5 762.5h2.6v2.6h-2.6zM462.5 765h2.6v2.6h-2.6zM462.5 767.5h2.6v2.6h-2.6zM462.5 770h2.6v2.6h-2.6zM462.5 775h2.6v2.6h-2.6zM462.5 777.5h2.6v2.6h-2.6zM462.5 780h2.6v2.6h-2.6zM465 677.5h2.6v2.6h-2.6zM465 707.5h2.6v2.6h-2.6zM465 712.5h2.6v2.6h-2.6zM465 717.5h2.6v2.6h-2.6zM465 725h2.6v2.6h-2.6zM465 727.5h2.6v2.6h-2.6zM465 732.5h2.6v2.6h-2.6zM465 735h2.6v2.6h-2.6zM465 737.5h2.6v2.6h-2.6zM465 740h2.6v2.6h-2.6zM465 742.5h2.6v2.6h-2.6zM465 747.5h2.6v2.6h-2.6zM465 750h2.6v2.6h-2.6zM465 752.5h2.6v2.6h-2.6zM465 755h2.6v2.6h-2.6zM465 757.5h2.6v2.6h-2.6zM465 765h2.6v2.6h-2.6zM465 770h2.6v2.6h-2.6zM465 775h2.6v2.6h-2.6zM467.5 682.5h2.6v2.6h-2.6zM467.5 710h2.6v2.6h-2.6zM467.5 717.5h2.6v2.6h-2.6zM467.5 722.5h2.6v2.6h-2.6zM467.5 727.5h2.6v2.6h-2.6zM467.5 730h2.6v2.6h-2.6zM467.5 732.5h2.6v2.6h-2.6zM467.5 737.5h2.6v2.6h-2.6zM467.5 740h2.6v2.6h-2.6zM467.5 742.5h2.6v2.6h-2.6zM467.5 745h2.6v2.6h-2.6zM467.5 747.5h2.6v2.6h-2.6zM467.5 750h2.6v2.6h-2.6zM467.5 755h2.6v2.6h-2.6zM467.5 757.5h2.6v2.6h-2.6zM467.5 760h2.6v2.6h-2.6zM467.5 762.5h2.6v2.6h-2.6zM467.5 770h2.6v2.6h-2.6zM467.5 772.5h2.6v2.6h-2.6zM467.5 775h2.6v2.6h-2.6zM467.5 782.5h2.6v2.6h-2.6zM470 690h2.6v2.6h-2.6zM470 707.5h2.6v2.6h-2.6zM470 715h2.6v2.6h-2.6zM470 725h2.6v2.6h-2.6zM470 730h2.6v2.6h-2.6zM470 732.5h2.6v2.6h-2.6zM470 735h2.6v2.6h-2.6zM470 737.5h2.6v2.6h-2.6zM470 740h2.6v2.6h-2.6zM470 742.5h2.6v2.6h-2.6zM470 745h2.6v2.6h-2.6zM470 747.5h2.6v2.6h-2.6zM470 750h2.6v2.6h-2.6zM470 752.5h2.6v2.6h-2.6zM470 755h2.6v2.6h-2.6zM470 757.5h2.6v2.6h-2.6zM470 760h2.6v2.6h-2.6zM470 762.5h2.6v2.6h-2.6zM470 765h2.6v2.6h-2.6zM470 775h2.6v2.6h-2.6zM472.5 690h2.6v2.6h-2.6zM472.5 717.5h2.6v2.6h-2.6zM472.5 720h2.6v2.6h-2.6zM472.5 722.5h2.6v2.6h-2.6zM472.5 725h2.6v2.6h-2.6zM472.5 730h2.6v2.6h-2.6zM472.5 732.5h2.6v2.6h-2.6zM472.5 735h2.6v2.6h-2.6zM472.5 737.5h2.6v2.6h-2.6zM472.5 740h2.6v2.6h-2.6zM472.5 742.5h2.6v2.6h-2.6zM472.5 745h2.6v2.6h-2.6zM472.5 747.5h2.6v2.6h-2.6zM472.5 752.5h2.6v2.6h-2.6zM472.5 757.5h2.6v2.6h-2.6zM475 697.5h2.6v2.6h-2.6zM475 700h2.6v2.6h-2.6zM475 710h2.6v2.6h-2.6zM475 712.5h2.6v2.6h-2.6zM475 715h2.6v2.6h-2.6zM475 717.5h2.6v2.6h-2.6zM475 720h2.6v2.6h-2.6zM475 727.5h2.6v2.6h-2.6zM475 730h2.6v2.6h-2.6zM475 732.5h2.6v2.6h-2.6zM475 735h2.6v2.6h-2.6zM475 737.5h2.6v2.6h-2.6zM475 740h2.6v2.6h-2.6zM475 745h2.6v2.6h-2.6zM475 747.5h2.6v2.6h-2.6zM475 750h2.6v2.6h-2.6zM475 752.5h2.6v2.6h-2.6zM475 760h2.6v2.6h-2.6zM475 767.5h2.6v2.6h-2.6zM475 775h2.6v2.6h-2.6zM477.5 667.5h2.6v2.6h-2.6zM477.5 675h2.6v2.6h-2.6zM477.5 687.5h2.6v2.6h-2.6zM477.5 710h2.6v2.6h-2.6zM477.5 712.5h2.6v2.6h-2.6zM477.5 717.5h2.6v2.6h-2.6zM477.5 730h2.6v2.6h-2.6zM477.5 735h2.6v2.6h-2.6zM477.5 745h2.6v2.6h-2.6zM477.5 747.5h2.6v2.6h-2.6zM477.5 752.5h2.6v2.6h-2.6zM477.5 755h2.6v2.6h-2.6zM477.5 757.5h2.6v2.6h-2.6zM477.5 760h2.6v2.6h-2.6zM477.5 765h2.6v2.6h-2.6zM477.5 770h2.6v2.6h-2.6zM477.5 777.5h2.6v2.6h-2.6zM480 675h2.6v2.6h-2.6zM480 685h2.6v2.6h-2.6zM480 697.5h2.6v2.6h-2.6zM480 710h2.6v2.6h-2.6zM480 712.5h2.6v2.6h-2.6zM480 715h2.6v2.6h-2.6zM480 720h2.6v2.6h-2.6zM480 722.5h2.6v2.6h-2.6zM480 725h2.6v2.6h-2.6zM480 727.5h2.6v2.6h-2.6zM480 732.5h2.6v2.6h-2.6zM480 735h2.6v2.6h-2.6zM480 737.5h2.6v2.6h-2.6zM480 740h2.6v2.6h-2.6zM480 742.5h2.6v2.6h-2.6zM480 745h2.6v2.6h-2.6zM480 747.5h2.6v2.6h-2.6zM480 755h2.6v2.6h-2.6zM480 757.5h2.6v2.6h-2.6zM480 767.5h2.6v2.6h-2.6zM480 780h2.6v2.6h-2.6zM482.5 655h2.6v2.6h-2.6zM482.5 675h2.6v2.6h-2.6zM482.5 685h2.6v2.6h-2.6zM482.5 700h2.6v2.6h-2.6zM482.5 710h2.6v2.6h-2.6zM482.5 715h2.6v2.6h-2.6zM482.5 722.5h2.6v2.6h-2.6zM482.5 725h2.6v2.6h-2.6zM482.5 727.5h2.6v2.6h-2.6zM482.5 732.5h2.6v2.6h-2.6zM482.5 735h2.6v2.6h-2.6zM482.5 737.5h2.6v2.6h-2.6zM482.5 742.5h2.6v2.6h-2.6zM482.5 745h2.6v2.6h-2.6zM482.5 747.5h2.6v2.6h-2.6zM482.5 752.5h2.6v2.6h-2.6zM482.5 760h2.6v2.6h-2.6zM482.5 770h2.6v2.6h-2.6zM482.5 772.5h2.6v2.6h-2.6zM485 692.5h2.6v2.6h-2.6zM485 697.5h2.6v2.6h-2.6zM485 712.5h2.6v2.6h-2.6zM485 715h2.6v2.6h-2.6zM485 720h2.6v2.6h-2.6zM485 725h2.6v2.6h-2.6zM485 730h2.6v2.6h-2.6zM485 732.5h2.6v2.6h-2.6zM485 737.5h2.6v2.6h-2.6zM485 740h2.6v2.6h-2.6zM485 742.5h2.6v2.6h-2.6zM485 745h2.6v2.6h-2.6zM485 747.5h2.6v2.6h-2.6zM485 750h2.6v2.6h-2.6zM485 752.5h2.6v2.6h-2.6zM485 767.5h2.6v2.6h-2.6zM487.5 690h2.6v2.6h-2.6zM487.5 697.5h2.6v2.6h-2.6zM487.5 715h2.6v2.6h-2.6zM487.5 717.5h2.6v2.6h-2.6zM487.5 720h2.6v2.6h-2.6zM487.5 730h2.6v2.6h-2.6zM487.5 735h2.6v2.6h-2.6zM487.5 755h2.6v2.6h-2.6zM487.5 757.5h2.6v2.6h-2.6zM487.5 762.5h2.6v2.6h-2.6zM487.5 772.5h2.6v2.6h-2.6zM490 697.5h2.6v2.6h-2.6zM490 700h2.6v2.6h-2.6zM490 705h2.6v2.6h-2.6zM490 717.5h2.6v2.6h-2.6zM490 725h2.6v2.6h-2.6zM490 732.5h2.6v2.6h-2.6zM490 735h2.6v2.6h-2.6zM490 740h2.6v2.6h-2.6zM490 755h2.6v2.6h-2.6zM490 767.5h2.6v2.6h-2.6zM492.5 665h2.6v2.6h-2.6zM492.5 667.5h2.6v2.6h-2.6zM492.5 707.5h2.6v2.6h-2.6zM492.5 717.5h2.6v2.6h-2.6zM492.5 720h2.6v2.6h-2.6zM492.5 727.5h2.6v2.6h-2.6zM492.5 742.5h2.6v2.6h-2.6zM492.5 752.5h2.6v2.6h-2.6zM492.5 762.5h2.6v2.6h-2.6zM495 695h2.6v2.6h-2.6zM495 705h2.6v2.6h-2.6zM495 725h2.6v2.6h-2.6zM495 742.5h2.6v2.6h-2.6zM495 775h2.6v2.6h-2.6zM497.5 685h2.6v2.6h-2.6zM497.5 692.5h2.6v2.6h-2.6zM497.5 697.5h2.6v2.6h-2.6zM497.5 727.5h2.6v2.6h-2.6zM497.5 780h2.6v2.6h-2.6zM500 665h2.6v2.6h-2.6zM500 702.5h2.6v2.6h-2.6zM500 717.5h2.6v2.6h-2.6zM500 730h2.6v2.6h-2.6zM500 742.5h2.6v2.6h-2.6zM500 750h2.6v2.6h-2.6zM502.5 697.5h2.6v2.6h-2.6zM502.5 732.5h2.6v2.6h-2.6zM502.5 755h2.6v2.6h-2.6zM502.5 777.5h2.6v2.6h-2.6zM505 695h2.6v2.6h-2.6zM505 735h2.6v2.6h-2.6zM505 740h2.6v2.6h-2.6zM505 752.5h2.6v2.6h-2.6zM505 777.5h2.6v2.6h-2.6zM507.5 695h2.6v2.6h-2.6zM510 717.5h2.6v2.6h-2.6zM512.5 642.5h2.6v2.6h-2.6zM512.5 730h2.6v2.6h-2.6zM512.5 760h2.6v2.6h-2.6zM512.5 782.5h2.6v2.6h-2.6zM515 705h2.6v2.6h-2.6zM515 710h2.6v2.6h-2.6zM515 717.5h2.6v2.6h-2.6zM515 750h2.6v2.6h-2.6zM517.5 722.5h2.6v2.6h-2.6zM520 755h2.6v2.6h-2.6zM522.5 742.5h2.6v2.6h-2.6zM522.5 757.5h2.6v2.6h-2.6zM522.5 765h2.6v2.6h-2.6zM525 707.5h2.6v2.6h-2.6zM525 715h2.6v2.6h-2.6zM525 742.5h2.6v2.6h-2.6zM527.5 700h2.6v2.6h-2.6zM530 780h2.6v2.6h-2.6zM532.5 740h2.6v2.6h-2.6zM535 697.5h2.6v2.6h-2.6zM535 747.5h2.6v2.6h-2.6zM537.5 705h2.6v2.6h-2.6zM550 710h2.6v2.6h-2.6zM550 750h2.6v2.6h-2.6zM552.5 720h2.6v2.6h-2.6zM552.5 727.5h2.6v2.6h-2.6zM552.5 747.5h2.6v2.6h-2.6zM552.5 780h2.6v2.6h-2.6zM555 732.5h2.6v2.6h-2.6zM555 757.5h2.6v2.6h-2.6zM557.5 762.5h2.6v2.6h-2.6zM557.5 770h2.6v2.6h-2.6zM562.5 725h2.6v2.6h-2.6zM562.5 735h2.6v2.6h-2.6zM562.5 750h2.6v2.6h-2.6zM562.5 780h2.6v2.6h-2.6zM565 747.5h2.6v2.6h-2.6zM567.5 742.5h2.6v2.6h-2.6zM570 752.5h2.6v2.6h-2.6z"/>
<path d="M409.6 568.6H661.6V785.8H409.6ZM503 568.6V785.8M409.6 700.5H661.6" stroke="#000" stroke-width="2.4" fill="none"/>
<path d="M411.6 785.8v9M409.6 785.8h-8.5M430.4 785.8v4.5M409.6 769.5h-4.5M441.4 785.8v4.5M409.6 759.9h-4.5M449.2 785.8v4.5M409.6 753.1h-4.5M455.3 785.8v4.5M409.6 747.8h-4.5M460.2 785.8v4.5M409.6 743.5h-4.5M464.4 785.8v4.5M409.6 739.9h-4.5M468 785.8v4.5M409.6 736.8h-4.5M471.2 785.8v4.5M409.6 734h-4.5M474.1 785.8v9M409.6 731.5h-8.5M492.9 785.8v4.5M409.6 715.2h-4.5M503.9 785.8v4.5M409.6 705.6h-4.5M511.7 785.8v4.5M409.6 698.8h-4.5M517.8 785.8v4.5M409.6 693.5h-4.5M522.7 785.8v4.5M409.6 689.2h-4.5M526.9 785.8v4.5M409.6 685.6h-4.5M530.5 785.8v4.5M409.6 682.5h-4.5M533.7 785.8v4.5M409.6 679.7h-4.5M536.6 785.8v9M409.6 677.2h-8.5M555.4 785.8v4.5M409.6 660.9h-4.5M566.4 785.8v4.5M409.6 651.3h-4.5M574.2 785.8v4.5M409.6 644.5h-4.5M580.3 785.8v4.5M409.6 639.2h-4.5M585.2 785.8v4.5M409.6 634.9h-4.5M589.4 785.8v4.5M409.6 631.3h-4.5M593 785.8v4.5M409.6 628.2h-4.5M596.2 785.8v4.5M409.6 625.4h-4.5M599.1 785.8v9M409.6 622.9h-8.5M617.9 785.8v4.5M409.6 606.6h-4.5M628.9 785.8v4.5M409.6 597h-4.5M636.7 785.8v4.5M409.6 590.2h-4.5M642.8 785.8v4.5M409.6 584.9h-4.5M647.7 785.8v4.5M409.6 580.6h-4.5M651.9 785.8v4.5M409.6 577h-4.5M655.5 785.8v4.5M409.6 573.9h-4.5M658.7 785.8v4.5M409.6 571.1h-4.5M661.6 785.8v9M409.6 568.6h-8.5" stroke="#000" stroke-width="2.4" fill="none"/>
<text class="S" x="398.1" y="816.5" font-size="19.4" font-weight="bold" textLength="17.5" lengthAdjust="spacingAndGlyphs">10</text>
<text class="S" x="415.2" y="806.7" font-size="22.3" textLength="11.6" lengthAdjust="spacingAndGlyphs">0</text>
<text class="S" x="460.6" y="816.5" font-size="19.4" font-weight="bold" textLength="17.5" lengthAdjust="spacingAndGlyphs">10</text>
<text class="S" x="476.8" y="806.9" font-size="22.9" textLength="12.8" lengthAdjust="spacingAndGlyphs">1</text>
<text class="S" x="523.1" y="816.5" font-size="19.4" font-weight="bold" textLength="17.5" lengthAdjust="spacingAndGlyphs">10</text>
<text class="S" x="539.9" y="806.9" font-size="22.6" textLength="12.2" lengthAdjust="spacingAndGlyphs">2</text>
<text class="S" x="585.6" y="816.5" font-size="19.4" font-weight="bold" textLength="17.5" lengthAdjust="spacingAndGlyphs">10</text>
<text class="S" x="602.7" y="806.7" font-size="22.3" textLength="11.7" lengthAdjust="spacingAndGlyphs">3</text>
<text class="S" x="648.1" y="816.5" font-size="19.4" font-weight="bold" textLength="17.5" lengthAdjust="spacingAndGlyphs">10</text>
<text class="S" x="665.6" y="806.9" font-size="22.9" textLength="11" lengthAdjust="spacingAndGlyphs">4</text>
<text class="S" transform="translate(0,797.6) rotate(-90)" x="-0.9" y="395.3" font-size="21.7" font-weight="bold" textLength="16.5" lengthAdjust="spacingAndGlyphs">10</text>
<text class="S" transform="translate(0,778.6) rotate(-90)" x="-0.8" y="384.2" font-size="19.7" textLength="11.6" lengthAdjust="spacingAndGlyphs">0</text>
<text class="S" transform="translate(0,743.3) rotate(-90)" x="-0.9" y="395.3" font-size="21.7" font-weight="bold" textLength="16.5" lengthAdjust="spacingAndGlyphs">10</text>
<text class="S" transform="translate(0,724.3) rotate(-90)" x="-1.7" y="384.4" font-size="20.3" textLength="12.8" lengthAdjust="spacingAndGlyphs">1</text>
<text class="S" transform="translate(0,689) rotate(-90)" x="-0.9" y="395.3" font-size="21.7" font-weight="bold" textLength="16.5" lengthAdjust="spacingAndGlyphs">10</text>
<text class="S" transform="translate(0,670) rotate(-90)" x="-1.1" y="384.4" font-size="20" textLength="12.2" lengthAdjust="spacingAndGlyphs">2</text>
<text class="S" transform="translate(0,634.7) rotate(-90)" x="-0.9" y="395.3" font-size="21.7" font-weight="bold" textLength="16.5" lengthAdjust="spacingAndGlyphs">10</text>
<text class="S" transform="translate(0,615.7) rotate(-90)" x="-0.8" y="384.2" font-size="19.7" textLength="11.7" lengthAdjust="spacingAndGlyphs">3</text>
<text class="S" transform="translate(0,580.4) rotate(-90)" x="-0.9" y="395.3" font-size="21.7" font-weight="bold" textLength="16.5" lengthAdjust="spacingAndGlyphs">10</text>
<text class="S" transform="translate(0,561.4) rotate(-90)" x="-0.4" y="384.4" font-size="20.3" textLength="11" lengthAdjust="spacingAndGlyphs">4</text>
<text class="S" transform="translate(0,686.5) rotate(-90)" x="-1.5" y="370.7" font-size="22.8" textLength="17.5" lengthAdjust="spacingAndGlyphs">PI</text>
<text class="M" x="485.4" y="837.4" font-size="16.7" textLength="129.1" lengthAdjust="spacingAndGlyphs" stroke="#000" stroke-width="0.35">Annexin V-FITC</text>
<text class="S" x="597.1" y="601.1" font-size="21.3" textLength="53.8" lengthAdjust="spacingAndGlyphs">0. 44%</text>
<text class="S" x="597.8" y="774.3" font-size="21.4" textLength="53.7" lengthAdjust="spacingAndGlyphs">2. 42%</text>
<text class="S" x="839.3" y="534.9" font-size="29" textLength="31.1" lengthAdjust="spacingAndGlyphs" stroke="#000" stroke-width="0.2">50</text>
<text class="S" x="893.6" y="534.1" font-size="26.2" textLength="17" lengthAdjust="spacingAndGlyphs" stroke="#000" stroke-width="0.2">μ</text>
<text class="S" x="916.2" y="535.2" font-size="29.9" font-weight="bold" textLength="16.1" lengthAdjust="spacingAndGlyphs" stroke="#000" stroke-width="0.7">M</text>
<path fill="#333" d="M767.5 642.5h2.6v2.6h-2.6zM767.5 645h2.6v2.6h-2.6zM767.5 652.5h2.6v2.6h-2.6zM767.5 662.5h2.6v2.6h-2.6zM767.5 732.5h2.6v2.6h-2.6zM767.5 782.5h2.6v2.6h-2.6zM770 637.5h2.6v2.6h-2.6zM770 640h2.6v2.6h-2.6zM770 647.5h2.6v2.6h-2.6zM770 652.5h2.6v2.6h-2.6zM770 655h2.6v2.6h-2.6zM770 660h2.6v2.6h-2.6zM770 665h2.6v2.6h-2.6zM772.5 645h2.6v2.6h-2.6zM772.5 647.5h2.6v2.6h-2.6zM772.5 650h2.6v2.6h-2.6zM772.5 652.5h2.6v2.6h-2.6zM772.5 662.5h2.6v2.6h-2.6zM772.5 727.5h2.6v2.6h-2.6zM772.5 767.5h2.6v2.6h-2.6zM775 665h2.6v2.6h-2.6zM775 670h2.6v2.6h-2.6zM775 732.5h2.6v2.6h-2.6zM775 745h2.6v2.6h-2.6zM775 770h2.6v2.6h-2.6zM775 785h2.6v2.6h-2.6zM777.5 647.5h2.6v2.6h-2.6zM777.5 650h2.6v2.6h-2.6zM777.5 655h2.6v2.6h-2.6zM777.5 662.5h2.6v2.6h-2.6zM777.5 667.5h2.6v2.6h-2.6zM777.5 722.5h2.6v2.6h-2.6zM777.5 727.5h2.6v2.6h-2.6zM777.5 737.5h2.6v2.6h-2.6zM777.5 747.5h2.6v2.6h-2.6zM777.5 757.5h2.6v2.6h-2.6zM777.5 760h2.6v2.6h-2.6zM777.5 767.5h2.6v2.6h-2.6zM777.5 777.5h2.6v2.6h-2.6zM777.5 782.5h2.6v2.6h-2.6zM777.5 785h2.6v2.6h-2.6zM780 655h2.6v2.6h-2.6zM780 660h2.6v2.6h-2.6zM780 662.5h2.6v2.6h-2.6zM780 670h2.6v2.6h-2.6zM780 760h2.6v2.6h-2.6zM780 762.5h2.6v2.6h-2.6zM780 772.5h2.6v2.6h-2.6zM782.5 627.5h2.6v2.6h-2.6zM782.5 650h2.6v2.6h-2.6zM782.5 657.5h2.6v2.6h-2.6zM782.5 660h2.6v2.6h-2.6zM782.5 720h2.6v2.6h-2.6zM782.5 735h2.6v2.6h-2.6zM782.5 752.5h2.6v2.6h-2.6zM782.5 757.5h2.6v2.6h-2.6zM782.5 770h2.6v2.6h-2.6zM782.5 772.5h2.6v2.6h-2.6zM782.5 782.5h2.6v2.6h-2.6zM785 632.5h2.6v2.6h-2.6zM785 647.5h2.6v2.6h-2.6zM785 650h2.6v2.6h-2.6zM785 660h2.6v2.6h-2.6zM785 662.5h2.6v2.6h-2.6zM785 732.5h2.6v2.6h-2.6zM785 755h2.6v2.6h-2.6zM785 770h2.6v2.6h-2.6zM785 775h2.6v2.6h-2.6zM787.5 647.5h2.6v2.6h-2.6zM787.5 650h2.6v2.6h-2.6zM787.5 652.5h2.6v2.6h-2.6zM787.5 657.5h2.6v2.6h-2.6zM787.5 730h2.6v2.6h-2.6zM787.5 750h2.6v2.6h-2.6zM787.5 760h2.6v2.6h-2.6zM787.5 765h2.6v2.6h-2.6zM787.5 770h2.6v2.6h-2.6zM787.5 772.5h2.6v2.6h-2.6zM787.5 777.5h2.6v2.6h-2.6zM787.5 780h2.6v2.6h-2.6zM790 645h2.6v2.6h-2.6zM790 660h2.6v2.6h-2.6zM790 722.5h2.6v2.6h-2.6zM790 770h2.6v2.6h-2.6zM790 775h2.6v2.6h-2.6zM790 777.5h2.6v2.6h-2.6zM790 785h2.6v2.6h-2.6zM792.5 640h2.6v2.6h-2.6zM792.5 647.5h2.6v2.6h-2.6zM792.5 650h2.6v2.6h-2.6zM792.5 652.5h2.6v2.6h-2.6zM792.5 657.5h2.6v2.6h-2.6zM792.5 727.5h2.6v2.6h-2.6zM792.5 732.5h2.6v2.6h-2.6zM792.5 745h2.6v2.6h-2.6zM792.5 755h2.6v2.6h-2.6zM792.5 757.5h2.6v2.6h-2.6zM792.5 760h2.6v2.6h-2.6zM792.5 762.5h2.6v2.6h-2.6zM792.5 765h2.6v2.6h-2.6zM792.5 772.5h2.6v2.6h-2.6zM792.5 775h2.6v2.6h-2.6zM792.5 777.5h2.6v2.6h-2.6zM795 645h2.6v2.6h-2.6zM795 647.5h2.6v2.6h-2.6zM795 650h2.6v2.6h-2.6zM795 652.5h2.6v2.6h-2.6zM795 655h2.6v2.6h-2.6zM795 657.5h2.6v2.6h-2.6zM795 660h2.6v2.6h-2.6zM795 720h2.6v2.6h-2.6zM795 732.5h2.6v2.6h-2.6zM795 740h2.6v2.6h-2.6zM795 747.5h2.6v2.6h-2.6zM795 757.5h2.6v2.6h-2.6zM795 760h2.6v2.6h-2.6zM795 762.5h2.6v2.6h-2.6zM795 765h2.6v2.6h-2.6zM795 767.5h2.6v2.6h-2.6zM795 770h2.6v2.6h-2.6zM795 772.5h2.6v2.6h-2.6zM795 775h2.6v2.6h-2.6zM795 780h2.6v2.6h-2.6zM795 782.5h2.6v2.6h-2.6zM797.5 630h2.6v2.6h-2.6zM797.5 642.5h2.6v2.6h-2.6zM797.5 650h2.6v2.6h-2.6zM797.5 655h2.6v2.6h-2.6zM797.5 657.5h2.6v2.6h-2.6zM797.5 660h2.6v2.6h-2.6zM797.5 710h2.6v2.6h-2.6zM797.5 737.5h2.6v2.6h-2.6zM797.5 742.5h2.6v2.6h-2.6zM797.5 747.5h2.6v2.6h-2.6zM797.5 750h2.6v2.6h-2.6zM797.5 755h2.6v2.6h-2.6zM797.5 757.5h2.6v2.6h-2.6zM797.5 760h2.6v2.6h-2.6zM797.5 762.5h2.6v2.6h-2.6zM797.5 765h2.6v2.6h-2.6zM797.5 767.5h2.6v2.6h-2.6zM797.5 770h2.6v2.6h-2.6zM797.5 772.5h2.6v2.6h-2.6zM797.5 775h2.6v2.6h-2.6zM797.5 777.5h2.6v2.6h-2.6zM797.5 780h2.6v2.6h-2.6zM797.5 782.5h2.6v2.6h-2.6zM800 642.5h2.6v2.6h-2.6zM800 655h2.6v2.6h-2.6zM800 715h2.6v2.6h-2.6zM800 727.5h2.6v2.6h-2.6zM800 740h2.6v2.6h-2.6zM800 742.5h2.6v2.6h-2.6zM800 747.5h2.6v2.6h-2.6zM800 750h2.6v2.6h-2.6zM800 752.5h2.6v2.6h-2.6zM800 755h2.6v2.6h-2.6zM800 757.5h2.6v2.6h-2.6zM800 760h2.6v2.6h-2.6zM800 762.5h2.6v2.6h-2.6zM800 765h2.6v2.6h-2.6zM800 767.5h2.6v2.6h-2.6zM800 770h2.6v2.6h-2.6zM800 772.5h2.6v2.6h-2.6zM800 775h2.6v2.6h-2.6zM800 777.5h2.6v2.6h-2.6zM800 780h2.6v2.6h-2.6zM800 785h2.6v2.6h-2.6zM802.5 625h2.6v2.6h-2.6zM802.5 645h2.6v2.6h-2.6zM802.5 647.5h2.6v2.6h-2.6zM802.5 650h2.6v2.6h-2.6zM802.5 660h2.6v2.6h-2.6zM802.5 722.5h2.6v2.6h-2.6zM802.5 727.5h2.6v2.6h-2.6zM802.5 730h2.6v2.6h-2.6zM802.5 735h2.6v2.6h-2.6zM802.5 737.5h2.6v2.6h-2.6zM802.5 740h2.6v2.6h-2.6zM802.5 742.5h2.6v2.6h-2.6zM802.5 745h2.6v2.6h-2.6zM802.5 747.5h2.6v2.6h-2.6zM802.5 750h2.6v2.6h-2.6zM802.5 752.5h2.6v2.6h-2.6zM802.5 755h2.6v2.6h-2.6zM802.5 757.5h2.6v2.6h-2.6zM802.5 760h2.6v2.6h-2.6zM802.5 762.5h2.6v2.6h-2.6zM802.5 765h2.6v2.6h-2.6zM802.5 767.5h2.6v2.6h-2.6zM802.5 770h2.6v2.6h-2.6zM802.5 772.5h2.6v2.6h-2.6zM802.5 775h2.6v2.6h-2.6zM802.5 780h2.6v2.6h-2.6zM805 650h2.6v2.6h-2.6zM805 657.5h2.6v2.6h-2.6zM805 662.5h2.6v2.6h-2.6zM805 667.5h2.6v2.6h-2.6zM805 720h2.6v2.6h-2.6zM805 745h2.6v2.6h-2.6zM805 747.5h2.6v2.6h-2.6zM805 750h2.6v2.6h-2.6zM805 752.5h2.6v2.6h-2.6zM805 755h2.6v2.6h-2.6zM805 757.5h2.6v2.6h-2.6zM805 760h2.6v2.6h-2.6zM805 762.5h2.6v2.6h-2.6zM805 765h2.6v2.6h-2.6zM805 767.5h2.6v2.6h-2.6zM805 770h2.6v2.6h-2.6zM805 772.5h2.6v2.6h-2.6zM805 775h2.6v2.6h-2.6zM805 777.5h2.6v2.6h-2.6zM805 785h2.6v2.6h-2.6zM807.5 640h2.6v2.6h-2.6zM807.5 645h2.6v2.6h-2.6zM807.5 655h2.6v2.6h-2.6zM807.5 715h2.6v2.6h-2.6zM807.5 737.5h2.6v2.6h-2.6zM807.5 742.5h2.6v2.6h-2.6zM807.5 745h2.6v2.6h-2.6zM807.5 747.5h2.6v2.6h-2.6zM807.5 750h2.6v2.6h-2.6zM807.5 752.5h2.6v2.6h-2.6zM807.5 755h2.6v2.6h-2.6zM807.5 757.5h2.6v2.6h-2.6zM807.5 760h2.6v2.6h-2.6zM807.5 762.5h2.6v2.6h-2.6zM807.5 765h2.6v2.6h-2.6zM807.5 767.5h2.6v2.6h-2.6zM807.5 770h2.6v2.6h-2.6zM807.5 772.5h2.6v2.6h-2.6zM807.5 775h2.6v2.6h-2.6zM807.5 777.5h2.6v2.6h-2.6zM807.5 782.5h2.6v2.6h-2.6zM810 642.5h2.6v2.6h-2.6zM810 662.5h2.6v2.6h-2.6zM810 707.5h2.6v2.6h-2.6zM810 730h2.6v2.6h-2.6zM810 732.5h2.6v2.6h-2.6zM810 735h2.6v2.6h-2.6zM810 740h2.6v2.6h-2.6zM810 742.5h2.6v2.6h-2.6zM810 745h2.6v2.6h-2.6zM810 747.5h2.6v2.6h-2.6zM810 750h2.6v2.6h-2.6zM810 752.5h2.6v2.6h-2.6zM810 755h2.6v2.6h-2.6zM810 757.5h2.6v2.6h-2.6zM810 760h2.6v2.6h-2.6zM810 762.5h2.6v2.6h-2.6zM810 765h2.6v2.6h-2.6zM810 767.5h2.6v2.6h-2.6zM810 770h2.6v2.6h-2.6zM810 772.5h2.6v2.6h-2.6zM810 775h2.6v2.6h-2.6zM810 777.5h2.6v2.6h-2.6zM810 780h2.6v2.6h-2.6zM812.5 632.5h2.6v2.6h-2.6zM812.5 640h2.6v2.6h-2.6zM812.5 642.5h2.6v2.6h-2.6zM812.5 662.5h2.6v2.6h-2.6zM812.5 667.5h2.6v2.6h-2.6zM812.5 725h2.6v2.6h-2.6zM812.5 732.5h2.6v2.6h-2.6zM812.5 735h2.6v2.6h-2.6zM812.5 737.5h2.6v2.6h-2.6zM812.5 742.5h2.6v2.6h-2.6zM812.5 745h2.6v2.6h-2.6zM812.5 747.5h2.6v2.6h-2.6zM812.5 750h2.6v2.6h-2.6zM812.5 752.5h2.6v2.6h-2.6zM812.5 755h2.6v2.6h-2.6zM812.5 757.5h2.6v2.6h-2.6zM812.5 760h2.6v2.6h-2.6zM812.5 762.5h2.6v2.6h-2.6zM812.5 765h2.6v2.6h-2.6zM812.5 767.5h2.6v2.6h-2.6zM812.5 770h2.6v2.6h-2.6zM812.5 772.5h2.6v2.6h-2.6zM812.5 775h2.6v2.6h-2.6zM812.5 777.5h2.6v2.6h-2.6zM812.5 780h2.6v2.6h-2.6zM812.5 782.5h2.6v2.6h-2.6zM815 640h2.6v2.6h-2.6zM815 650h2.6v2.6h-2.6zM815 662.5h2.6v2.6h-2.6zM815 665h2.6v2.6h-2.6zM815 727.5h2.6v2.6h-2.6zM815 732.5h2.6v2.6h-2.6zM815 735h2.6v2.6h-2.6zM815 740h2.6v2.6h-2.6zM815 742.5h2.6v2.6h-2.6zM815 745h2.6v2.6h-2.6zM815 747.5h2.6v2.6h-2.6zM815 750h2.6v2.6h-2.6zM815 752.5h2.6v2.6h-2.6zM815 755h2.6v2.6h-2.6zM815 757.5h2.6v2.6h-2.6zM815 760h2.6v2.6h-2.6zM815 762.5h2.6v2.6h-2.6zM815 765h2.6v2.6h-2.6zM815 767.5h2.6v2.6h-2.6zM815 770h2.6v2.6h-2.6zM815 775h2.6v2.6h-2.6zM815 777.5h2.6v2.6h-2.6zM817.5 635h2.6v2.6h-2.6zM817.5 652.5h2.6v2.6h-2.6zM817.5 655h2.6v2.6h-2.6zM817.5 660h2.6v2.6h-2.6zM817.5 705h2.6v2.6h-2.6zM817.5 710h2.6v2.6h-2.6zM817.5 725h2.6v2.6h-2.6zM817.5 730h2.6v2.6h-2.6zM817.5 732.5h2.6v2.6h-2.6zM817.5 737.5h2.6v2.6h-2.6zM817.5 740h2.6v2.6h-2.6zM817.5 747.5h2.6v2.6h-2.6zM817.5 750h2.6v2.6h-2.6zM817.5 752.5h2.6v2.6h-2.6zM817.5 755h2.6v2.6h-2.6zM817.5 757.5h2.6v2.6h-2.6zM817.5 760h2.6v2.6h-2.6zM817.5 762.5h2.6v2.6h-2.6zM817.5 765h2.6v2.6h-2.6zM817.5 767.5h2.6v2.6h-2.6zM817.5 770h2.6v2.6h-2.6zM817.5 772.5h2.6v2.6h-2.6zM817.5 777.5h2.6v2.6h-2.6zM820 637.5h2.6v2.6h-2.6zM820 645h2.6v2.6h-2.6zM820 647.5h2.6v2.6h-2.6zM820 650h2.6v2.6h-2.6zM820 652.5h2.6v2.6h-2.6zM820 730h2.6v2.6h-2.6zM820 737.5h2.6v2.6h-2.6zM820 740h2.6v2.6h-2.6zM820 745h2.6v2.6h-2.6zM820 747.5h2.6v2.6h-2.6zM820 750h2.6v2.6h-2.6zM820 752.5h2.6v2.6h-2.6zM820 755h2.6v2.6h-2.6zM820 757.5h2.6v2.6h-2.6zM820 760h2.6v2.6h-2.6zM820 762.5h2.6v2.6h-2.6zM820 765h2.6v2.6h-2.6zM820 772.5h2.6v2.6h-2.6zM820 777.5h2.6v2.6h-2.6zM820 780h2.6v2.6h-2.6zM820 785h2.6v2.6h-2.6zM822.5 635h2.6v2.6h-2.6zM822.5 642.5h2.6v2.6h-2.6zM822.5 645h2.6v2.6h-2.6zM822.5 650h2.6v2.6h-2.6zM822.5 655h2.6v2.6h-2.6zM822.5 665h2.6v2.6h-2.6zM822.5 672.5h2.6v2.6h-2.6zM822.5 695h2.6v2.6h-2.6zM822.5 722.5h2.6v2.6h-2.6zM822.5 725h2.6v2.6h-2.6zM822.5 727.5h2.6v2.6h-2.6zM822.5 732.5h2.6v2.6h-2.6zM822.5 735h2.6v2.6h-2.6zM822.5 740h2.6v2.6h-2.6zM822.5 742.5h2.6v2.6h-2.6zM822.5 745h2.6v2.6h-2.6zM822.5 747.5h2.6v2.6h-2.6zM822.5 750h2.6v2.6h-2.6zM822.5 752.5h2.6v2.6h-2.6zM822.5 755h2.6v2.6h-2.6zM822.5 757.5h2.6v2.6h-2.6zM822.5 760h2.6v2.6h-2.6zM822.5 762.5h2.6v2.6h-2.6zM822.5 765h2.6v2.6h-2.6zM822.5 770h2.6v2.6h-2.6zM822.5 775h2.6v2.6h-2.6zM822.5 780h2.6v2.6h-2.6zM822.5 785h2.6v2.6h-2.6zM825 635h2.6v2.6h-2.6zM825 645h2.6v2.6h-2.6zM825 647.5h2.6v2.6h-2.6zM825 650h2.6v2.6h-2.6zM825 652.5h2.6v2.6h-2.6zM825 657.5h2.6v2.6h-2.6zM825 660h2.6v2.6h-2.6zM825 692.5h2.6v2.6h-2.6zM825 720h2.6v2.6h-2.6zM825 732.5h2.6v2.6h-2.6zM825 737.5h2.6v2.6h-2.6zM825 740h2.6v2.6h-2.6zM825 742.5h2.6v2.6h-2.6zM825 745h2.6v2.6h-2.6zM825 747.5h2.6v2.6h-2.6zM825 750h2.6v2.6h-2.6zM825 752.5h2.6v2.6h-2.6zM825 755h2.6v2.6h-2.6zM825 757.5h2.6v2.6h-2.6zM825 760h2.6v2.6h-2.6zM825 762.5h2.6v2.6h-2.6zM825 765h2.6v2.6h-2.6zM825 767.5h2.6v2.6h-2.6zM825 770h2.6v2.6h-2.6zM825 775h2.6v2.6h-2.6zM825 780h2.6v2.6h-2.6zM827.5 645h2.6v2.6h-2.6zM827.5 650h2.6v2.6h-2.6zM827.5 652.5h2.6v2.6h-2.6zM827.5 655h2.6v2.6h-2.6zM827.5 657.5h2.6v2.6h-2.6zM827.5 662.5h2.6v2.6h-2.6zM827.5 705h2.6v2.6h-2.6zM827.5 707.5h2.6v2.6h-2.6zM827.5 715h2.6v2.6h-2.6zM827.5 725h2.6v2.6h-2.6zM827.5 732.5h2.6v2.6h-2.6zM827.5 737.5h2.6v2.6h-2.6zM827.5 740h2.6v2.6h-2.6zM827.5 742.5h2.6v2.6h-2.6zM827.5 745h2.6v2.6h-2.6zM827.5 747.5h2.6v2.6h-2.6zM827.5 750h2.6v2.6h-2.6zM827.5 752.5h2.6v2.6h-2.6zM827.5 755h2.6v2.6h-2.6zM827.5 757.5h2.6v2.6h-2.6zM827.5 760h2.6v2.6h-2.6zM827.5 762.5h2.6v2.6h-2.6zM827.5 765h2.6v2.6h-2.6zM827.5 770h2.6v2.6h-2.6zM827.5 777.5h2.6v2.6h-2.6zM830 637.5h2.6v2.6h-2.6zM830 640h2.6v2.6h-2.6zM830 650h2.6v2.6h-2.6zM830 655h2.6v2.6h-2.6zM830 657.5h2.6v2.6h-2.6zM830 670h2.6v2.6h-2.6zM830 692.5h2.6v2.6h-2.6zM830 700h2.6v2.6h-2.6zM830 712.5h2.6v2.6h-2.6zM830 715h2.6v2.6h-2.6zM830 720h2.6v2.6h-2.6zM830 722.5h2.6v2.6h-2.6zM830 735h2.6v2.6h-2.6zM830 737.5h2.6v2.6h-2.6zM830 742.5h2.6v2.6h-2.6zM830 745h2.6v2.6h-2.6zM830 747.5h2.6v2.6h-2.6zM830 750h2.6v2.6h-2.6zM830 752.5h2.6v2.6h-2.6zM830 757.5h2.6v2.6h-2.6zM830 760h2.6v2.6h-2.6zM830 762.5h2.6v2.6h-2.6zM830 765h2.6v2.6h-2.6zM830 767.5h2.6v2.6h-2.6zM830 777.5h2.6v2.6h-2.6zM832.5 632.5h2.6v2.6h-2.6zM832.5 645h2.6v2.6h-2.6zM832.5 650h2.6v2.6h-2.6zM832.5 657.5h2.6v2.6h-2.6zM832.5 662.5h2.6v2.6h-2.6zM832.5 665h2.6v2.6h-2.6zM832.5 672.5h2.6v2.6h-2.6zM832.5 690h2.6v2.6h-2.6zM832.5 710h2.6v2.6h-2.6zM832.5 722.5h2.6v2.6h-2.6zM832.5 737.5h2.6v2.6h-2.6zM832.5 740h2.6v2.6h-2.6zM832.5 742.5h2.6v2.6h-2.6zM832.5 745h2.6v2.6h-2.6zM832.5 750h2.6v2.6h-2.6zM832.5 752.5h2.6v2.6h-2.6zM832.5 760h2.6v2.6h-2.6zM832.5 770h2.6v2.6h-2.6zM832.5 772.5h2.6v2.6h-2.6zM835 612.5h2.6v2.6h-2.6zM835 635h2.6v2.6h-2.6zM835 642.5h2.6v2.6h-2.6zM835 647.5h2.6v2.6h-2.6zM835 650h2.6v2.6h-2.6zM835 657.5h2.6v2.6h-2.6zM835 692.5h2.6v2.6h-2.6zM835 695h2.6v2.6h-2.6zM835 717.5h2.6v2.6h-2.6zM835 722.5h2.6v2.6h-2.6zM835 732.5h2.6v2.6h-2.6zM835 737.5h2.6v2.6h-2.6zM835 740h2.6v2.6h-2.6zM835 742.5h2.6v2.6h-2.6zM835 745h2.6v2.6h-2.6zM835 747.5h2.6v2.6h-2.6zM835 750h2.6v2.6h-2.6zM835 752.5h2.6v2.6h-2.6zM835 755h2.6v2.6h-2.6zM835 757.5h2.6v2.6h-2.6zM835 782.5h2.6v2.6h-2.6zM837.5 637.5h2.6v2.6h-2.6zM837.5 647.5h2.6v2.6h-2.6zM837.5 650h2.6v2.6h-2.6zM837.5 652.5h2.6v2.6h-2.6zM837.5 655h2.6v2.6h-2.6zM837.5 662.5h2.6v2.6h-2.6zM837.5 695h2.6v2.6h-2.6zM837.5 702.5h2.6v2.6h-2.6zM837.5 707.5h2.6v2.6h-2.6zM837.5 717.5h2.6v2.6h-2.6zM837.5 722.5h2.6v2.6h-2.6zM837.5 732.5h2.6v2.6h-2.6zM837.5 740h2.6v2.6h-2.6zM837.5 742.5h2.6v2.6h-2.6zM837.5 747.5h2.6v2.6h-2.6zM837.5 757.5h2.6v2.6h-2.6zM837.5 765h2.6v2.6h-2.6zM837.5 767.5h2.6v2.6h-2.6zM837.5 777.5h2.6v2.6h-2.6zM840 635h2.6v2.6h-2.6zM840 645h2.6v2.6h-2.6zM840 650h2.6v2.6h-2.6zM840 652.5h2.6v2.6h-2.6zM840 657.5h2.6v2.6h-2.6zM840 660h2.6v2.6h-2.6zM840 662.5h2.6v2.6h-2.6zM840 665h2.6v2.6h-2.6zM840 672.5h2.6v2.6h-2.6zM840 707.5h2.6v2.6h-2.6zM840 717.5h2.6v2.6h-2.6zM840 725h2.6v2.6h-2.6zM840 735h2.6v2.6h-2.6zM840 737.5h2.6v2.6h-2.6zM840 740h2.6v2.6h-2.6zM840 745h2.6v2.6h-2.6zM840 752.5h2.6v2.6h-2.6zM840 760h2.6v2.6h-2.6zM840 770h2.6v2.6h-2.6zM840 775h2.6v2.6h-2.6zM842.5 622.5h2.6v2.6h-2.6zM842.5 645h2.6v2.6h-2.6zM842.5 647.5h2.6v2.6h-2.6zM842.5 650h2.6v2.6h-2.6zM842.5 657.5h2.6v2.6h-2.6zM842.5 660h2.6v2.6h-2.6zM842.5 662.5h2.6v2.6h-2.6zM842.5 707.5h2.6v2.6h-2.6zM842.5 710h2.6v2.6h-2.6zM842.5 715h2.6v2.6h-2.6zM842.5 717.5h2.6v2.6h-2.6zM842.5 722.5h2.6v2.6h-2.6zM842.5 735h2.6v2.6h-2.6zM842.5 740h2.6v2.6h-2.6zM842.5 742.5h2.6v2.6h-2.6zM842.5 745h2.6v2.6h-2.6zM842.5 755h2.6v2.6h-2.6zM845 630h2.6v2.6h-2.6zM845 632.5h2.6v2.6h-2.6zM845 650h2.6v2.6h-2.6zM845 652.5h2.6v2.6h-2.6zM845 657.5h2.6v2.6h-2.6zM845 660h2.6v2.6h-2.6zM845 675h2.6v2.6h-2.6zM845 677.5h2.6v2.6h-2.6zM845 712.5h2.6v2.6h-2.6zM845 720h2.6v2.6h-2.6zM845 727.5h2.6v2.6h-2.6zM845 735h2.6v2.6h-2.6zM845 740h2.6v2.6h-2.6zM845 755h2.6v2.6h-2.6zM845 757.5h2.6v2.6h-2.6zM845 765h2.6v2.6h-2.6zM847.5 622.5h2.6v2.6h-2.6zM847.5 645h2.6v2.6h-2.6zM847.5 647.5h2.6v2.6h-2.6zM847.5 650h2.6v2.6h-2.6zM847.5 652.5h2.6v2.6h-2.6zM847.5 655h2.6v2.6h-2.6zM847.5 662.5h2.6v2.6h-2.6zM847.5 665h2.6v2.6h-2.6zM847.5 667.5h2.6v2.6h-2.6zM847.5 680h2.6v2.6h-2.6zM847.5 707.5h2.6v2.6h-2.6zM847.5 712.5h2.6v2.6h-2.6zM847.5 720h2.6v2.6h-2.6zM847.5 722.5h2.6v2.6h-2.6zM847.5 737.5h2.6v2.6h-2.6zM847.5 752.5h2.6v2.6h-2.6zM847.5 755h2.6v2.6h-2.6zM847.5 762.5h2.6v2.6h-2.6zM850 642.5h2.6v2.6h-2.6zM850 645h2.6v2.6h-2.6zM850 655h2.6v2.6h-2.6zM850 665h2.6v2.6h-2.6zM850 697.5h2.6v2.6h-2.6zM850 735h2.6v2.6h-2.6zM850 740h2.6v2.6h-2.6zM850 742.5h2.6v2.6h-2.6zM850 747.5h2.6v2.6h-2.6zM850 750h2.6v2.6h-2.6zM850 755h2.6v2.6h-2.6zM850 757.5h2.6v2.6h-2.6zM850 760h2.6v2.6h-2.6zM850 762.5h2.6v2.6h-2.6zM850 767.5h2.6v2.6h-2.6zM852.5 630h2.6v2.6h-2.6zM852.5 642.5h2.6v2.6h-2.6zM852.5 645h2.6v2.6h-2.6zM852.5 647.5h2.6v2.6h-2.6zM852.5 650h2.6v2.6h-2.6zM852.5 652.5h2.6v2.6h-2.6zM852.5 655h2.6v2.6h-2.6zM852.5 657.5h2.6v2.6h-2.6zM852.5 660h2.6v2.6h-2.6zM852.5 697.5h2.6v2.6h-2.6zM852.5 717.5h2.6v2.6h-2.6zM852.5 720h2.6v2.6h-2.6zM852.5 730h2.6v2.6h-2.6zM852.5 732.5h2.6v2.6h-2.6zM852.5 737.5h2.6v2.6h-2.6zM852.5 740h2.6v2.6h-2.6zM852.5 762.5h2.6v2.6h-2.6zM852.5 782.5h2.6v2.6h-2.6zM855 640h2.6v2.6h-2.6zM855 645h2.6v2.6h-2.6zM855 647.5h2.6v2.6h-2.6zM855 652.5h2.6v2.6h-2.6zM855 655h2.6v2.6h-2.6zM855 657.5h2.6v2.6h-2.6zM855 660h2.6v2.6h-2.6zM855 667.5h2.6v2.6h-2.6zM855 670h2.6v2.6h-2.6zM855 695h2.6v2.6h-2.6zM855 700h2.6v2.6h-2.6zM855 712.5h2.6v2.6h-2.6zM855 725h2.6v2.6h-2.6zM855 730h2.6v2.6h-2.6zM855 732.5h2.6v2.6h-2.6zM855 742.5h2.6v2.6h-2.6zM855 750h2.6v2.6h-2.6zM857.5 647.5h2.6v2.6h-2.6zM857.5 652.5h2.6v2.6h-2.6zM857.5 655h2.6v2.6h-2.6zM857.5 657.5h2.6v2.6h-2.6zM857.5 660h2.6v2.6h-2.6zM857.5 675h2.6v2.6h-2.6zM857.5 710h2.6v2.6h-2.6zM857.5 727.5h2.6v2.6h-2.6zM857.5 735h2.6v2.6h-2.6zM860 650h2.6v2.6h-2.6zM860 652.5h2.6v2.6h-2.6zM860 657.5h2.6v2.6h-2.6zM860 660h2.6v2.6h-2.6zM860 672.5h2.6v2.6h-2.6zM860 712.5h2.6v2.6h-2.6zM860 727.5h2.6v2.6h-2.6zM860 735h2.6v2.6h-2.6zM860 737.5h2.6v2.6h-2.6zM862.5 635h2.6v2.6h-2.6zM862.5 637.5h2.6v2.6h-2.6zM862.5 647.5h2.6v2.6h-2.6zM862.5 650h2.6v2.6h-2.6zM862.5 652.5h2.6v2.6h-2.6zM862.5 655h2.6v2.6h-2.6zM862.5 657.5h2.6v2.6h-2.6zM862.5 662.5h2.6v2.6h-2.6zM862.5 665h2.6v2.6h-2.6zM862.5 672.5h2.6v2.6h-2.6zM862.5 702.5h2.6v2.6h-2.6zM862.5 720h2.6v2.6h-2.6zM862.5 750h2.6v2.6h-2.6zM862.5 755h2.6v2.6h-2.6zM862.5 770h2.6v2.6h-2.6zM865 645h2.6v2.6h-2.6zM865 647.5h2.6v2.6h-2.6zM865 650h2.6v2.6h-2.6zM865 655h2.6v2.6h-2.6zM865 657.5h2.6v2.6h-2.6zM865 675h2.6v2.6h-2.6zM865 707.5h2.6v2.6h-2.6zM865 710h2.6v2.6h-2.6zM865 712.5h2.6v2.6h-2.6zM865 717.5h2.6v2.6h-2.6zM865 727.5h2.6v2.6h-2.6zM865 740h2.6v2.6h-2.6zM865 742.5h2.6v2.6h-2.6zM865 745h2.6v2.6h-2.6zM865 752.5h2.6v2.6h-2.6zM865 755h2.6v2.6h-2.6zM865 757.5h2.6v2.6h-2.6zM865 762.5h2.6v2.6h-2.6zM865 765h2.6v2.6h-2.6zM867.5 635h2.6v2.6h-2.6zM867.5 642.5h2.6v2.6h-2.6zM867.5 645h2.6v2.6h-2.6zM867.5 647.5h2.6v2.6h-2.6zM867.5 652.5h2.6v2.6h-2.6zM867.5 657.5h2.6v2.6h-2.6zM867.5 660h2.6v2.6h-2.6zM867.5 665h2.6v2.6h-2.6zM867.5 690h2.6v2.6h-2.6zM867.5 715h2.6v2.6h-2.6zM867.5 732.5h2.6v2.6h-2.6zM867.5 750h2.6v2.6h-2.6zM867.5 777.5h2.6v2.6h-2.6zM870 645h2.6v2.6h-2.6zM870 647.5h2.6v2.6h-2.6zM870 650h2.6v2.6h-2.6zM870 652.5h2.6v2.6h-2.6zM870 655h2.6v2.6h-2.6zM870 657.5h2.6v2.6h-2.6zM870 660h2.6v2.6h-2.6zM870 665h2.6v2.6h-2.6zM870 690h2.6v2.6h-2.6zM870 707.5h2.6v2.6h-2.6zM870 752.5h2.6v2.6h-2.6zM872.5 632.5h2.6v2.6h-2.6zM872.5 635h2.6v2.6h-2.6zM872.5 637.5h2.6v2.6h-2.6zM872.5 647.5h2.6v2.6h-2.6zM872.5 650h2.6v2.6h-2.6zM872.5 655h2.6v2.6h-2.6zM872.5 660h2.6v2.6h-2.6zM872.5 662.5h2.6v2.6h-2.6zM872.5 665h2.6v2.6h-2.6zM872.5 730h2.6v2.6h-2.6zM872.5 752.5h2.6v2.6h-2.6zM875 635h2.6v2.6h-2.6zM875 637.5h2.6v2.6h-2.6zM875 652.5h2.6v2.6h-2.6zM875 655h2.6v2.6h-2.6zM875 657.5h2.6v2.6h-2.6zM875 660h2.6v2.6h-2.6zM877.5 640h2.6v2.6h-2.6zM877.5 642.5h2.6v2.6h-2.6zM877.5 647.5h2.6v2.6h-2.6zM877.5 650h2.6v2.6h-2.6zM877.5 670h2.6v2.6h-2.6zM877.5 710h2.6v2.6h-2.6zM880 640h2.6v2.6h-2.6zM880 642.5h2.6v2.6h-2.6zM880 652.5h2.6v2.6h-2.6zM880 660h2.6v2.6h-2.6zM882.5 637.5h2.6v2.6h-2.6zM882.5 642.5h2.6v2.6h-2.6zM882.5 647.5h2.6v2.6h-2.6zM882.5 655h2.6v2.6h-2.6zM882.5 660h2.6v2.6h-2.6zM882.5 662.5h2.6v2.6h-2.6zM882.5 720h2.6v2.6h-2.6zM885 632.5h2.6v2.6h-2.6zM885 637.5h2.6v2.6h-2.6zM885 640h2.6v2.6h-2.6zM885 650h2.6v2.6h-2.6zM885 655h2.6v2.6h-2.6zM887.5 630h2.6v2.6h-2.6zM887.5 640h2.6v2.6h-2.6zM887.5 660h2.6v2.6h-2.6zM887.5 667.5h2.6v2.6h-2.6zM887.5 670h2.6v2.6h-2.6zM887.5 677.5h2.6v2.6h-2.6zM887.5 682.5h2.6v2.6h-2.6zM887.5 710h2.6v2.6h-2.6zM890 637.5h2.6v2.6h-2.6zM890 642.5h2.6v2.6h-2.6zM890 655h2.6v2.6h-2.6zM890 657.5h2.6v2.6h-2.6zM890 662.5h2.6v2.6h-2.6zM890 667.5h2.6v2.6h-2.6zM892.5 622.5h2.6v2.6h-2.6zM892.5 647.5h2.6v2.6h-2.6zM892.5 650h2.6v2.6h-2.6zM892.5 657.5h2.6v2.6h-2.6zM892.5 662.5h2.6v2.6h-2.6zM892.5 665h2.6v2.6h-2.6zM892.5 775h2.6v2.6h-2.6zM895 645h2.6v2.6h-2.6zM897.5 635h2.6v2.6h-2.6zM897.5 640h2.6v2.6h-2.6zM897.5 645h2.6v2.6h-2.6zM897.5 650h2.6v2.6h-2.6zM897.5 652.5h2.6v2.6h-2.6zM897.5 657.5h2.6v2.6h-2.6zM897.5 665h2.6v2.6h-2.6zM897.5 670h2.6v2.6h-2.6zM897.5 755h2.6v2.6h-2.6zM900 642.5h2.6v2.6h-2.6zM900 650h2.6v2.6h-2.6zM902.5 635h2.6v2.6h-2.6zM902.5 652.5h2.6v2.6h-2.6zM902.5 657.5h2.6v2.6h-2.6zM902.5 660h2.6v2.6h-2.6zM902.5 670h2.6v2.6h-2.6zM905 647.5h2.6v2.6h-2.6zM905 655h2.6v2.6h-2.6zM907.5 635h2.6v2.6h-2.6zM910 740h2.6v2.6h-2.6zM912.5 722.5h2.6v2.6h-2.6zM912.5 785h2.6v2.6h-2.6zM915 675h2.6v2.6h-2.6zM920 742.5h2.6v2.6h-2.6zM927.5 650h2.6v2.6h-2.6z"/>
<path d="M766.1 574.2H1018.6V788.5H766.1ZM859.9 574.2V788.5M766.1 702.1H1018.6" stroke="#000" stroke-width="2.4" fill="none"/>
<path d="M768.1 788.5v9M766.1 788.5h-8.5M787 788.5v4.5M766.1 772.4h-4.5M798 788.5v4.5M766.1 762.9h-4.5M805.8 788.5v4.5M766.1 756.2h-4.5M811.9 788.5v4.5M766.1 751.1h-4.5M816.8 788.5v4.5M766.1 746.8h-4.5M821 788.5v4.5M766.1 743.2h-4.5M824.7 788.5v4.5M766.1 740.1h-4.5M827.9 788.5v4.5M766.1 737.4h-4.5M830.7 788.5v9M766.1 734.9h-8.5M849.6 788.5v4.5M766.1 718.8h-4.5M860.6 788.5v4.5M766.1 709.4h-4.5M868.4 788.5v4.5M766.1 702.7h-4.5M874.5 788.5v4.5M766.1 697.5h-4.5M879.5 788.5v4.5M766.1 693.2h-4.5M883.6 788.5v4.5M766.1 689.6h-4.5M887.3 788.5v4.5M766.1 686.5h-4.5M890.5 788.5v4.5M766.1 683.8h-4.5M893.4 788.5v9M766.1 681.4h-8.5M912.2 788.5v4.5M766.1 665.2h-4.5M923.2 788.5v4.5M766.1 655.8h-4.5M931.1 788.5v4.5M766.1 649.1h-4.5M937.1 788.5v4.5M766.1 643.9h-4.5M942.1 788.5v4.5M766.1 639.7h-4.5M946.3 788.5v4.5M766.1 636.1h-4.5M949.9 788.5v4.5M766.1 633h-4.5M953.1 788.5v4.5M766.1 630.2h-4.5M956 788.5v9M766.1 627.8h-8.5M974.8 788.5v4.5M766.1 611.6h-4.5M985.9 788.5v4.5M766.1 602.2h-4.5M993.7 788.5v4.5M766.1 595.5h-4.5M999.7 788.5v4.5M766.1 590.3h-4.5M1004.7 788.5v4.5M766.1 586.1h-4.5M1008.9 788.5v4.5M766.1 582.5h-4.5M1012.5 788.5v4.5M766.1 579.4h-4.5M1015.7 788.5v4.5M766.1 576.7h-4.5M1018.6 788.5v9M766.1 574.2h-8.5" stroke="#000" stroke-width="2.4" fill="none"/>
<text class="S" x="754.6" y="819.2" font-size="19.4" font-weight="bold" textLength="17.5" lengthAdjust="spacingAndGlyphs">10</text>
<text class="S" x="771.7" y="809.4" font-size="22.3" textLength="11.6" lengthAdjust="spacingAndGlyphs">0</text>
<text class="S" x="817.2" y="819.2" font-size="19.4" font-weight="bold" textLength="17.5" lengthAdjust="spacingAndGlyphs">10</text>
<text class="S" x="833.4" y="809.6" font-size="22.9" textLength="12.8" lengthAdjust="spacingAndGlyphs">1</text>
<text class="S" x="879.8" y="819.2" font-size="19.4" font-weight="bold" textLength="17.5" lengthAdjust="spacingAndGlyphs">10</text>
<text class="S" x="896.7" y="809.6" font-size="22.6" textLength="12.2" lengthAdjust="spacingAndGlyphs">2</text>
<text class="S" x="942.4" y="819.2" font-size="19.4" font-weight="bold" textLength="17.5" lengthAdjust="spacingAndGlyphs">10</text>
<text class="S" x="959.5" y="809.4" font-size="22.3" textLength="11.7" lengthAdjust="spacingAndGlyphs">3</text>
<text class="S" x="1005.1" y="819.2" font-size="19.4" font-weight="bold" textLength="17.5" lengthAdjust="spacingAndGlyphs">10</text>
<text class="S" x="1022.6" y="809.6" font-size="22.9" textLength="11" lengthAdjust="spacingAndGlyphs">4</text>
<text class="S" transform="translate(0,800.3) rotate(-90)" x="-0.9" y="751.8" font-size="21.7" font-weight="bold" textLength="16.5" lengthAdjust="spacingAndGlyphs">10</text>
<text class="S" transform="translate(0,781.3) rotate(-90)" x="-0.8" y="740.7" font-size="19.7" textLength="11.6" lengthAdjust="spacingAndGlyphs">0</text>
<text class="S" transform="translate(0,746.7) rotate(-90)" x="-0.9" y="751.8" font-size="21.7" font-weight="bold" textLength="16.5" lengthAdjust="spacingAndGlyphs">10</text>
<text class="S" transform="translate(0,727.7) rotate(-90)" x="-1.7" y="740.9" font-size="20.3" textLength="12.8" lengthAdjust="spacingAndGlyphs">1</text>
<text class="S" transform="translate(0,693.1) rotate(-90)" x="-0.9" y="751.8" font-size="21.7" font-weight="bold" textLength="16.5" lengthAdjust="spacingAndGlyphs">10</text>
<text class="S" transform="translate(0,674.1) rotate(-90)" x="-1.1" y="740.9" font-size="20" textLength="12.2" lengthAdjust="spacingAndGlyphs">2</text>
<text class="S" transform="translate(0,639.6) rotate(-90)" x="-0.9" y="751.8" font-size="21.7" font-weight="bold" textLength="16.5" lengthAdjust="spacingAndGlyphs">10</text>
<text class="S" transform="translate(0,620.6) rotate(-90)" x="-0.8" y="740.7" font-size="19.7" textLength="11.7" lengthAdjust="spacingAndGlyphs">3</text>
<text class="S" transform="translate(0,586) rotate(-90)" x="-0.9" y="751.8" font-size="21.7" font-weight="bold" textLength="16.5" lengthAdjust="spacingAndGlyphs">10</text>
<text class="S" transform="translate(0,567) rotate(-90)" x="-0.4" y="740.9" font-size="20.3" textLength="11" lengthAdjust="spacingAndGlyphs">4</text>
<text class="S" transform="translate(0,690.6) rotate(-90)" x="-1.5" y="727.2" font-size="22.8" textLength="17.5" lengthAdjust="spacingAndGlyphs">PI</text>
<text class="M" x="848.2" y="838.8" font-size="16.7" textLength="129.1" lengthAdjust="spacingAndGlyphs" stroke="#000" stroke-width="0.35">Annexin V-FITC</text>
<text class="S" x="957.1" y="604.6" font-size="21" textLength="54.1" lengthAdjust="spacingAndGlyphs">6. 52%</text>
<text class="S" x="961.9" y="773.5" font-size="21" textLength="53.7" lengthAdjust="spacingAndGlyphs">2. 77%</text>
<text class="S" x="1208.6" y="534.9" font-size="29" textLength="45.3" lengthAdjust="spacingAndGlyphs" stroke="#000" stroke-width="0.2">100</text>
<text class="S" x="1261.6" y="534.1" font-size="26.2" textLength="17" lengthAdjust="spacingAndGlyphs" stroke="#000" stroke-width="0.2">μ</text>
<text class="S" x="1284.3" y="535.2" font-size="29.9" font-weight="bold" textLength="15.8" lengthAdjust="spacingAndGlyphs" stroke="#000" stroke-width="0.7">M</text>
<path fill="#333" d="M1132.5 640h2.6v2.6h-2.6zM1132.5 650h2.6v2.6h-2.6zM1135 655h2.6v2.6h-2.6zM1137.5 647.5h2.6v2.6h-2.6zM1137.5 652.5h2.6v2.6h-2.6zM1137.5 660h2.6v2.6h-2.6zM1137.5 670h2.6v2.6h-2.6zM1140 645h2.6v2.6h-2.6zM1140 657.5h2.6v2.6h-2.6zM1140 660h2.6v2.6h-2.6zM1140 665h2.6v2.6h-2.6zM1140 670h2.6v2.6h-2.6zM1140 757.5h2.6v2.6h-2.6zM1142.5 635h2.6v2.6h-2.6zM1142.5 647.5h2.6v2.6h-2.6zM1142.5 667.5h2.6v2.6h-2.6zM1142.5 730h2.6v2.6h-2.6zM1142.5 782.5h2.6v2.6h-2.6zM1145 642.5h2.6v2.6h-2.6zM1145 650h2.6v2.6h-2.6zM1145 655h2.6v2.6h-2.6zM1145 660h2.6v2.6h-2.6zM1145 767.5h2.6v2.6h-2.6zM1147.5 662.5h2.6v2.6h-2.6zM1147.5 737.5h2.6v2.6h-2.6zM1147.5 752.5h2.6v2.6h-2.6zM1150 637.5h2.6v2.6h-2.6zM1150 647.5h2.6v2.6h-2.6zM1150 652.5h2.6v2.6h-2.6zM1150 660h2.6v2.6h-2.6zM1150 665h2.6v2.6h-2.6zM1150 715h2.6v2.6h-2.6zM1150 717.5h2.6v2.6h-2.6zM1152.5 652.5h2.6v2.6h-2.6zM1152.5 655h2.6v2.6h-2.6zM1152.5 662.5h2.6v2.6h-2.6zM1152.5 775h2.6v2.6h-2.6zM1152.5 780h2.6v2.6h-2.6zM1155 650h2.6v2.6h-2.6zM1155 655h2.6v2.6h-2.6zM1155 657.5h2.6v2.6h-2.6zM1155 660h2.6v2.6h-2.6zM1155 662.5h2.6v2.6h-2.6zM1157.5 642.5h2.6v2.6h-2.6zM1157.5 657.5h2.6v2.6h-2.6zM1157.5 662.5h2.6v2.6h-2.6zM1157.5 670h2.6v2.6h-2.6zM1157.5 777.5h2.6v2.6h-2.6zM1157.5 785h2.6v2.6h-2.6zM1160 642.5h2.6v2.6h-2.6zM1160 650h2.6v2.6h-2.6zM1160 657.5h2.6v2.6h-2.6zM1160 660h2.6v2.6h-2.6zM1160 662.5h2.6v2.6h-2.6zM1160 715h2.6v2.6h-2.6zM1160 760h2.6v2.6h-2.6zM1160 762.5h2.6v2.6h-2.6zM1160 792.5h2.6v2.6h-2.6zM1162.5 637.5h2.6v2.6h-2.6zM1162.5 647.5h2.6v2.6h-2.6zM1162.5 650h2.6v2.6h-2.6zM1162.5 657.5h2.6v2.6h-2.6zM1162.5 662.5h2.6v2.6h-2.6zM1162.5 742.5h2.6v2.6h-2.6zM1162.5 745h2.6v2.6h-2.6zM1162.5 765h2.6v2.6h-2.6zM1162.5 790h2.6v2.6h-2.6zM1165 640h2.6v2.6h-2.6zM1165 652.5h2.6v2.6h-2.6zM1165 655h2.6v2.6h-2.6zM1165 660h2.6v2.6h-2.6zM1165 752.5h2.6v2.6h-2.6zM1165 777.5h2.6v2.6h-2.6zM1165 785h2.6v2.6h-2.6zM1165 787.5h2.6v2.6h-2.6zM1167.5 640h2.6v2.6h-2.6zM1167.5 645h2.6v2.6h-2.6zM1167.5 660h2.6v2.6h-2.6zM1167.5 722.5h2.6v2.6h-2.6zM1167.5 725h2.6v2.6h-2.6zM1167.5 757.5h2.6v2.6h-2.6zM1167.5 772.5h2.6v2.6h-2.6zM1167.5 780h2.6v2.6h-2.6zM1167.5 792.5h2.6v2.6h-2.6zM1170 642.5h2.6v2.6h-2.6zM1170 650h2.6v2.6h-2.6zM1170 655h2.6v2.6h-2.6zM1170 715h2.6v2.6h-2.6zM1170 757.5h2.6v2.6h-2.6zM1170 780h2.6v2.6h-2.6zM1170 787.5h2.6v2.6h-2.6zM1170 790h2.6v2.6h-2.6zM1172.5 652.5h2.6v2.6h-2.6zM1172.5 655h2.6v2.6h-2.6zM1172.5 657.5h2.6v2.6h-2.6zM1172.5 660h2.6v2.6h-2.6zM1172.5 667.5h2.6v2.6h-2.6zM1172.5 670h2.6v2.6h-2.6zM1172.5 765h2.6v2.6h-2.6zM1172.5 767.5h2.6v2.6h-2.6zM1172.5 775h2.6v2.6h-2.6zM1172.5 780h2.6v2.6h-2.6zM1172.5 785h2.6v2.6h-2.6zM1175 650h2.6v2.6h-2.6zM1175 712.5h2.6v2.6h-2.6zM1175 727.5h2.6v2.6h-2.6zM1175 752.5h2.6v2.6h-2.6zM1175 762.5h2.6v2.6h-2.6zM1175 765h2.6v2.6h-2.6zM1175 767.5h2.6v2.6h-2.6zM1175 770h2.6v2.6h-2.6zM1175 772.5h2.6v2.6h-2.6zM1175 777.5h2.6v2.6h-2.6zM1175 780h2.6v2.6h-2.6zM1175 785h2.6v2.6h-2.6zM1175 787.5h2.6v2.6h-2.6zM1177.5 662.5h2.6v2.6h-2.6zM1177.5 750h2.6v2.6h-2.6zM1177.5 752.5h2.6v2.6h-2.6zM1177.5 755h2.6v2.6h-2.6zM1177.5 760h2.6v2.6h-2.6zM1177.5 762.5h2.6v2.6h-2.6zM1177.5 770h2.6v2.6h-2.6zM1177.5 775h2.6v2.6h-2.6zM1177.5 777.5h2.6v2.6h-2.6zM1177.5 780h2.6v2.6h-2.6zM1177.5 782.5h2.6v2.6h-2.6zM1177.5 787.5h2.6v2.6h-2.6zM1177.5 790h2.6v2.6h-2.6zM1177.5 792.5h2.6v2.6h-2.6zM1180 640h2.6v2.6h-2.6zM1180 650h2.6v2.6h-2.6zM1180 662.5h2.6v2.6h-2.6zM1180 750h2.6v2.6h-2.6zM1180 757.5h2.6v2.6h-2.6zM1180 765h2.6v2.6h-2.6zM1180 767.5h2.6v2.6h-2.6zM1180 770h2.6v2.6h-2.6zM1180 772.5h2.6v2.6h-2.6zM1180 775h2.6v2.6h-2.6zM1180 777.5h2.6v2.6h-2.6zM1180 780h2.6v2.6h-2.6zM1180 782.5h2.6v2.6h-2.6zM1180 785h2.6v2.6h-2.6zM1180 790h2.6v2.6h-2.6zM1182.5 640h2.6v2.6h-2.6zM1182.5 650h2.6v2.6h-2.6zM1182.5 655h2.6v2.6h-2.6zM1182.5 662.5h2.6v2.6h-2.6zM1182.5 665h2.6v2.6h-2.6zM1182.5 700h2.6v2.6h-2.6zM1182.5 745h2.6v2.6h-2.6zM1182.5 747.5h2.6v2.6h-2.6zM1182.5 755h2.6v2.6h-2.6zM1182.5 760h2.6v2.6h-2.6zM1182.5 762.5h2.6v2.6h-2.6zM1182.5 767.5h2.6v2.6h-2.6zM1182.5 770h2.6v2.6h-2.6zM1182.5 772.5h2.6v2.6h-2.6zM1182.5 775h2.6v2.6h-2.6zM1182.5 777.5h2.6v2.6h-2.6zM1182.5 780h2.6v2.6h-2.6zM1182.5 782.5h2.6v2.6h-2.6zM1182.5 785h2.6v2.6h-2.6zM1182.5 787.5h2.6v2.6h-2.6zM1182.5 790h2.6v2.6h-2.6zM1185 637.5h2.6v2.6h-2.6zM1185 645h2.6v2.6h-2.6zM1185 652.5h2.6v2.6h-2.6zM1185 712.5h2.6v2.6h-2.6zM1185 737.5h2.6v2.6h-2.6zM1185 740h2.6v2.6h-2.6zM1185 742.5h2.6v2.6h-2.6zM1185 752.5h2.6v2.6h-2.6zM1185 755h2.6v2.6h-2.6zM1185 757.5h2.6v2.6h-2.6zM1185 760h2.6v2.6h-2.6zM1185 762.5h2.6v2.6h-2.6zM1185 765h2.6v2.6h-2.6zM1185 767.5h2.6v2.6h-2.6zM1185 770h2.6v2.6h-2.6zM1185 772.5h2.6v2.6h-2.6zM1185 775h2.6v2.6h-2.6zM1185 777.5h2.6v2.6h-2.6zM1185 780h2.6v2.6h-2.6zM1185 782.5h2.6v2.6h-2.6zM1185 785h2.6v2.6h-2.6zM1185 787.5h2.6v2.6h-2.6zM1185 790h2.6v2.6h-2.6zM1187.5 642.5h2.6v2.6h-2.6zM1187.5 657.5h2.6v2.6h-2.6zM1187.5 662.5h2.6v2.6h-2.6zM1187.5 695h2.6v2.6h-2.6zM1187.5 737.5h2.6v2.6h-2.6zM1187.5 740h2.6v2.6h-2.6zM1187.5 745h2.6v2.6h-2.6zM1187.5 750h2.6v2.6h-2.6zM1187.5 757.5h2.6v2.6h-2.6zM1187.5 760h2.6v2.6h-2.6zM1187.5 762.5h2.6v2.6h-2.6zM1187.5 765h2.6v2.6h-2.6zM1187.5 767.5h2.6v2.6h-2.6zM1187.5 770h2.6v2.6h-2.6zM1187.5 772.5h2.6v2.6h-2.6zM1187.5 775h2.6v2.6h-2.6zM1187.5 777.5h2.6v2.6h-2.6zM1187.5 780h2.6v2.6h-2.6zM1187.5 782.5h2.6v2.6h-2.6zM1187.5 785h2.6v2.6h-2.6zM1187.5 787.5h2.6v2.6h-2.6zM1187.5 790h2.6v2.6h-2.6zM1190 647.5h2.6v2.6h-2.6zM1190 652.5h2.6v2.6h-2.6zM1190 657.5h2.6v2.6h-2.6zM1190 755h2.6v2.6h-2.6zM1190 757.5h2.6v2.6h-2.6zM1190 760h2.6v2.6h-2.6zM1190 762.5h2.6v2.6h-2.6zM1190 765h2.6v2.6h-2.6zM1190 767.5h2.6v2.6h-2.6zM1190 770h2.6v2.6h-2.6zM1190 772.5h2.6v2.6h-2.6zM1190 775h2.6v2.6h-2.6zM1190 777.5h2.6v2.6h-2.6zM1190 780h2.6v2.6h-2.6zM1190 782.5h2.6v2.6h-2.6zM1190 785h2.6v2.6h-2.6zM1190 787.5h2.6v2.6h-2.6zM1190 790h2.6v2.6h-2.6zM1192.5 655h2.6v2.6h-2.6zM1192.5 662.5h2.6v2.6h-2.6zM1192.5 730h2.6v2.6h-2.6zM1192.5 735h2.6v2.6h-2.6zM1192.5 737.5h2.6v2.6h-2.6zM1192.5 752.5h2.6v2.6h-2.6zM1192.5 755h2.6v2.6h-2.6zM1192.5 757.5h2.6v2.6h-2.6zM1192.5 760h2.6v2.6h-2.6zM1192.5 762.5h2.6v2.6h-2.6zM1192.5 765h2.6v2.6h-2.6zM1192.5 767.5h2.6v2.6h-2.6zM1192.5 770h2.6v2.6h-2.6zM1192.5 772.5h2.6v2.6h-2.6zM1192.5 775h2.6v2.6h-2.6zM1192.5 777.5h2.6v2.6h-2.6zM1192.5 780h2.6v2.6h-2.6zM1192.5 782.5h2.6v2.6h-2.6zM1192.5 785h2.6v2.6h-2.6zM1192.5 787.5h2.6v2.6h-2.6zM1192.5 790h2.6v2.6h-2.6zM1195 637.5h2.6v2.6h-2.6zM1195 655h2.6v2.6h-2.6zM1195 657.5h2.6v2.6h-2.6zM1195 732.5h2.6v2.6h-2.6zM1195 747.5h2.6v2.6h-2.6zM1195 750h2.6v2.6h-2.6zM1195 752.5h2.6v2.6h-2.6zM1195 755h2.6v2.6h-2.6zM1195 757.5h2.6v2.6h-2.6zM1195 760h2.6v2.6h-2.6zM1195 762.5h2.6v2.6h-2.6zM1195 765h2.6v2.6h-2.6zM1195 767.5h2.6v2.6h-2.6zM1195 770h2.6v2.6h-2.6zM1195 772.5h2.6v2.6h-2.6zM1195 775h2.6v2.6h-2.6zM1195 777.5h2.6v2.6h-2.6zM1195 780h2.6v2.6h-2.6zM1195 782.5h2.6v2.6h-2.6zM1195 785h2.6v2.6h-2.6zM1195 787.5h2.6v2.6h-2.6zM1195 790h2.6v2.6h-2.6zM1195 792.5h2.6v2.6h-2.6zM1197.5 642.5h2.6v2.6h-2.6zM1197.5 645h2.6v2.6h-2.6zM1197.5 655h2.6v2.6h-2.6zM1197.5 657.5h2.6v2.6h-2.6zM1197.5 662.5h2.6v2.6h-2.6zM1197.5 665h2.6v2.6h-2.6zM1197.5 667.5h2.6v2.6h-2.6zM1197.5 725h2.6v2.6h-2.6zM1197.5 740h2.6v2.6h-2.6zM1197.5 745h2.6v2.6h-2.6zM1197.5 750h2.6v2.6h-2.6zM1197.5 752.5h2.6v2.6h-2.6zM1197.5 755h2.6v2.6h-2.6zM1197.5 760h2.6v2.6h-2.6zM1197.5 762.5h2.6v2.6h-2.6zM1197.5 765h2.6v2.6h-2.6zM1197.5 767.5h2.6v2.6h-2.6zM1197.5 770h2.6v2.6h-2.6zM1197.5 772.5h2.6v2.6h-2.6zM1197.5 775h2.6v2.6h-2.6zM1197.5 777.5h2.6v2.6h-2.6zM1197.5 780h2.6v2.6h-2.6zM1197.5 782.5h2.6v2.6h-2.6zM1197.5 785h2.6v2.6h-2.6zM1197.5 787.5h2.6v2.6h-2.6zM1200 660h2.6v2.6h-2.6zM1200 700h2.6v2.6h-2.6zM1200 730h2.6v2.6h-2.6zM1200 735h2.6v2.6h-2.6zM1200 740h2.6v2.6h-2.6zM1200 747.5h2.6v2.6h-2.6zM1200 750h2.6v2.6h-2.6zM1200 752.5h2.6v2.6h-2.6zM1200 760h2.6v2.6h-2.6zM1200 762.5h2.6v2.6h-2.6zM1200 765h2.6v2.6h-2.6zM1200 767.5h2.6v2.6h-2.6zM1200 770h2.6v2.6h-2.6zM1200 772.5h2.6v2.6h-2.6zM1200 777.5h2.6v2.6h-2.6zM1200 780h2.6v2.6h-2.6zM1200 782.5h2.6v2.6h-2.6zM1200 785h2.6v2.6h-2.6zM1200 790h2.6v2.6h-2.6zM1200 792.5h2.6v2.6h-2.6zM1202.5 640h2.6v2.6h-2.6zM1202.5 645h2.6v2.6h-2.6zM1202.5 652.5h2.6v2.6h-2.6zM1202.5 655h2.6v2.6h-2.6zM1202.5 657.5h2.6v2.6h-2.6zM1202.5 732.5h2.6v2.6h-2.6zM1202.5 737.5h2.6v2.6h-2.6zM1202.5 745h2.6v2.6h-2.6zM1202.5 747.5h2.6v2.6h-2.6zM1202.5 750h2.6v2.6h-2.6zM1202.5 752.5h2.6v2.6h-2.6zM1202.5 755h2.6v2.6h-2.6zM1202.5 757.5h2.6v2.6h-2.6zM1202.5 760h2.6v2.6h-2.6zM1202.5 762.5h2.6v2.6h-2.6zM1202.5 765h2.6v2.6h-2.6zM1202.5 770h2.6v2.6h-2.6zM1202.5 772.5h2.6v2.6h-2.6zM1202.5 775h2.6v2.6h-2.6zM1202.5 777.5h2.6v2.6h-2.6zM1202.5 780h2.6v2.6h-2.6zM1202.5 782.5h2.6v2.6h-2.6zM1202.5 785h2.6v2.6h-2.6zM1202.5 787.5h2.6v2.6h-2.6zM1202.5 790h2.6v2.6h-2.6zM1205 647.5h2.6v2.6h-2.6zM1205 650h2.6v2.6h-2.6zM1205 652.5h2.6v2.6h-2.6zM1205 655h2.6v2.6h-2.6zM1205 700h2.6v2.6h-2.6zM1205 722.5h2.6v2.6h-2.6zM1205 727.5h2.6v2.6h-2.6zM1205 732.5h2.6v2.6h-2.6zM1205 735h2.6v2.6h-2.6zM1205 740h2.6v2.6h-2.6zM1205 745h2.6v2.6h-2.6zM1205 747.5h2.6v2.6h-2.6zM1205 750h2.6v2.6h-2.6zM1205 752.5h2.6v2.6h-2.6zM1205 755h2.6v2.6h-2.6zM1205 757.5h2.6v2.6h-2.6zM1205 760h2.6v2.6h-2.6zM1205 762.5h2.6v2.6h-2.6zM1205 765h2.6v2.6h-2.6zM1205 767.5h2.6v2.6h-2.6zM1205 770h2.6v2.6h-2.6zM1205 772.5h2.6v2.6h-2.6zM1205 775h2.6v2.6h-2.6zM1205 777.5h2.6v2.6h-2.6zM1205 780h2.6v2.6h-2.6zM1205 785h2.6v2.6h-2.6zM1205 787.5h2.6v2.6h-2.6zM1205 790h2.6v2.6h-2.6zM1207.5 647.5h2.6v2.6h-2.6zM1207.5 652.5h2.6v2.6h-2.6zM1207.5 700h2.6v2.6h-2.6zM1207.5 702.5h2.6v2.6h-2.6zM1207.5 720h2.6v2.6h-2.6zM1207.5 722.5h2.6v2.6h-2.6zM1207.5 730h2.6v2.6h-2.6zM1207.5 735h2.6v2.6h-2.6zM1207.5 737.5h2.6v2.6h-2.6zM1207.5 740h2.6v2.6h-2.6zM1207.5 742.5h2.6v2.6h-2.6zM1207.5 745h2.6v2.6h-2.6zM1207.5 747.5h2.6v2.6h-2.6zM1207.5 750h2.6v2.6h-2.6zM1207.5 752.5h2.6v2.6h-2.6zM1207.5 755h2.6v2.6h-2.6zM1207.5 757.5h2.6v2.6h-2.6zM1207.5 760h2.6v2.6h-2.6zM1207.5 762.5h2.6v2.6h-2.6zM1207.5 765h2.6v2.6h-2.6zM1207.5 767.5h2.6v2.6h-2.6zM1207.5 772.5h2.6v2.6h-2.6zM1207.5 775h2.6v2.6h-2.6zM1207.5 777.5h2.6v2.6h-2.6zM1207.5 790h2.6v2.6h-2.6zM1210 647.5h2.6v2.6h-2.6zM1210 657.5h2.6v2.6h-2.6zM1210 660h2.6v2.6h-2.6zM1210 662.5h2.6v2.6h-2.6zM1210 665h2.6v2.6h-2.6zM1210 670h2.6v2.6h-2.6zM1210 722.5h2.6v2.6h-2.6zM1210 732.5h2.6v2.6h-2.6zM1210 740h2.6v2.6h-2.6zM1210 742.5h2.6v2.6h-2.6zM1210 745h2.6v2.6h-2.6zM1210 747.5h2.6v2.6h-2.6zM1210 750h2.6v2.6h-2.6zM1210 755h2.6v2.6h-2.6zM1210 757.5h2.6v2.6h-2.6zM1210 760h2.6v2.6h-2.6zM1210 762.5h2.6v2.6h-2.6zM1210 765h2.6v2.6h-2.6zM1210 767.5h2.6v2.6h-2.6zM1210 770h2.6v2.6h-2.6zM1210 772.5h2.6v2.6h-2.6zM1210 775h2.6v2.6h-2.6zM1210 780h2.6v2.6h-2.6zM1210 787.5h2.6v2.6h-2.6zM1212.5 645h2.6v2.6h-2.6zM1212.5 647.5h2.6v2.6h-2.6zM1212.5 650h2.6v2.6h-2.6zM1212.5 655h2.6v2.6h-2.6zM1212.5 665h2.6v2.6h-2.6zM1212.5 687.5h2.6v2.6h-2.6zM1212.5 700h2.6v2.6h-2.6zM1212.5 720h2.6v2.6h-2.6zM1212.5 745h2.6v2.6h-2.6zM1212.5 747.5h2.6v2.6h-2.6zM1212.5 750h2.6v2.6h-2.6zM1212.5 752.5h2.6v2.6h-2.6zM1212.5 755h2.6v2.6h-2.6zM1212.5 757.5h2.6v2.6h-2.6zM1212.5 760h2.6v2.6h-2.6zM1212.5 762.5h2.6v2.6h-2.6zM1212.5 765h2.6v2.6h-2.6zM1212.5 772.5h2.6v2.6h-2.6zM1212.5 775h2.6v2.6h-2.6zM1212.5 787.5h2.6v2.6h-2.6zM1215 642.5h2.6v2.6h-2.6zM1215 645h2.6v2.6h-2.6zM1215 650h2.6v2.6h-2.6zM1215 660h2.6v2.6h-2.6zM1215 665h2.6v2.6h-2.6zM1215 672.5h2.6v2.6h-2.6zM1215 675h2.6v2.6h-2.6zM1215 727.5h2.6v2.6h-2.6zM1215 735h2.6v2.6h-2.6zM1215 737.5h2.6v2.6h-2.6zM1215 740h2.6v2.6h-2.6zM1215 742.5h2.6v2.6h-2.6zM1215 745h2.6v2.6h-2.6zM1215 747.5h2.6v2.6h-2.6zM1215 755h2.6v2.6h-2.6zM1215 760h2.6v2.6h-2.6zM1215 762.5h2.6v2.6h-2.6zM1215 765h2.6v2.6h-2.6zM1215 767.5h2.6v2.6h-2.6zM1215 770h2.6v2.6h-2.6zM1215 777.5h2.6v2.6h-2.6zM1215 790h2.6v2.6h-2.6zM1217.5 657.5h2.6v2.6h-2.6zM1217.5 660h2.6v2.6h-2.6zM1217.5 665h2.6v2.6h-2.6zM1217.5 705h2.6v2.6h-2.6zM1217.5 717.5h2.6v2.6h-2.6zM1217.5 722.5h2.6v2.6h-2.6zM1217.5 732.5h2.6v2.6h-2.6zM1217.5 735h2.6v2.6h-2.6zM1217.5 737.5h2.6v2.6h-2.6zM1217.5 745h2.6v2.6h-2.6zM1217.5 747.5h2.6v2.6h-2.6zM1217.5 750h2.6v2.6h-2.6zM1217.5 752.5h2.6v2.6h-2.6zM1217.5 755h2.6v2.6h-2.6zM1217.5 757.5h2.6v2.6h-2.6zM1217.5 770h2.6v2.6h-2.6zM1217.5 772.5h2.6v2.6h-2.6zM1217.5 785h2.6v2.6h-2.6zM1220 647.5h2.6v2.6h-2.6zM1220 652.5h2.6v2.6h-2.6zM1220 655h2.6v2.6h-2.6zM1220 657.5h2.6v2.6h-2.6zM1220 662.5h2.6v2.6h-2.6zM1220 667.5h2.6v2.6h-2.6zM1220 675h2.6v2.6h-2.6zM1220 717.5h2.6v2.6h-2.6zM1220 735h2.6v2.6h-2.6zM1220 745h2.6v2.6h-2.6zM1220 747.5h2.6v2.6h-2.6zM1220 750h2.6v2.6h-2.6zM1220 755h2.6v2.6h-2.6zM1220 757.5h2.6v2.6h-2.6zM1220 760h2.6v2.6h-2.6zM1220 765h2.6v2.6h-2.6zM1220 770h2.6v2.6h-2.6zM1220 775h2.6v2.6h-2.6zM1220 782.5h2.6v2.6h-2.6zM1220 785h2.6v2.6h-2.6zM1222.5 645h2.6v2.6h-2.6zM1222.5 650h2.6v2.6h-2.6zM1222.5 655h2.6v2.6h-2.6zM1222.5 657.5h2.6v2.6h-2.6zM1222.5 667.5h2.6v2.6h-2.6zM1222.5 685h2.6v2.6h-2.6zM1222.5 727.5h2.6v2.6h-2.6zM1222.5 732.5h2.6v2.6h-2.6zM1222.5 735h2.6v2.6h-2.6zM1222.5 737.5h2.6v2.6h-2.6zM1222.5 742.5h2.6v2.6h-2.6zM1222.5 745h2.6v2.6h-2.6zM1222.5 747.5h2.6v2.6h-2.6zM1222.5 760h2.6v2.6h-2.6zM1222.5 762.5h2.6v2.6h-2.6zM1222.5 770h2.6v2.6h-2.6zM1222.5 777.5h2.6v2.6h-2.6zM1225 645h2.6v2.6h-2.6zM1225 647.5h2.6v2.6h-2.6zM1225 660h2.6v2.6h-2.6zM1225 662.5h2.6v2.6h-2.6zM1225 670h2.6v2.6h-2.6zM1225 672.5h2.6v2.6h-2.6zM1225 687.5h2.6v2.6h-2.6zM1225 727.5h2.6v2.6h-2.6zM1225 730h2.6v2.6h-2.6zM1225 735h2.6v2.6h-2.6zM1225 742.5h2.6v2.6h-2.6zM1225 745h2.6v2.6h-2.6zM1225 747.5h2.6v2.6h-2.6zM1225 752.5h2.6v2.6h-2.6zM1225 755h2.6v2.6h-2.6zM1225 770h2.6v2.6h-2.6zM1227.5 645h2.6v2.6h-2.6zM1227.5 647.5h2.6v2.6h-2.6zM1227.5 652.5h2.6v2.6h-2.6zM1227.5 655h2.6v2.6h-2.6zM1227.5 657.5h2.6v2.6h-2.6zM1227.5 660h2.6v2.6h-2.6zM1227.5 662.5h2.6v2.6h-2.6zM1227.5 740h2.6v2.6h-2.6zM1227.5 742.5h2.6v2.6h-2.6zM1227.5 745h2.6v2.6h-2.6zM1227.5 747.5h2.6v2.6h-2.6zM1227.5 755h2.6v2.6h-2.6zM1227.5 760h2.6v2.6h-2.6zM1227.5 765h2.6v2.6h-2.6zM1227.5 770h2.6v2.6h-2.6zM1227.5 777.5h2.6v2.6h-2.6zM1230 642.5h2.6v2.6h-2.6zM1230 645h2.6v2.6h-2.6zM1230 647.5h2.6v2.6h-2.6zM1230 652.5h2.6v2.6h-2.6zM1230 655h2.6v2.6h-2.6zM1230 657.5h2.6v2.6h-2.6zM1230 662.5h2.6v2.6h-2.6zM1230 667.5h2.6v2.6h-2.6zM1230 670h2.6v2.6h-2.6zM1230 720h2.6v2.6h-2.6zM1230 730h2.6v2.6h-2.6zM1230 745h2.6v2.6h-2.6zM1230 775h2.6v2.6h-2.6zM1232.5 642.5h2.6v2.6h-2.6zM1232.5 652.5h2.6v2.6h-2.6zM1232.5 655h2.6v2.6h-2.6zM1232.5 660h2.6v2.6h-2.6zM1232.5 677.5h2.6v2.6h-2.6zM1232.5 725h2.6v2.6h-2.6zM1232.5 730h2.6v2.6h-2.6zM1232.5 735h2.6v2.6h-2.6zM1232.5 737.5h2.6v2.6h-2.6zM1232.5 742.5h2.6v2.6h-2.6zM1232.5 755h2.6v2.6h-2.6zM1235 637.5h2.6v2.6h-2.6zM1235 650h2.6v2.6h-2.6zM1235 652.5h2.6v2.6h-2.6zM1235 657.5h2.6v2.6h-2.6zM1235 712.5h2.6v2.6h-2.6zM1235 715h2.6v2.6h-2.6zM1235 725h2.6v2.6h-2.6zM1235 785h2.6v2.6h-2.6zM1235 787.5h2.6v2.6h-2.6zM1237.5 635h2.6v2.6h-2.6zM1237.5 637.5h2.6v2.6h-2.6zM1237.5 642.5h2.6v2.6h-2.6zM1237.5 645h2.6v2.6h-2.6zM1237.5 647.5h2.6v2.6h-2.6zM1237.5 652.5h2.6v2.6h-2.6zM1237.5 655h2.6v2.6h-2.6zM1237.5 662.5h2.6v2.6h-2.6zM1237.5 667.5h2.6v2.6h-2.6zM1237.5 670h2.6v2.6h-2.6zM1237.5 672.5h2.6v2.6h-2.6zM1237.5 685h2.6v2.6h-2.6zM1237.5 712.5h2.6v2.6h-2.6zM1237.5 740h2.6v2.6h-2.6zM1237.5 742.5h2.6v2.6h-2.6zM1237.5 762.5h2.6v2.6h-2.6zM1240 642.5h2.6v2.6h-2.6zM1240 645h2.6v2.6h-2.6zM1240 647.5h2.6v2.6h-2.6zM1240 650h2.6v2.6h-2.6zM1240 655h2.6v2.6h-2.6zM1240 657.5h2.6v2.6h-2.6zM1240 660h2.6v2.6h-2.6zM1240 662.5h2.6v2.6h-2.6zM1240 665h2.6v2.6h-2.6zM1240 667.5h2.6v2.6h-2.6zM1240 670h2.6v2.6h-2.6zM1240 682.5h2.6v2.6h-2.6zM1240 717.5h2.6v2.6h-2.6zM1240 735h2.6v2.6h-2.6zM1240 750h2.6v2.6h-2.6zM1242.5 645h2.6v2.6h-2.6zM1242.5 647.5h2.6v2.6h-2.6zM1242.5 650h2.6v2.6h-2.6zM1242.5 655h2.6v2.6h-2.6zM1242.5 657.5h2.6v2.6h-2.6zM1242.5 660h2.6v2.6h-2.6zM1242.5 665h2.6v2.6h-2.6zM1242.5 667.5h2.6v2.6h-2.6zM1242.5 672.5h2.6v2.6h-2.6zM1242.5 675h2.6v2.6h-2.6zM1242.5 677.5h2.6v2.6h-2.6zM1242.5 717.5h2.6v2.6h-2.6zM1242.5 725h2.6v2.6h-2.6zM1242.5 732.5h2.6v2.6h-2.6zM1242.5 762.5h2.6v2.6h-2.6zM1242.5 765h2.6v2.6h-2.6zM1245 645h2.6v2.6h-2.6zM1245 647.5h2.6v2.6h-2.6zM1245 650h2.6v2.6h-2.6zM1245 652.5h2.6v2.6h-2.6zM1245 655h2.6v2.6h-2.6zM1245 657.5h2.6v2.6h-2.6zM1245 660h2.6v2.6h-2.6zM1245 662.5h2.6v2.6h-2.6zM1245 665h2.6v2.6h-2.6zM1245 667.5h2.6v2.6h-2.6zM1245 675h2.6v2.6h-2.6zM1245 722.5h2.6v2.6h-2.6zM1245 737.5h2.6v2.6h-2.6zM1245 770h2.6v2.6h-2.6zM1245 780h2.6v2.6h-2.6zM1247.5 640h2.6v2.6h-2.6zM1247.5 642.5h2.6v2.6h-2.6zM1247.5 647.5h2.6v2.6h-2.6zM1247.5 650h2.6v2.6h-2.6zM1247.5 652.5h2.6v2.6h-2.6zM1247.5 655h2.6v2.6h-2.6zM1247.5 660h2.6v2.6h-2.6zM1247.5 665h2.6v2.6h-2.6zM1247.5 670h2.6v2.6h-2.6zM1247.5 680h2.6v2.6h-2.6zM1247.5 760h2.6v2.6h-2.6zM1247.5 790h2.6v2.6h-2.6zM1250 642.5h2.6v2.6h-2.6zM1250 645h2.6v2.6h-2.6zM1250 647.5h2.6v2.6h-2.6zM1250 650h2.6v2.6h-2.6zM1250 652.5h2.6v2.6h-2.6zM1250 655h2.6v2.6h-2.6zM1250 657.5h2.6v2.6h-2.6zM1250 660h2.6v2.6h-2.6zM1250 662.5h2.6v2.6h-2.6zM1250 665h2.6v2.6h-2.6zM1250 722.5h2.6v2.6h-2.6zM1250 727.5h2.6v2.6h-2.6zM1250 735h2.6v2.6h-2.6zM1252.5 640h2.6v2.6h-2.6zM1252.5 647.5h2.6v2.6h-2.6zM1252.5 652.5h2.6v2.6h-2.6zM1252.5 655h2.6v2.6h-2.6zM1252.5 657.5h2.6v2.6h-2.6zM1252.5 660h2.6v2.6h-2.6zM1252.5 665h2.6v2.6h-2.6zM1252.5 672.5h2.6v2.6h-2.6zM1252.5 675h2.6v2.6h-2.6zM1252.5 680h2.6v2.6h-2.6zM1252.5 722.5h2.6v2.6h-2.6zM1255 645h2.6v2.6h-2.6zM1255 647.5h2.6v2.6h-2.6zM1255 652.5h2.6v2.6h-2.6zM1255 655h2.6v2.6h-2.6zM1255 657.5h2.6v2.6h-2.6zM1255 660h2.6v2.6h-2.6zM1255 662.5h2.6v2.6h-2.6zM1255 665h2.6v2.6h-2.6zM1255 667.5h2.6v2.6h-2.6zM1257.5 637.5h2.6v2.6h-2.6zM1257.5 642.5h2.6v2.6h-2.6zM1257.5 645h2.6v2.6h-2.6zM1257.5 647.5h2.6v2.6h-2.6zM1257.5 650h2.6v2.6h-2.6zM1257.5 652.5h2.6v2.6h-2.6zM1257.5 655h2.6v2.6h-2.6zM1257.5 657.5h2.6v2.6h-2.6zM1257.5 660h2.6v2.6h-2.6zM1257.5 662.5h2.6v2.6h-2.6zM1257.5 665h2.6v2.6h-2.6zM1257.5 757.5h2.6v2.6h-2.6zM1260 645h2.6v2.6h-2.6zM1260 647.5h2.6v2.6h-2.6zM1260 650h2.6v2.6h-2.6zM1260 652.5h2.6v2.6h-2.6zM1260 655h2.6v2.6h-2.6zM1260 657.5h2.6v2.6h-2.6zM1260 662.5h2.6v2.6h-2.6zM1260 665h2.6v2.6h-2.6zM1260 667.5h2.6v2.6h-2.6zM1260 742.5h2.6v2.6h-2.6zM1262.5 642.5h2.6v2.6h-2.6zM1262.5 645h2.6v2.6h-2.6zM1262.5 647.5h2.6v2.6h-2.6zM1262.5 652.5h2.6v2.6h-2.6zM1262.5 655h2.6v2.6h-2.6zM1262.5 657.5h2.6v2.6h-2.6zM1262.5 660h2.6v2.6h-2.6zM1262.5 662.5h2.6v2.6h-2.6zM1262.5 665h2.6v2.6h-2.6zM1262.5 667.5h2.6v2.6h-2.6zM1262.5 670h2.6v2.6h-2.6zM1262.5 725h2.6v2.6h-2.6zM1262.5 737.5h2.6v2.6h-2.6zM1265 640h2.6v2.6h-2.6zM1265 645h2.6v2.6h-2.6zM1265 652.5h2.6v2.6h-2.6zM1265 657.5h2.6v2.6h-2.6zM1265 660h2.6v2.6h-2.6zM1265 662.5h2.6v2.6h-2.6zM1265 665h2.6v2.6h-2.6zM1265 667.5h2.6v2.6h-2.6zM1265 670h2.6v2.6h-2.6zM1265 740h2.6v2.6h-2.6zM1265 745h2.6v2.6h-2.6zM1265 775h2.6v2.6h-2.6zM1265 787.5h2.6v2.6h-2.6zM1267.5 650h2.6v2.6h-2.6zM1267.5 652.5h2.6v2.6h-2.6zM1267.5 655h2.6v2.6h-2.6zM1267.5 657.5h2.6v2.6h-2.6zM1267.5 660h2.6v2.6h-2.6zM1267.5 662.5h2.6v2.6h-2.6zM1267.5 665h2.6v2.6h-2.6zM1267.5 667.5h2.6v2.6h-2.6zM1267.5 670h2.6v2.6h-2.6zM1267.5 715h2.6v2.6h-2.6zM1267.5 762.5h2.6v2.6h-2.6zM1270 645h2.6v2.6h-2.6zM1270 650h2.6v2.6h-2.6zM1270 652.5h2.6v2.6h-2.6zM1270 655h2.6v2.6h-2.6zM1270 657.5h2.6v2.6h-2.6zM1270 660h2.6v2.6h-2.6zM1270 665h2.6v2.6h-2.6zM1270 667.5h2.6v2.6h-2.6zM1270 672.5h2.6v2.6h-2.6zM1270 722.5h2.6v2.6h-2.6zM1270 730h2.6v2.6h-2.6zM1272.5 652.5h2.6v2.6h-2.6zM1272.5 655h2.6v2.6h-2.6zM1272.5 657.5h2.6v2.6h-2.6zM1272.5 660h2.6v2.6h-2.6zM1272.5 665h2.6v2.6h-2.6zM1272.5 670h2.6v2.6h-2.6zM1272.5 767.5h2.6v2.6h-2.6zM1275 632.5h2.6v2.6h-2.6zM1275 650h2.6v2.6h-2.6zM1275 652.5h2.6v2.6h-2.6zM1275 660h2.6v2.6h-2.6zM1275 670h2.6v2.6h-2.6zM1275 675h2.6v2.6h-2.6zM1275 790h2.6v2.6h-2.6zM1277.5 647.5h2.6v2.6h-2.6zM1277.5 652.5h2.6v2.6h-2.6zM1277.5 655h2.6v2.6h-2.6zM1277.5 662.5h2.6v2.6h-2.6zM1277.5 665h2.6v2.6h-2.6zM1277.5 670h2.6v2.6h-2.6zM1277.5 772.5h2.6v2.6h-2.6zM1280 632.5h2.6v2.6h-2.6zM1280 647.5h2.6v2.6h-2.6zM1280 652.5h2.6v2.6h-2.6zM1280 662.5h2.6v2.6h-2.6zM1280 667.5h2.6v2.6h-2.6zM1280 677.5h2.6v2.6h-2.6zM1280 720h2.6v2.6h-2.6zM1282.5 645h2.6v2.6h-2.6zM1282.5 647.5h2.6v2.6h-2.6zM1282.5 650h2.6v2.6h-2.6zM1282.5 652.5h2.6v2.6h-2.6zM1282.5 655h2.6v2.6h-2.6zM1282.5 657.5h2.6v2.6h-2.6zM1282.5 662.5h2.6v2.6h-2.6zM1282.5 667.5h2.6v2.6h-2.6zM1285 657.5h2.6v2.6h-2.6zM1285 660h2.6v2.6h-2.6zM1285 665h2.6v2.6h-2.6zM1285 667.5h2.6v2.6h-2.6zM1285 735h2.6v2.6h-2.6zM1287.5 650h2.6v2.6h-2.6zM1287.5 657.5h2.6v2.6h-2.6zM1287.5 662.5h2.6v2.6h-2.6zM1290 650h2.6v2.6h-2.6zM1292.5 720h2.6v2.6h-2.6zM1295 682.5h2.6v2.6h-2.6zM1300 687.5h2.6v2.6h-2.6zM1302.5 690h2.6v2.6h-2.6zM1305 655h2.6v2.6h-2.6zM1310 740h2.6v2.6h-2.6zM1312.5 750h2.6v2.6h-2.6zM1315 735h2.6v2.6h-2.6zM1337.5 730h2.6v2.6h-2.6z"/>
<path d="M1132.1 576.2H1384.6V794.6H1132.1ZM1225.9 576.2V794.6M1132.1 708.2H1384.6" stroke="#000" stroke-width="2.4" fill="none"/>
<path d="M1134.1 794.6v9M1132.1 794.6h-8.5M1153 794.6v4.5M1132.1 778.2h-4.5M1164 794.6v4.5M1132.1 768.5h-4.5M1171.8 794.6v4.5M1132.1 761.7h-4.5M1177.9 794.6v4.5M1132.1 756.4h-4.5M1182.8 794.6v4.5M1132.1 752.1h-4.5M1187 794.6v4.5M1132.1 748.5h-4.5M1190.7 794.6v4.5M1132.1 745.3h-4.5M1193.9 794.6v4.5M1132.1 742.5h-4.5M1196.7 794.6v9M1132.1 740h-8.5M1215.6 794.6v4.5M1132.1 723.6h-4.5M1226.6 794.6v4.5M1132.1 713.9h-4.5M1234.4 794.6v4.5M1132.1 707.1h-4.5M1240.5 794.6v4.5M1132.1 701.8h-4.5M1245.5 794.6v4.5M1132.1 697.5h-4.5M1249.6 794.6v4.5M1132.1 693.9h-4.5M1253.3 794.6v4.5M1132.1 690.7h-4.5M1256.5 794.6v4.5M1132.1 687.9h-4.5M1259.3 794.6v9M1132.1 685.4h-8.5M1278.2 794.6v4.5M1132.1 669h-4.5M1289.2 794.6v4.5M1132.1 659.3h-4.5M1297.1 794.6v4.5M1132.1 652.5h-4.5M1303.1 794.6v4.5M1132.1 647.2h-4.5M1308.1 794.6v4.5M1132.1 642.9h-4.5M1312.3 794.6v4.5M1132.1 639.3h-4.5M1315.9 794.6v4.5M1132.1 636.1h-4.5M1319.1 794.6v4.5M1132.1 633.3h-4.5M1322 794.6v9M1132.1 630.8h-8.5M1340.8 794.6v4.5M1132.1 614.4h-4.5M1351.9 794.6v4.5M1132.1 604.7h-4.5M1359.7 794.6v4.5M1132.1 597.9h-4.5M1365.7 794.6v4.5M1132.1 592.6h-4.5M1370.7 794.6v4.5M1132.1 588.3h-4.5M1374.9 794.6v4.5M1132.1 584.7h-4.5M1378.5 794.6v4.5M1132.1 581.5h-4.5M1381.7 794.6v4.5M1132.1 578.7h-4.5M1384.6 794.6v9M1132.1 576.2h-8.5" stroke="#000" stroke-width="2.4" fill="none"/>
<text class="S" x="1120.6" y="825.3" font-size="19.4" font-weight="bold" textLength="17.5" lengthAdjust="spacingAndGlyphs">10</text>
<text class="S" x="1137.7" y="815.5" font-size="22.3" textLength="11.6" lengthAdjust="spacingAndGlyphs">0</text>
<text class="S" x="1183.2" y="825.3" font-size="19.4" font-weight="bold" textLength="17.5" lengthAdjust="spacingAndGlyphs">10</text>
<text class="S" x="1199.4" y="815.7" font-size="22.9" textLength="12.8" lengthAdjust="spacingAndGlyphs">1</text>
<text class="S" x="1245.8" y="825.3" font-size="19.4" font-weight="bold" textLength="17.5" lengthAdjust="spacingAndGlyphs">10</text>
<text class="S" x="1262.7" y="815.7" font-size="22.6" textLength="12.2" lengthAdjust="spacingAndGlyphs">2</text>
<text class="S" x="1308.4" y="825.3" font-size="19.4" font-weight="bold" textLength="17.5" lengthAdjust="spacingAndGlyphs">10</text>
<text class="S" x="1325.5" y="815.5" font-size="22.3" textLength="11.7" lengthAdjust="spacingAndGlyphs">3</text>
<text class="S" x="1371.1" y="825.3" font-size="19.4" font-weight="bold" textLength="17.5" lengthAdjust="spacingAndGlyphs">10</text>
<text class="S" x="1388.6" y="815.7" font-size="22.9" textLength="11" lengthAdjust="spacingAndGlyphs">4</text>
<text class="S" transform="translate(0,806.4) rotate(-90)" x="-0.9" y="1117.8" font-size="21.7" font-weight="bold" textLength="16.5" lengthAdjust="spacingAndGlyphs">10</text>
<text class="S" transform="translate(0,787.4) rotate(-90)" x="-0.8" y="1106.7" font-size="19.7" textLength="11.6" lengthAdjust="spacingAndGlyphs">0</text>
<text class="S" transform="translate(0,751.8) rotate(-90)" x="-0.9" y="1117.8" font-size="21.7" font-weight="bold" textLength="16.5" lengthAdjust="spacingAndGlyphs">10</text>
<text class="S" transform="translate(0,732.8) rotate(-90)" x="-1.7" y="1106.9" font-size="20.3" textLength="12.8" lengthAdjust="spacingAndGlyphs">1</text>
<text class="S" transform="translate(0,697.2) rotate(-90)" x="-0.9" y="1117.8" font-size="21.7" font-weight="bold" textLength="16.5" lengthAdjust="spacingAndGlyphs">10</text>
<text class="S" transform="translate(0,678.2) rotate(-90)" x="-1.1" y="1106.9" font-size="20" textLength="12.2" lengthAdjust="spacingAndGlyphs">2</text>
<text class="S" transform="translate(0,642.6) rotate(-90)" x="-0.9" y="1117.8" font-size="21.7" font-weight="bold" textLength="16.5" lengthAdjust="spacingAndGlyphs">10</text>
<text class="S" transform="translate(0,623.6) rotate(-90)" x="-0.8" y="1106.7" font-size="19.7" textLength="11.7" lengthAdjust="spacingAndGlyphs">3</text>
<text class="S" transform="translate(0,588) rotate(-90)" x="-0.9" y="1117.8" font-size="21.7" font-weight="bold" textLength="16.5" lengthAdjust="spacingAndGlyphs">10</text>
<text class="S" transform="translate(0,569) rotate(-90)" x="-0.4" y="1106.9" font-size="20.3" textLength="11" lengthAdjust="spacingAndGlyphs">4</text>
<text class="S" transform="translate(0,694.7) rotate(-90)" x="-1.5" y="1093.2" font-size="22.8" textLength="17.5" lengthAdjust="spacingAndGlyphs">PI</text>
<text class="M" x="1215.2" y="844.7" font-size="16.7" textLength="129.1" lengthAdjust="spacingAndGlyphs" stroke="#000" stroke-width="0.35">Annexin V-FITC</text>
<text class="S" x="1315.6" y="602.8" font-size="21.3" textLength="53.1" lengthAdjust="spacingAndGlyphs">17. 8%</text>
<text class="S" x="1321" y="777.6" font-size="21.1" textLength="53.8" lengthAdjust="spacingAndGlyphs">5. 41%</text>
<text class="S" x="1575.7" y="534.9" font-size="29" textLength="46.1" lengthAdjust="spacingAndGlyphs" stroke="#000" stroke-width="0.2">200</text>
<text class="S" x="1629.9" y="534.1" font-size="26.2" textLength="16.6" lengthAdjust="spacingAndGlyphs" stroke="#000" stroke-width="0.2">μ</text>
<text class="S" x="1652.4" y="535.2" font-size="29.9" font-weight="bold" textLength="15.7" lengthAdjust="spacingAndGlyphs" stroke="#000" stroke-width="0.7">M</text>
<path fill="#333" d="M1525 772.5h2.6v2.6h-2.6zM1527.5 755h2.6v2.6h-2.6zM1527.5 787.5h2.6v2.6h-2.6zM1530 740h2.6v2.6h-2.6zM1530 772.5h2.6v2.6h-2.6zM1530 777.5h2.6v2.6h-2.6zM1532.5 747.5h2.6v2.6h-2.6zM1532.5 770h2.6v2.6h-2.6zM1532.5 780h2.6v2.6h-2.6zM1532.5 785h2.6v2.6h-2.6zM1535 742.5h2.6v2.6h-2.6zM1535 775h2.6v2.6h-2.6zM1535 787.5h2.6v2.6h-2.6zM1535 790h2.6v2.6h-2.6zM1537.5 742.5h2.6v2.6h-2.6zM1537.5 750h2.6v2.6h-2.6zM1537.5 775h2.6v2.6h-2.6zM1537.5 782.5h2.6v2.6h-2.6zM1540 755h2.6v2.6h-2.6zM1542.5 757.5h2.6v2.6h-2.6zM1542.5 772.5h2.6v2.6h-2.6zM1542.5 777.5h2.6v2.6h-2.6zM1545 752.5h2.6v2.6h-2.6zM1545 755h2.6v2.6h-2.6zM1545 760h2.6v2.6h-2.6zM1545 762.5h2.6v2.6h-2.6zM1545 775h2.6v2.6h-2.6zM1545 780h2.6v2.6h-2.6zM1545 787.5h2.6v2.6h-2.6zM1545 790h2.6v2.6h-2.6zM1547.5 760h2.6v2.6h-2.6zM1547.5 765h2.6v2.6h-2.6zM1547.5 767.5h2.6v2.6h-2.6zM1547.5 772.5h2.6v2.6h-2.6zM1547.5 775h2.6v2.6h-2.6zM1547.5 780h2.6v2.6h-2.6zM1547.5 785h2.6v2.6h-2.6zM1550 755h2.6v2.6h-2.6zM1550 757.5h2.6v2.6h-2.6zM1550 762.5h2.6v2.6h-2.6zM1550 767.5h2.6v2.6h-2.6zM1550 770h2.6v2.6h-2.6zM1550 775h2.6v2.6h-2.6zM1550 777.5h2.6v2.6h-2.6zM1550 780h2.6v2.6h-2.6zM1552.5 737.5h2.6v2.6h-2.6zM1552.5 740h2.6v2.6h-2.6zM1552.5 750h2.6v2.6h-2.6zM1552.5 752.5h2.6v2.6h-2.6zM1552.5 755h2.6v2.6h-2.6zM1552.5 757.5h2.6v2.6h-2.6zM1552.5 760h2.6v2.6h-2.6zM1552.5 762.5h2.6v2.6h-2.6zM1552.5 765h2.6v2.6h-2.6zM1552.5 767.5h2.6v2.6h-2.6zM1552.5 770h2.6v2.6h-2.6zM1552.5 772.5h2.6v2.6h-2.6zM1552.5 775h2.6v2.6h-2.6zM1552.5 777.5h2.6v2.6h-2.6zM1552.5 780h2.6v2.6h-2.6zM1552.5 785h2.6v2.6h-2.6zM1552.5 787.5h2.6v2.6h-2.6zM1555 650h2.6v2.6h-2.6zM1555 740h2.6v2.6h-2.6zM1555 742.5h2.6v2.6h-2.6zM1555 750h2.6v2.6h-2.6zM1555 752.5h2.6v2.6h-2.6zM1555 755h2.6v2.6h-2.6zM1555 757.5h2.6v2.6h-2.6zM1555 760h2.6v2.6h-2.6zM1555 762.5h2.6v2.6h-2.6zM1555 765h2.6v2.6h-2.6zM1555 767.5h2.6v2.6h-2.6zM1555 770h2.6v2.6h-2.6zM1555 772.5h2.6v2.6h-2.6zM1555 777.5h2.6v2.6h-2.6zM1555 780h2.6v2.6h-2.6zM1555 787.5h2.6v2.6h-2.6zM1557.5 700h2.6v2.6h-2.6zM1557.5 732.5h2.6v2.6h-2.6zM1557.5 735h2.6v2.6h-2.6zM1557.5 745h2.6v2.6h-2.6zM1557.5 747.5h2.6v2.6h-2.6zM1557.5 750h2.6v2.6h-2.6zM1557.5 752.5h2.6v2.6h-2.6zM1557.5 755h2.6v2.6h-2.6zM1557.5 757.5h2.6v2.6h-2.6zM1557.5 760h2.6v2.6h-2.6zM1557.5 765h2.6v2.6h-2.6zM1557.5 767.5h2.6v2.6h-2.6zM1557.5 770h2.6v2.6h-2.6zM1557.5 772.5h2.6v2.6h-2.6zM1557.5 775h2.6v2.6h-2.6zM1557.5 777.5h2.6v2.6h-2.6zM1557.5 780h2.6v2.6h-2.6zM1557.5 785h2.6v2.6h-2.6zM1560 650h2.6v2.6h-2.6zM1560 737.5h2.6v2.6h-2.6zM1560 742.5h2.6v2.6h-2.6zM1560 745h2.6v2.6h-2.6zM1560 747.5h2.6v2.6h-2.6zM1560 752.5h2.6v2.6h-2.6zM1560 755h2.6v2.6h-2.6zM1560 757.5h2.6v2.6h-2.6zM1560 760h2.6v2.6h-2.6zM1560 762.5h2.6v2.6h-2.6zM1560 765h2.6v2.6h-2.6zM1560 767.5h2.6v2.6h-2.6zM1560 770h2.6v2.6h-2.6zM1560 772.5h2.6v2.6h-2.6zM1560 775h2.6v2.6h-2.6zM1560 777.5h2.6v2.6h-2.6zM1560 782.5h2.6v2.6h-2.6zM1560 787.5h2.6v2.6h-2.6zM1560 790h2.6v2.6h-2.6zM1562.5 630h2.6v2.6h-2.6zM1562.5 650h2.6v2.6h-2.6zM1562.5 667.5h2.6v2.6h-2.6zM1562.5 687.5h2.6v2.6h-2.6zM1562.5 735h2.6v2.6h-2.6zM1562.5 740h2.6v2.6h-2.6zM1562.5 742.5h2.6v2.6h-2.6zM1562.5 745h2.6v2.6h-2.6zM1562.5 747.5h2.6v2.6h-2.6zM1562.5 750h2.6v2.6h-2.6zM1562.5 752.5h2.6v2.6h-2.6zM1562.5 755h2.6v2.6h-2.6zM1562.5 757.5h2.6v2.6h-2.6zM1562.5 762.5h2.6v2.6h-2.6zM1562.5 765h2.6v2.6h-2.6zM1562.5 767.5h2.6v2.6h-2.6zM1562.5 770h2.6v2.6h-2.6zM1562.5 772.5h2.6v2.6h-2.6zM1562.5 775h2.6v2.6h-2.6zM1562.5 777.5h2.6v2.6h-2.6zM1562.5 780h2.6v2.6h-2.6zM1562.5 782.5h2.6v2.6h-2.6zM1562.5 785h2.6v2.6h-2.6zM1562.5 787.5h2.6v2.6h-2.6zM1565 730h2.6v2.6h-2.6zM1565 735h2.6v2.6h-2.6zM1565 745h2.6v2.6h-2.6zM1565 747.5h2.6v2.6h-2.6zM1565 750h2.6v2.6h-2.6zM1565 752.5h2.6v2.6h-2.6zM1565 757.5h2.6v2.6h-2.6zM1565 760h2.6v2.6h-2.6zM1565 762.5h2.6v2.6h-2.6zM1565 765h2.6v2.6h-2.6zM1565 767.5h2.6v2.6h-2.6zM1565 770h2.6v2.6h-2.6zM1565 772.5h2.6v2.6h-2.6zM1565 775h2.6v2.6h-2.6zM1565 777.5h2.6v2.6h-2.6zM1565 782.5h2.6v2.6h-2.6zM1567.5 687.5h2.6v2.6h-2.6zM1567.5 720h2.6v2.6h-2.6zM1567.5 732.5h2.6v2.6h-2.6zM1567.5 735h2.6v2.6h-2.6zM1567.5 742.5h2.6v2.6h-2.6zM1567.5 745h2.6v2.6h-2.6zM1567.5 747.5h2.6v2.6h-2.6zM1567.5 750h2.6v2.6h-2.6zM1567.5 752.5h2.6v2.6h-2.6zM1567.5 755h2.6v2.6h-2.6zM1567.5 757.5h2.6v2.6h-2.6zM1567.5 760h2.6v2.6h-2.6zM1567.5 762.5h2.6v2.6h-2.6zM1567.5 765h2.6v2.6h-2.6zM1567.5 770h2.6v2.6h-2.6zM1567.5 772.5h2.6v2.6h-2.6zM1567.5 775h2.6v2.6h-2.6zM1567.5 777.5h2.6v2.6h-2.6zM1567.5 782.5h2.6v2.6h-2.6zM1567.5 785h2.6v2.6h-2.6zM1567.5 790h2.6v2.6h-2.6zM1570 660h2.6v2.6h-2.6zM1570 697.5h2.6v2.6h-2.6zM1570 727.5h2.6v2.6h-2.6zM1570 730h2.6v2.6h-2.6zM1570 735h2.6v2.6h-2.6zM1570 737.5h2.6v2.6h-2.6zM1570 740h2.6v2.6h-2.6zM1570 742.5h2.6v2.6h-2.6zM1570 745h2.6v2.6h-2.6zM1570 747.5h2.6v2.6h-2.6zM1570 750h2.6v2.6h-2.6zM1570 752.5h2.6v2.6h-2.6zM1570 755h2.6v2.6h-2.6zM1570 757.5h2.6v2.6h-2.6zM1570 760h2.6v2.6h-2.6zM1570 762.5h2.6v2.6h-2.6zM1570 765h2.6v2.6h-2.6zM1570 767.5h2.6v2.6h-2.6zM1570 770h2.6v2.6h-2.6zM1570 772.5h2.6v2.6h-2.6zM1570 775h2.6v2.6h-2.6zM1570 777.5h2.6v2.6h-2.6zM1570 785h2.6v2.6h-2.6zM1572.5 665h2.6v2.6h-2.6zM1572.5 712.5h2.6v2.6h-2.6zM1572.5 717.5h2.6v2.6h-2.6zM1572.5 720h2.6v2.6h-2.6zM1572.5 727.5h2.6v2.6h-2.6zM1572.5 732.5h2.6v2.6h-2.6zM1572.5 735h2.6v2.6h-2.6zM1572.5 737.5h2.6v2.6h-2.6zM1572.5 740h2.6v2.6h-2.6zM1572.5 742.5h2.6v2.6h-2.6zM1572.5 745h2.6v2.6h-2.6zM1572.5 747.5h2.6v2.6h-2.6zM1572.5 750h2.6v2.6h-2.6zM1572.5 752.5h2.6v2.6h-2.6zM1572.5 755h2.6v2.6h-2.6zM1572.5 757.5h2.6v2.6h-2.6zM1572.5 760h2.6v2.6h-2.6zM1572.5 762.5h2.6v2.6h-2.6zM1572.5 765h2.6v2.6h-2.6zM1572.5 767.5h2.6v2.6h-2.6zM1572.5 770h2.6v2.6h-2.6zM1572.5 775h2.6v2.6h-2.6zM1572.5 777.5h2.6v2.6h-2.6zM1572.5 780h2.6v2.6h-2.6zM1572.5 782.5h2.6v2.6h-2.6zM1575 660h2.6v2.6h-2.6zM1575 722.5h2.6v2.6h-2.6zM1575 737.5h2.6v2.6h-2.6zM1575 740h2.6v2.6h-2.6zM1575 742.5h2.6v2.6h-2.6zM1575 745h2.6v2.6h-2.6zM1575 747.5h2.6v2.6h-2.6zM1575 750h2.6v2.6h-2.6zM1575 752.5h2.6v2.6h-2.6zM1575 755h2.6v2.6h-2.6zM1575 757.5h2.6v2.6h-2.6zM1575 760h2.6v2.6h-2.6zM1575 762.5h2.6v2.6h-2.6zM1575 765h2.6v2.6h-2.6zM1575 767.5h2.6v2.6h-2.6zM1575 770h2.6v2.6h-2.6zM1575 772.5h2.6v2.6h-2.6zM1575 775h2.6v2.6h-2.6zM1575 777.5h2.6v2.6h-2.6zM1575 782.5h2.6v2.6h-2.6zM1575 790h2.6v2.6h-2.6zM1577.5 722.5h2.6v2.6h-2.6zM1577.5 725h2.6v2.6h-2.6zM1577.5 727.5h2.6v2.6h-2.6zM1577.5 737.5h2.6v2.6h-2.6zM1577.5 740h2.6v2.6h-2.6zM1577.5 742.5h2.6v2.6h-2.6zM1577.5 745h2.6v2.6h-2.6zM1577.5 747.5h2.6v2.6h-2.6zM1577.5 750h2.6v2.6h-2.6zM1577.5 752.5h2.6v2.6h-2.6zM1577.5 755h2.6v2.6h-2.6zM1577.5 757.5h2.6v2.6h-2.6zM1577.5 760h2.6v2.6h-2.6zM1577.5 762.5h2.6v2.6h-2.6zM1577.5 765h2.6v2.6h-2.6zM1577.5 767.5h2.6v2.6h-2.6zM1577.5 770h2.6v2.6h-2.6zM1577.5 772.5h2.6v2.6h-2.6zM1577.5 775h2.6v2.6h-2.6zM1580 722.5h2.6v2.6h-2.6zM1580 727.5h2.6v2.6h-2.6zM1580 730h2.6v2.6h-2.6zM1580 740h2.6v2.6h-2.6zM1580 742.5h2.6v2.6h-2.6zM1580 745h2.6v2.6h-2.6zM1580 747.5h2.6v2.6h-2.6zM1580 750h2.6v2.6h-2.6zM1580 752.5h2.6v2.6h-2.6zM1580 755h2.6v2.6h-2.6zM1580 757.5h2.6v2.6h-2.6zM1580 760h2.6v2.6h-2.6zM1580 762.5h2.6v2.6h-2.6zM1580 770h2.6v2.6h-2.6zM1580 772.5h2.6v2.6h-2.6zM1580 777.5h2.6v2.6h-2.6zM1580 780h2.6v2.6h-2.6zM1582.5 687.5h2.6v2.6h-2.6zM1582.5 707.5h2.6v2.6h-2.6zM1582.5 717.5h2.6v2.6h-2.6zM1582.5 725h2.6v2.6h-2.6zM1582.5 732.5h2.6v2.6h-2.6zM1582.5 735h2.6v2.6h-2.6zM1582.5 737.5h2.6v2.6h-2.6zM1582.5 740h2.6v2.6h-2.6zM1582.5 742.5h2.6v2.6h-2.6zM1582.5 745h2.6v2.6h-2.6zM1582.5 747.5h2.6v2.6h-2.6zM1582.5 750h2.6v2.6h-2.6zM1582.5 752.5h2.6v2.6h-2.6zM1582.5 755h2.6v2.6h-2.6zM1582.5 757.5h2.6v2.6h-2.6zM1582.5 760h2.6v2.6h-2.6zM1582.5 762.5h2.6v2.6h-2.6zM1582.5 765h2.6v2.6h-2.6zM1582.5 767.5h2.6v2.6h-2.6zM1582.5 770h2.6v2.6h-2.6zM1582.5 775h2.6v2.6h-2.6zM1582.5 782.5h2.6v2.6h-2.6zM1585 657.5h2.6v2.6h-2.6zM1585 717.5h2.6v2.6h-2.6zM1585 727.5h2.6v2.6h-2.6zM1585 730h2.6v2.6h-2.6zM1585 735h2.6v2.6h-2.6zM1585 737.5h2.6v2.6h-2.6zM1585 742.5h2.6v2.6h-2.6zM1585 745h2.6v2.6h-2.6zM1585 747.5h2.6v2.6h-2.6zM1585 750h2.6v2.6h-2.6zM1585 752.5h2.6v2.6h-2.6zM1585 755h2.6v2.6h-2.6zM1585 757.5h2.6v2.6h-2.6zM1585 760h2.6v2.6h-2.6zM1585 762.5h2.6v2.6h-2.6zM1585 765h2.6v2.6h-2.6zM1585 772.5h2.6v2.6h-2.6zM1587.5 657.5h2.6v2.6h-2.6zM1587.5 662.5h2.6v2.6h-2.6zM1587.5 727.5h2.6v2.6h-2.6zM1587.5 737.5h2.6v2.6h-2.6zM1587.5 740h2.6v2.6h-2.6zM1587.5 742.5h2.6v2.6h-2.6zM1587.5 745h2.6v2.6h-2.6zM1587.5 747.5h2.6v2.6h-2.6zM1587.5 750h2.6v2.6h-2.6zM1587.5 752.5h2.6v2.6h-2.6zM1587.5 755h2.6v2.6h-2.6zM1587.5 757.5h2.6v2.6h-2.6zM1587.5 760h2.6v2.6h-2.6zM1587.5 762.5h2.6v2.6h-2.6zM1587.5 765h2.6v2.6h-2.6zM1587.5 770h2.6v2.6h-2.6zM1590 717.5h2.6v2.6h-2.6zM1590 730h2.6v2.6h-2.6zM1590 732.5h2.6v2.6h-2.6zM1590 735h2.6v2.6h-2.6zM1590 737.5h2.6v2.6h-2.6zM1590 740h2.6v2.6h-2.6zM1590 742.5h2.6v2.6h-2.6zM1590 745h2.6v2.6h-2.6zM1590 752.5h2.6v2.6h-2.6zM1590 757.5h2.6v2.6h-2.6zM1590 760h2.6v2.6h-2.6zM1590 762.5h2.6v2.6h-2.6zM1590 767.5h2.6v2.6h-2.6zM1590 777.5h2.6v2.6h-2.6zM1592.5 640h2.6v2.6h-2.6zM1592.5 725h2.6v2.6h-2.6zM1592.5 730h2.6v2.6h-2.6zM1592.5 732.5h2.6v2.6h-2.6zM1592.5 735h2.6v2.6h-2.6zM1592.5 737.5h2.6v2.6h-2.6zM1592.5 745h2.6v2.6h-2.6zM1592.5 750h2.6v2.6h-2.6zM1592.5 752.5h2.6v2.6h-2.6zM1592.5 755h2.6v2.6h-2.6zM1592.5 762.5h2.6v2.6h-2.6zM1595 712.5h2.6v2.6h-2.6zM1595 722.5h2.6v2.6h-2.6zM1595 725h2.6v2.6h-2.6zM1595 727.5h2.6v2.6h-2.6zM1595 732.5h2.6v2.6h-2.6zM1595 737.5h2.6v2.6h-2.6zM1595 740h2.6v2.6h-2.6zM1595 742.5h2.6v2.6h-2.6zM1595 745h2.6v2.6h-2.6zM1595 752.5h2.6v2.6h-2.6zM1595 755h2.6v2.6h-2.6zM1595 757.5h2.6v2.6h-2.6zM1595 760h2.6v2.6h-2.6zM1595 762.5h2.6v2.6h-2.6zM1595 765h2.6v2.6h-2.6zM1595 770h2.6v2.6h-2.6zM1595 772.5h2.6v2.6h-2.6zM1597.5 650h2.6v2.6h-2.6zM1597.5 662.5h2.6v2.6h-2.6zM1597.5 670h2.6v2.6h-2.6zM1597.5 680h2.6v2.6h-2.6zM1597.5 727.5h2.6v2.6h-2.6zM1597.5 730h2.6v2.6h-2.6zM1597.5 735h2.6v2.6h-2.6zM1597.5 740h2.6v2.6h-2.6zM1597.5 742.5h2.6v2.6h-2.6zM1597.5 747.5h2.6v2.6h-2.6zM1597.5 750h2.6v2.6h-2.6zM1597.5 762.5h2.6v2.6h-2.6zM1597.5 765h2.6v2.6h-2.6zM1597.5 782.5h2.6v2.6h-2.6zM1600 705h2.6v2.6h-2.6zM1600 725h2.6v2.6h-2.6zM1600 732.5h2.6v2.6h-2.6zM1600 737.5h2.6v2.6h-2.6zM1600 740h2.6v2.6h-2.6zM1600 742.5h2.6v2.6h-2.6zM1600 745h2.6v2.6h-2.6zM1600 750h2.6v2.6h-2.6zM1600 752.5h2.6v2.6h-2.6zM1600 762.5h2.6v2.6h-2.6zM1600 767.5h2.6v2.6h-2.6zM1602.5 682.5h2.6v2.6h-2.6zM1602.5 710h2.6v2.6h-2.6zM1602.5 717.5h2.6v2.6h-2.6zM1602.5 740h2.6v2.6h-2.6zM1602.5 742.5h2.6v2.6h-2.6zM1602.5 745h2.6v2.6h-2.6zM1602.5 747.5h2.6v2.6h-2.6zM1602.5 750h2.6v2.6h-2.6zM1602.5 752.5h2.6v2.6h-2.6zM1602.5 755h2.6v2.6h-2.6zM1602.5 757.5h2.6v2.6h-2.6zM1602.5 767.5h2.6v2.6h-2.6zM1605 670h2.6v2.6h-2.6zM1605 672.5h2.6v2.6h-2.6zM1605 695h2.6v2.6h-2.6zM1605 730h2.6v2.6h-2.6zM1605 735h2.6v2.6h-2.6zM1605 737.5h2.6v2.6h-2.6zM1605 742.5h2.6v2.6h-2.6zM1605 747.5h2.6v2.6h-2.6zM1605 750h2.6v2.6h-2.6zM1607.5 645h2.6v2.6h-2.6zM1607.5 647.5h2.6v2.6h-2.6zM1607.5 652.5h2.6v2.6h-2.6zM1607.5 657.5h2.6v2.6h-2.6zM1607.5 660h2.6v2.6h-2.6zM1607.5 665h2.6v2.6h-2.6zM1607.5 670h2.6v2.6h-2.6zM1607.5 672.5h2.6v2.6h-2.6zM1607.5 687.5h2.6v2.6h-2.6zM1607.5 710h2.6v2.6h-2.6zM1607.5 727.5h2.6v2.6h-2.6zM1607.5 737.5h2.6v2.6h-2.6zM1607.5 760h2.6v2.6h-2.6zM1607.5 770h2.6v2.6h-2.6zM1610 642.5h2.6v2.6h-2.6zM1610 655h2.6v2.6h-2.6zM1610 657.5h2.6v2.6h-2.6zM1610 660h2.6v2.6h-2.6zM1610 667.5h2.6v2.6h-2.6zM1610 680h2.6v2.6h-2.6zM1610 685h2.6v2.6h-2.6zM1610 730h2.6v2.6h-2.6zM1610 732.5h2.6v2.6h-2.6zM1610 737.5h2.6v2.6h-2.6zM1610 767.5h2.6v2.6h-2.6zM1612.5 640h2.6v2.6h-2.6zM1612.5 650h2.6v2.6h-2.6zM1612.5 655h2.6v2.6h-2.6zM1612.5 667.5h2.6v2.6h-2.6zM1612.5 745h2.6v2.6h-2.6zM1612.5 747.5h2.6v2.6h-2.6zM1615 650h2.6v2.6h-2.6zM1615 655h2.6v2.6h-2.6zM1615 657.5h2.6v2.6h-2.6zM1615 667.5h2.6v2.6h-2.6zM1615 675h2.6v2.6h-2.6zM1615 685h2.6v2.6h-2.6zM1615 687.5h2.6v2.6h-2.6zM1615 690h2.6v2.6h-2.6zM1615 722.5h2.6v2.6h-2.6zM1615 777.5h2.6v2.6h-2.6zM1617.5 640h2.6v2.6h-2.6zM1617.5 645h2.6v2.6h-2.6zM1617.5 650h2.6v2.6h-2.6zM1617.5 655h2.6v2.6h-2.6zM1617.5 657.5h2.6v2.6h-2.6zM1617.5 677.5h2.6v2.6h-2.6zM1617.5 712.5h2.6v2.6h-2.6zM1617.5 715h2.6v2.6h-2.6zM1617.5 727.5h2.6v2.6h-2.6zM1617.5 730h2.6v2.6h-2.6zM1620 647.5h2.6v2.6h-2.6zM1620 657.5h2.6v2.6h-2.6zM1620 660h2.6v2.6h-2.6zM1620 662.5h2.6v2.6h-2.6zM1620 665h2.6v2.6h-2.6zM1620 667.5h2.6v2.6h-2.6zM1620 670h2.6v2.6h-2.6zM1622.5 647.5h2.6v2.6h-2.6zM1622.5 652.5h2.6v2.6h-2.6zM1622.5 660h2.6v2.6h-2.6zM1622.5 665h2.6v2.6h-2.6zM1622.5 667.5h2.6v2.6h-2.6zM1622.5 670h2.6v2.6h-2.6zM1622.5 672.5h2.6v2.6h-2.6zM1622.5 680h2.6v2.6h-2.6zM1622.5 687.5h2.6v2.6h-2.6zM1622.5 720h2.6v2.6h-2.6zM1625 647.5h2.6v2.6h-2.6zM1625 650h2.6v2.6h-2.6zM1625 652.5h2.6v2.6h-2.6zM1625 655h2.6v2.6h-2.6zM1625 660h2.6v2.6h-2.6zM1625 662.5h2.6v2.6h-2.6zM1625 665h2.6v2.6h-2.6zM1625 667.5h2.6v2.6h-2.6zM1625 672.5h2.6v2.6h-2.6zM1625 675h2.6v2.6h-2.6zM1625 725h2.6v2.6h-2.6zM1625 735h2.6v2.6h-2.6zM1625 740h2.6v2.6h-2.6zM1625 760h2.6v2.6h-2.6zM1625 782.5h2.6v2.6h-2.6zM1627.5 630h2.6v2.6h-2.6zM1627.5 637.5h2.6v2.6h-2.6zM1627.5 647.5h2.6v2.6h-2.6zM1627.5 652.5h2.6v2.6h-2.6zM1627.5 655h2.6v2.6h-2.6zM1627.5 660h2.6v2.6h-2.6zM1627.5 662.5h2.6v2.6h-2.6zM1627.5 665h2.6v2.6h-2.6zM1627.5 667.5h2.6v2.6h-2.6zM1627.5 672.5h2.6v2.6h-2.6zM1627.5 730h2.6v2.6h-2.6zM1630 637.5h2.6v2.6h-2.6zM1630 642.5h2.6v2.6h-2.6zM1630 645h2.6v2.6h-2.6zM1630 652.5h2.6v2.6h-2.6zM1630 657.5h2.6v2.6h-2.6zM1630 660h2.6v2.6h-2.6zM1630 665h2.6v2.6h-2.6zM1630 667.5h2.6v2.6h-2.6zM1630 670h2.6v2.6h-2.6zM1630 672.5h2.6v2.6h-2.6zM1630 680h2.6v2.6h-2.6zM1630 682.5h2.6v2.6h-2.6zM1630 685h2.6v2.6h-2.6zM1632.5 637.5h2.6v2.6h-2.6zM1632.5 642.5h2.6v2.6h-2.6zM1632.5 645h2.6v2.6h-2.6zM1632.5 650h2.6v2.6h-2.6zM1632.5 652.5h2.6v2.6h-2.6zM1632.5 655h2.6v2.6h-2.6zM1632.5 657.5h2.6v2.6h-2.6zM1632.5 660h2.6v2.6h-2.6zM1632.5 662.5h2.6v2.6h-2.6zM1632.5 665h2.6v2.6h-2.6zM1632.5 667.5h2.6v2.6h-2.6zM1632.5 670h2.6v2.6h-2.6zM1632.5 675h2.6v2.6h-2.6zM1632.5 680h2.6v2.6h-2.6zM1632.5 682.5h2.6v2.6h-2.6zM1635 647.5h2.6v2.6h-2.6zM1635 650h2.6v2.6h-2.6zM1635 652.5h2.6v2.6h-2.6zM1635 655h2.6v2.6h-2.6zM1635 657.5h2.6v2.6h-2.6zM1635 660h2.6v2.6h-2.6zM1635 662.5h2.6v2.6h-2.6zM1635 665h2.6v2.6h-2.6zM1635 667.5h2.6v2.6h-2.6zM1635 670h2.6v2.6h-2.6zM1635 672.5h2.6v2.6h-2.6zM1635 675h2.6v2.6h-2.6zM1635 677.5h2.6v2.6h-2.6zM1635 680h2.6v2.6h-2.6zM1635 697.5h2.6v2.6h-2.6zM1635 720h2.6v2.6h-2.6zM1635 740h2.6v2.6h-2.6zM1637.5 622.5h2.6v2.6h-2.6zM1637.5 625h2.6v2.6h-2.6zM1637.5 635h2.6v2.6h-2.6zM1637.5 642.5h2.6v2.6h-2.6zM1637.5 647.5h2.6v2.6h-2.6zM1637.5 650h2.6v2.6h-2.6zM1637.5 652.5h2.6v2.6h-2.6zM1637.5 655h2.6v2.6h-2.6zM1637.5 657.5h2.6v2.6h-2.6zM1637.5 660h2.6v2.6h-2.6zM1637.5 662.5h2.6v2.6h-2.6zM1637.5 665h2.6v2.6h-2.6zM1637.5 667.5h2.6v2.6h-2.6zM1637.5 670h2.6v2.6h-2.6zM1637.5 672.5h2.6v2.6h-2.6zM1637.5 675h2.6v2.6h-2.6zM1637.5 677.5h2.6v2.6h-2.6zM1637.5 682.5h2.6v2.6h-2.6zM1637.5 687.5h2.6v2.6h-2.6zM1637.5 717.5h2.6v2.6h-2.6zM1637.5 770h2.6v2.6h-2.6zM1640 637.5h2.6v2.6h-2.6zM1640 640h2.6v2.6h-2.6zM1640 642.5h2.6v2.6h-2.6zM1640 650h2.6v2.6h-2.6zM1640 652.5h2.6v2.6h-2.6zM1640 655h2.6v2.6h-2.6zM1640 657.5h2.6v2.6h-2.6zM1640 660h2.6v2.6h-2.6zM1640 662.5h2.6v2.6h-2.6zM1640 665h2.6v2.6h-2.6zM1640 667.5h2.6v2.6h-2.6zM1640 670h2.6v2.6h-2.6zM1640 672.5h2.6v2.6h-2.6zM1640 675h2.6v2.6h-2.6zM1640 677.5h2.6v2.6h-2.6zM1640 682.5h2.6v2.6h-2.6zM1640 727.5h2.6v2.6h-2.6zM1642.5 627.5h2.6v2.6h-2.6zM1642.5 635h2.6v2.6h-2.6zM1642.5 640h2.6v2.6h-2.6zM1642.5 642.5h2.6v2.6h-2.6zM1642.5 645h2.6v2.6h-2.6zM1642.5 647.5h2.6v2.6h-2.6zM1642.5 650h2.6v2.6h-2.6zM1642.5 652.5h2.6v2.6h-2.6zM1642.5 655h2.6v2.6h-2.6zM1642.5 657.5h2.6v2.6h-2.6zM1642.5 660h2.6v2.6h-2.6zM1642.5 662.5h2.6v2.6h-2.6zM1642.5 665h2.6v2.6h-2.6zM1642.5 667.5h2.6v2.6h-2.6zM1642.5 670h2.6v2.6h-2.6zM1642.5 672.5h2.6v2.6h-2.6zM1642.5 677.5h2.6v2.6h-2.6zM1642.5 687.5h2.6v2.6h-2.6zM1645 635h2.6v2.6h-2.6zM1645 642.5h2.6v2.6h-2.6zM1645 645h2.6v2.6h-2.6zM1645 647.5h2.6v2.6h-2.6zM1645 650h2.6v2.6h-2.6zM1645 652.5h2.6v2.6h-2.6zM1645 655h2.6v2.6h-2.6zM1645 657.5h2.6v2.6h-2.6zM1645 660h2.6v2.6h-2.6zM1645 662.5h2.6v2.6h-2.6zM1645 665h2.6v2.6h-2.6zM1645 667.5h2.6v2.6h-2.6zM1645 670h2.6v2.6h-2.6zM1645 672.5h2.6v2.6h-2.6zM1645 675h2.6v2.6h-2.6zM1645 677.5h2.6v2.6h-2.6zM1645 680h2.6v2.6h-2.6zM1645 682.5h2.6v2.6h-2.6zM1645 687.5h2.6v2.6h-2.6zM1645 750h2.6v2.6h-2.6zM1647.5 637.5h2.6v2.6h-2.6zM1647.5 640h2.6v2.6h-2.6zM1647.5 645h2.6v2.6h-2.6zM1647.5 647.5h2.6v2.6h-2.6zM1647.5 650h2.6v2.6h-2.6zM1647.5 652.5h2.6v2.6h-2.6zM1647.5 655h2.6v2.6h-2.6zM1647.5 657.5h2.6v2.6h-2.6zM1647.5 660h2.6v2.6h-2.6zM1647.5 662.5h2.6v2.6h-2.6zM1647.5 665h2.6v2.6h-2.6zM1647.5 667.5h2.6v2.6h-2.6zM1647.5 670h2.6v2.6h-2.6zM1647.5 672.5h2.6v2.6h-2.6zM1647.5 675h2.6v2.6h-2.6zM1647.5 677.5h2.6v2.6h-2.6zM1647.5 680h2.6v2.6h-2.6zM1647.5 682.5h2.6v2.6h-2.6zM1647.5 690h2.6v2.6h-2.6zM1647.5 745h2.6v2.6h-2.6zM1650 635h2.6v2.6h-2.6zM1650 637.5h2.6v2.6h-2.6zM1650 642.5h2.6v2.6h-2.6zM1650 645h2.6v2.6h-2.6zM1650 647.5h2.6v2.6h-2.6zM1650 650h2.6v2.6h-2.6zM1650 652.5h2.6v2.6h-2.6zM1650 655h2.6v2.6h-2.6zM1650 657.5h2.6v2.6h-2.6zM1650 660h2.6v2.6h-2.6zM1650 662.5h2.6v2.6h-2.6zM1650 665h2.6v2.6h-2.6zM1650 667.5h2.6v2.6h-2.6zM1650 670h2.6v2.6h-2.6zM1650 672.5h2.6v2.6h-2.6zM1650 687.5h2.6v2.6h-2.6zM1650 735h2.6v2.6h-2.6zM1650 785h2.6v2.6h-2.6zM1652.5 635h2.6v2.6h-2.6zM1652.5 640h2.6v2.6h-2.6zM1652.5 645h2.6v2.6h-2.6zM1652.5 647.5h2.6v2.6h-2.6zM1652.5 650h2.6v2.6h-2.6zM1652.5 652.5h2.6v2.6h-2.6zM1652.5 655h2.6v2.6h-2.6zM1652.5 657.5h2.6v2.6h-2.6zM1652.5 660h2.6v2.6h-2.6zM1652.5 662.5h2.6v2.6h-2.6zM1652.5 665h2.6v2.6h-2.6zM1652.5 667.5h2.6v2.6h-2.6zM1652.5 670h2.6v2.6h-2.6zM1652.5 672.5h2.6v2.6h-2.6zM1652.5 675h2.6v2.6h-2.6zM1652.5 677.5h2.6v2.6h-2.6zM1652.5 727.5h2.6v2.6h-2.6zM1655 615h2.6v2.6h-2.6zM1655 627.5h2.6v2.6h-2.6zM1655 645h2.6v2.6h-2.6zM1655 647.5h2.6v2.6h-2.6zM1655 650h2.6v2.6h-2.6zM1655 652.5h2.6v2.6h-2.6zM1655 655h2.6v2.6h-2.6zM1655 657.5h2.6v2.6h-2.6zM1655 660h2.6v2.6h-2.6zM1655 662.5h2.6v2.6h-2.6zM1655 665h2.6v2.6h-2.6zM1655 667.5h2.6v2.6h-2.6zM1655 670h2.6v2.6h-2.6zM1655 675h2.6v2.6h-2.6zM1655 680h2.6v2.6h-2.6zM1655 682.5h2.6v2.6h-2.6zM1655 687.5h2.6v2.6h-2.6zM1655 725h2.6v2.6h-2.6zM1657.5 645h2.6v2.6h-2.6zM1657.5 647.5h2.6v2.6h-2.6zM1657.5 650h2.6v2.6h-2.6zM1657.5 652.5h2.6v2.6h-2.6zM1657.5 655h2.6v2.6h-2.6zM1657.5 657.5h2.6v2.6h-2.6zM1657.5 660h2.6v2.6h-2.6zM1657.5 662.5h2.6v2.6h-2.6zM1657.5 665h2.6v2.6h-2.6zM1657.5 667.5h2.6v2.6h-2.6zM1657.5 670h2.6v2.6h-2.6zM1657.5 672.5h2.6v2.6h-2.6zM1657.5 745h2.6v2.6h-2.6zM1660 630h2.6v2.6h-2.6zM1660 637.5h2.6v2.6h-2.6zM1660 647.5h2.6v2.6h-2.6zM1660 650h2.6v2.6h-2.6zM1660 652.5h2.6v2.6h-2.6zM1660 657.5h2.6v2.6h-2.6zM1660 660h2.6v2.6h-2.6zM1660 662.5h2.6v2.6h-2.6zM1660 665h2.6v2.6h-2.6zM1660 667.5h2.6v2.6h-2.6zM1660 670h2.6v2.6h-2.6zM1660 677.5h2.6v2.6h-2.6zM1660 680h2.6v2.6h-2.6zM1660 740h2.6v2.6h-2.6zM1662.5 625h2.6v2.6h-2.6zM1662.5 640h2.6v2.6h-2.6zM1662.5 642.5h2.6v2.6h-2.6zM1662.5 645h2.6v2.6h-2.6zM1662.5 650h2.6v2.6h-2.6zM1662.5 652.5h2.6v2.6h-2.6zM1662.5 655h2.6v2.6h-2.6zM1662.5 660h2.6v2.6h-2.6zM1662.5 662.5h2.6v2.6h-2.6zM1662.5 665h2.6v2.6h-2.6zM1662.5 667.5h2.6v2.6h-2.6zM1662.5 670h2.6v2.6h-2.6zM1662.5 672.5h2.6v2.6h-2.6zM1662.5 675h2.6v2.6h-2.6zM1662.5 742.5h2.6v2.6h-2.6zM1662.5 770h2.6v2.6h-2.6zM1665 635h2.6v2.6h-2.6zM1665 637.5h2.6v2.6h-2.6zM1665 640h2.6v2.6h-2.6zM1665 647.5h2.6v2.6h-2.6zM1665 650h2.6v2.6h-2.6zM1665 652.5h2.6v2.6h-2.6zM1665 657.5h2.6v2.6h-2.6zM1665 660h2.6v2.6h-2.6zM1665 662.5h2.6v2.6h-2.6zM1665 665h2.6v2.6h-2.6zM1665 667.5h2.6v2.6h-2.6zM1665 670h2.6v2.6h-2.6zM1665 680h2.6v2.6h-2.6zM1665 682.5h2.6v2.6h-2.6zM1665 740h2.6v2.6h-2.6zM1665 785h2.6v2.6h-2.6zM1667.5 630h2.6v2.6h-2.6zM1667.5 640h2.6v2.6h-2.6zM1667.5 645h2.6v2.6h-2.6zM1667.5 647.5h2.6v2.6h-2.6zM1667.5 650h2.6v2.6h-2.6zM1667.5 652.5h2.6v2.6h-2.6zM1667.5 660h2.6v2.6h-2.6zM1667.5 662.5h2.6v2.6h-2.6zM1667.5 665h2.6v2.6h-2.6zM1667.5 667.5h2.6v2.6h-2.6zM1667.5 672.5h2.6v2.6h-2.6zM1667.5 675h2.6v2.6h-2.6zM1667.5 680h2.6v2.6h-2.6zM1670 632.5h2.6v2.6h-2.6zM1670 640h2.6v2.6h-2.6zM1670 647.5h2.6v2.6h-2.6zM1670 650h2.6v2.6h-2.6zM1670 652.5h2.6v2.6h-2.6zM1670 660h2.6v2.6h-2.6zM1670 665h2.6v2.6h-2.6zM1670 667.5h2.6v2.6h-2.6zM1670 752.5h2.6v2.6h-2.6zM1672.5 642.5h2.6v2.6h-2.6zM1672.5 645h2.6v2.6h-2.6zM1672.5 667.5h2.6v2.6h-2.6zM1672.5 670h2.6v2.6h-2.6zM1672.5 675h2.6v2.6h-2.6zM1672.5 680h2.6v2.6h-2.6zM1675 645h2.6v2.6h-2.6zM1675 650h2.6v2.6h-2.6zM1675 655h2.6v2.6h-2.6zM1675 657.5h2.6v2.6h-2.6zM1675 677.5h2.6v2.6h-2.6zM1675 787.5h2.6v2.6h-2.6zM1677.5 650h2.6v2.6h-2.6zM1677.5 657.5h2.6v2.6h-2.6zM1677.5 660h2.6v2.6h-2.6zM1680 642.5h2.6v2.6h-2.6zM1680 652.5h2.6v2.6h-2.6zM1680 657.5h2.6v2.6h-2.6zM1680 660h2.6v2.6h-2.6zM1680 662.5h2.6v2.6h-2.6zM1680 737.5h2.6v2.6h-2.6zM1680 742.5h2.6v2.6h-2.6zM1680 755h2.6v2.6h-2.6zM1680 780h2.6v2.6h-2.6zM1682.5 670h2.6v2.6h-2.6zM1682.5 717.5h2.6v2.6h-2.6zM1685 647.5h2.6v2.6h-2.6zM1685 652.5h2.6v2.6h-2.6zM1685 667.5h2.6v2.6h-2.6zM1685 712.5h2.6v2.6h-2.6zM1687.5 770h2.6v2.6h-2.6zM1690 655h2.6v2.6h-2.6zM1690 657.5h2.6v2.6h-2.6zM1690 665h2.6v2.6h-2.6z"/>
<path d="M1511.1 578.2H1763.6V793.3H1511.1ZM1604.9 578.2V793.3M1511.1 706.4H1763.6" stroke="#000" stroke-width="2.4" fill="none"/>
<path d="M1513.1 793.3v9M1511.1 793.3h-8.5M1532 793.3v4.5M1511.1 777.1h-4.5M1543 793.3v4.5M1511.1 767.6h-4.5M1550.8 793.3v4.5M1511.1 760.9h-4.5M1556.9 793.3v4.5M1511.1 755.7h-4.5M1561.8 793.3v4.5M1511.1 751.5h-4.5M1566 793.3v4.5M1511.1 747.9h-4.5M1569.7 793.3v4.5M1511.1 744.7h-4.5M1572.9 793.3v4.5M1511.1 742h-4.5M1575.7 793.3v9M1511.1 739.5h-8.5M1594.6 793.3v4.5M1511.1 723.3h-4.5M1605.6 793.3v4.5M1511.1 713.9h-4.5M1613.4 793.3v4.5M1511.1 707.1h-4.5M1619.5 793.3v4.5M1511.1 701.9h-4.5M1624.5 793.3v4.5M1511.1 697.7h-4.5M1628.6 793.3v4.5M1511.1 694.1h-4.5M1632.3 793.3v4.5M1511.1 691h-4.5M1635.5 793.3v4.5M1511.1 688.2h-4.5M1638.3 793.3v9M1511.1 685.8h-8.5M1657.2 793.3v4.5M1511.1 669.6h-4.5M1668.2 793.3v4.5M1511.1 660.1h-4.5M1676.1 793.3v4.5M1511.1 653.4h-4.5M1682.1 793.3v4.5M1511.1 648.2h-4.5M1687.1 793.3v4.5M1511.1 643.9h-4.5M1691.3 793.3v4.5M1511.1 640.3h-4.5M1694.9 793.3v4.5M1511.1 637.2h-4.5M1698.1 793.3v4.5M1511.1 634.4h-4.5M1701 793.3v9M1511.1 632h-8.5M1719.8 793.3v4.5M1511.1 615.8h-4.5M1730.9 793.3v4.5M1511.1 606.3h-4.5M1738.7 793.3v4.5M1511.1 599.6h-4.5M1744.7 793.3v4.5M1511.1 594.4h-4.5M1749.7 793.3v4.5M1511.1 590.1h-4.5M1753.9 793.3v4.5M1511.1 586.5h-4.5M1757.5 793.3v4.5M1511.1 583.4h-4.5M1760.7 793.3v4.5M1511.1 580.7h-4.5M1763.6 793.3v9M1511.1 578.2h-8.5" stroke="#000" stroke-width="2.4" fill="none"/>
<text class="S" x="1499.6" y="824" font-size="19.4" font-weight="bold" textLength="17.5" lengthAdjust="spacingAndGlyphs">10</text>
<text class="S" x="1516.7" y="814.2" font-size="22.3" textLength="11.6" lengthAdjust="spacingAndGlyphs">0</text>
<text class="S" x="1562.2" y="824" font-size="19.4" font-weight="bold" textLength="17.5" lengthAdjust="spacingAndGlyphs">10</text>
<text class="S" x="1578.4" y="814.4" font-size="22.9" textLength="12.8" lengthAdjust="spacingAndGlyphs">1</text>
<text class="S" x="1624.8" y="824" font-size="19.4" font-weight="bold" textLength="17.5" lengthAdjust="spacingAndGlyphs">10</text>
<text class="S" x="1641.7" y="814.4" font-size="22.6" textLength="12.2" lengthAdjust="spacingAndGlyphs">2</text>
<text class="S" x="1687.4" y="824" font-size="19.4" font-weight="bold" textLength="17.5" lengthAdjust="spacingAndGlyphs">10</text>
<text class="S" x="1704.5" y="814.2" font-size="22.3" textLength="11.7" lengthAdjust="spacingAndGlyphs">3</text>
<text class="S" x="1750.1" y="824" font-size="19.4" font-weight="bold" textLength="17.5" lengthAdjust="spacingAndGlyphs">10</text>
<text class="S" x="1767.6" y="814.4" font-size="22.9" textLength="11" lengthAdjust="spacingAndGlyphs">4</text>
<text class="S" transform="translate(0,805.1) rotate(-90)" x="-0.9" y="1496.8" font-size="21.7" font-weight="bold" textLength="16.5" lengthAdjust="spacingAndGlyphs">10</text>
<text class="S" transform="translate(0,786.1) rotate(-90)" x="-0.8" y="1485.7" font-size="19.7" textLength="11.6" lengthAdjust="spacingAndGlyphs">0</text>
<text class="S" transform="translate(0,751.3) rotate(-90)" x="-0.9" y="1496.8" font-size="21.7" font-weight="bold" textLength="16.5" lengthAdjust="spacingAndGlyphs">10</text>
<text class="S" transform="translate(0,732.3) rotate(-90)" x="-1.7" y="1485.9" font-size="20.3" textLength="12.8" lengthAdjust="spacingAndGlyphs">1</text>
<text class="S" transform="translate(0,697.5) rotate(-90)" x="-0.9" y="1496.8" font-size="21.7" font-weight="bold" textLength="16.5" lengthAdjust="spacingAndGlyphs">10</text>
<text class="S" transform="translate(0,678.5) rotate(-90)" x="-1.1" y="1485.9" font-size="20" textLength="12.2" lengthAdjust="spacingAndGlyphs">2</text>
<text class="S" transform="translate(0,643.8) rotate(-90)" x="-0.9" y="1496.8" font-size="21.7" font-weight="bold" textLength="16.5" lengthAdjust="spacingAndGlyphs">10</text>
<text class="S" transform="translate(0,624.8) rotate(-90)" x="-0.8" y="1485.7" font-size="19.7" textLength="11.7" lengthAdjust="spacingAndGlyphs">3</text>
<text class="S" transform="translate(0,590) rotate(-90)" x="-0.9" y="1496.8" font-size="21.7" font-weight="bold" textLength="16.5" lengthAdjust="spacingAndGlyphs">10</text>
<text class="S" transform="translate(0,571) rotate(-90)" x="-0.4" y="1485.9" font-size="20.3" textLength="11" lengthAdjust="spacingAndGlyphs">4</text>
<text class="S" transform="translate(0,695) rotate(-90)" x="-1.5" y="1472.2" font-size="22.8" textLength="17.5" lengthAdjust="spacingAndGlyphs">PI</text>
<text class="M" x="1589" y="843.9" font-size="16.7" textLength="129.1" lengthAdjust="spacingAndGlyphs" stroke="#000" stroke-width="0.35">Annexin V-FITC</text>
<text class="S" x="1699.1" y="604.6" font-size="20.8" textLength="53.4" lengthAdjust="spacingAndGlyphs">32. 5%</text>
<text class="S" x="1701.5" y="779.6" font-size="21.3" textLength="54" lengthAdjust="spacingAndGlyphs">3. 65%</text>
<path d="M509.1 962.6V1275H1083.7M509.1 1196.9h11M509.1 1118.8h11M509.1 1040.7h11M509.1 962.6h11M652.7 1275v-13M796.3 1275v-13M939.9 1275v-13M1083.5 1275v-13" stroke="#000" stroke-width="3" fill="none"/>
<rect x="552.7" y="1267.6" width="57" height="7.4" fill="#a0a0a0" stroke="#000" stroke-width="3"/>
<path d="M581.2 1267.6V1258.6M576.2 1258.6h10" stroke="#000" stroke-width="1.6" fill="none"/>
<rect x="695.7" y="1255.5" width="57" height="19.5" fill="#a0a0a0" stroke="#000" stroke-width="3"/>
<path d="M724.2 1255.5V1220.3M719.2 1220.3h10" stroke="#000" stroke-width="1.6" fill="none"/>
<rect x="839.1" y="1192.2" width="57" height="82.8" fill="#a0a0a0" stroke="#000" stroke-width="3"/>
<path d="M867.6 1192.2V1164.9M862.6 1164.9h10" stroke="#000" stroke-width="1.6" fill="none"/>
<path d="M867.5 1133.9V1150.5M860.3 1138L874.7 1146.4M860.3 1146.4L874.7 1138" stroke="#000" stroke-width="2.7" fill="none"/>
<rect x="982.3" y="1076.6" width="58" height="198.4" fill="#a0a0a0" stroke="#000" stroke-width="3"/>
<path d="M1011.3 1076.6V1035.2M1006.3 1035.2h10" stroke="#000" stroke-width="1.6" fill="none"/>
<path d="M1009.8 1000.4V1017M1002.6 1004.6L1017 1012.9M1002.6 1012.9L1017 1004.6" stroke="#000" stroke-width="2.7" fill="none"/>
<text class="R" x="455.4" y="975.5" font-size="34.5" textLength="30" lengthAdjust="spacingAndGlyphs" stroke="#000" stroke-width="0.7">40</text>
<text class="R" x="454.6" y="1053.6" font-size="33.9" textLength="30.5" lengthAdjust="spacingAndGlyphs" stroke="#000" stroke-width="0.7">30</text>
<text class="R" x="454.6" y="1133.5" font-size="34.1" textLength="30.6" lengthAdjust="spacingAndGlyphs" stroke="#000" stroke-width="0.7">20</text>
<text class="R" x="453.3" y="1211.3" font-size="33.9" textLength="32" lengthAdjust="spacingAndGlyphs" stroke="#000" stroke-width="0.7">10</text>
<text class="R" x="468.7" y="1289.2" font-size="34.1" textLength="16.5" lengthAdjust="spacingAndGlyphs" stroke="#000" stroke-width="0.7">0</text>
<text class="R" x="574.4" y="1337.7" font-size="32.1" textLength="15.7" lengthAdjust="spacingAndGlyphs" stroke="#000" stroke-width="0.7">0</text>
<text class="R" x="708.4" y="1337.7" font-size="32.1" textLength="32.3" lengthAdjust="spacingAndGlyphs" stroke="#000" stroke-width="0.7">50</text>
<text class="R" x="846" y="1337.7" font-size="32.1" textLength="46.1" lengthAdjust="spacingAndGlyphs" stroke="#000" stroke-width="0.7">100</text>
<text class="R" x="988.6" y="1337.7" font-size="32.1" textLength="46.6" lengthAdjust="spacingAndGlyphs" stroke="#000" stroke-width="0.7">200</text>
<text class="R" transform="translate(0,1270) rotate(-90)" x="-0.3" y="435.2" font-size="28.5" font-weight="bold" textLength="307.3" lengthAdjust="spacing">Apoptosis rate %</text>
<text class="R" x="685.8" y="1392.5" font-size="34.1" textLength="43.6" lengthAdjust="spacingAndGlyphs" stroke="#000" stroke-width="0.5">DHA</text>
<text class="R" x="751.6" y="1388.4" font-size="30.5" textLength="16.8" lengthAdjust="spacingAndGlyphs">μ</text>
<text class="R" x="775.1" y="1392.5" font-size="34.4" textLength="15.6" lengthAdjust="spacingAndGlyphs" stroke="#000" stroke-width="0.5">M</text>
<text class="R" x="803.3" y="1387.3" font-size="29.1" textLength="11.9" lengthAdjust="spacingAndGlyphs">(</text>
<text class="R" x="818.6" y="1392.2" font-size="33.3" textLength="32.2" lengthAdjust="spacingAndGlyphs" stroke="#000" stroke-width="0.5">10</text>
<text class="R" x="865.6" y="1392.5" font-size="32.4" textLength="13.7" lengthAdjust="spacingAndGlyphs" stroke="#000" stroke-width="0.5">h</text>
<text class="R" x="882.3" y="1387.3" font-size="29.1" textLength="12.3" lengthAdjust="spacingAndGlyphs">)</text>
<path d="M1232.2 960.5V1273.7H1762.7M1232.2 1211.1h11M1232.2 1148.4h11M1232.2 1085.8h11M1232.2 1023.1h11M1232.2 960.5h11M1364.8 1273.7v-13M1497.4 1273.7v-13M1630 1273.7v-13M1762.6 1273.7v-13" stroke="#000" stroke-width="3" fill="none"/>
<rect x="1271.8" y="1255.2" width="53" height="18.5" fill="#a0a0a0" stroke="#000" stroke-width="3"/>
<path d="M1298.3 1255.2V1243.6M1293.3 1243.6h10" stroke="#000" stroke-width="1.6" fill="none"/>
<rect x="1404.2" y="1214.8" width="54" height="58.9" fill="#a0a0a0" stroke="#000" stroke-width="3"/>
<path d="M1431.2 1214.8V1187.3M1426.2 1187.3h10" stroke="#000" stroke-width="1.6" fill="none"/>
<path d="M1429.5 1151.3V1167.9M1422.3 1155.4L1436.7 1163.8M1422.3 1163.8L1436.7 1155.4" stroke="#000" stroke-width="2.7" fill="none"/>
<rect x="1537.5" y="1129" width="53" height="144.7" fill="#a0a0a0" stroke="#000" stroke-width="3"/>
<path d="M1564 1129V1115.2M1559 1115.2h10" stroke="#000" stroke-width="1.6" fill="none"/>
<path d="M1563.4 1078.6V1095.2M1556.2 1082.8L1570.6 1091.1M1556.2 1091.1L1570.6 1082.8" stroke="#000" stroke-width="2.7" fill="none"/>
<rect x="1669.7" y="1046.9" width="53" height="226.8" fill="#a0a0a0" stroke="#000" stroke-width="3"/>
<path d="M1696.2 1046.9V1000M1691.2 1000h10" stroke="#000" stroke-width="1.6" fill="none"/>
<path d="M1697 965.7V982.3M1689.8 969.9L1704.2 978.1M1689.8 978.1L1704.2 969.9" stroke="#000" stroke-width="2.7" fill="none"/>
<text class="R" x="1177.6" y="973.4" font-size="31.4" textLength="31" lengthAdjust="spacingAndGlyphs" stroke="#000" stroke-width="0.7">50</text>
<text class="R" x="1178.9" y="1037" font-size="33.2" textLength="29.7" lengthAdjust="spacingAndGlyphs" stroke="#000" stroke-width="0.7">40</text>
<text class="R" x="1178.1" y="1098.1" font-size="31.4" textLength="30.5" lengthAdjust="spacingAndGlyphs" stroke="#000" stroke-width="0.7">30</text>
<text class="R" x="1178.1" y="1161.7" font-size="33.2" textLength="30.5" lengthAdjust="spacingAndGlyphs" stroke="#000" stroke-width="0.7">20</text>
<text class="R" x="1176.8" y="1222.9" font-size="31.4" textLength="31.9" lengthAdjust="spacingAndGlyphs" stroke="#000" stroke-width="0.7">10</text>
<text class="R" x="1192.4" y="1286.5" font-size="33.2" textLength="16.3" lengthAdjust="spacingAndGlyphs" stroke="#000" stroke-width="0.7">0</text>
<text class="R" x="1290.7" y="1332.7" font-size="31.1" textLength="16" lengthAdjust="spacingAndGlyphs" stroke="#000" stroke-width="0.7">0</text>
<text class="R" x="1414.1" y="1332.7" font-size="31.1" textLength="32.2" lengthAdjust="spacingAndGlyphs" stroke="#000" stroke-width="0.7">50</text>
<text class="R" x="1540.4" y="1332.7" font-size="31.1" textLength="45.8" lengthAdjust="spacingAndGlyphs" stroke="#000" stroke-width="0.7">100</text>
<text class="R" x="1672.6" y="1332.7" font-size="31.1" textLength="45.6" lengthAdjust="spacingAndGlyphs" stroke="#000" stroke-width="0.7">200</text>
<text class="R" transform="translate(0,1258.2) rotate(-90)" x="-0.3" y="1157.9" font-size="26.7" font-weight="bold" textLength="287.6" lengthAdjust="spacing">Apoptosis rate %</text>
<text class="R" x="1377.9" y="1385" font-size="31.7" textLength="44.1" lengthAdjust="spacingAndGlyphs" stroke="#000" stroke-width="0.5">DHA</text>
<text class="R" x="1444.8" y="1381.3" font-size="28.9" textLength="16.8" lengthAdjust="spacingAndGlyphs">μ</text>
<text class="R" x="1466.6" y="1385" font-size="31.9" textLength="15.7" lengthAdjust="spacingAndGlyphs" stroke="#000" stroke-width="0.5">M</text>
<text class="R" x="1510.7" y="1380.2" font-size="27.3" textLength="11.1" lengthAdjust="spacingAndGlyphs">(</text>
<text class="R" x="1525.4" y="1384.7" font-size="31" textLength="31" lengthAdjust="spacingAndGlyphs" stroke="#000" stroke-width="0.5">10</text>
<text class="R" x="1571.8" y="1385" font-size="30.1" textLength="13.6" lengthAdjust="spacingAndGlyphs" stroke="#000" stroke-width="0.5">h</text>
<text class="R" x="1589" y="1380.2" font-size="27.3" textLength="11.7" lengthAdjust="spacingAndGlyphs">)</text>
</svg></body></html>
